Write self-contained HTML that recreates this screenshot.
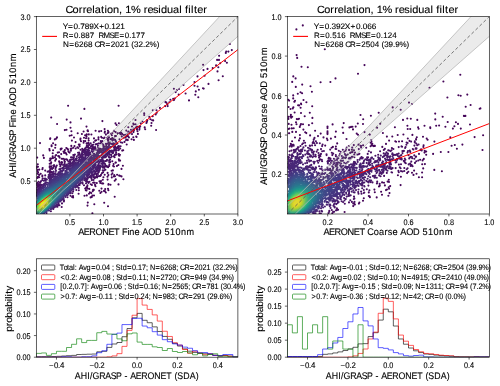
<!DOCTYPE html><html><head><meta charset="utf-8"><style>html,body{margin:0;padding:0;background:#fff;width:500px;height:386px;overflow:hidden}svg{display:block;will-change:transform}text{font-family:"Liberation Sans",sans-serif;fill:#000;stroke:#000;stroke-width:0.12px;text-rendering:geometricPrecision}</style></head><body>
<svg width="500" height="386" viewBox="0 0 500 386"><defs><clipPath id="ctl"><rect x="36.3" y="16.6" width="201.60" height="197.40"/></clipPath><clipPath id="ctr"><rect x="287.3" y="16.6" width="202.00" height="197.40"/></clipPath><clipPath id="cbl"><rect x="36.3" y="258.8" width="201.60" height="98.40"/></clipPath><clipPath id="cbr"><rect x="287.3" y="258.8" width="202.00" height="98.40"/></clipPath></defs>
<g clip-path="url(#ctl)" stroke-linecap="round" stroke-width="2.1" fill="none">
<path stroke="#450559" d="M156.1 130.0h0M118.6 105.7h0M51.2 117.5h0M68.1 105.7h0M84.4 108.9h0M203.1 64.8h0M92.4 213.2h0M108.0 206.2h0M57.1 124.0h0M40.0 143.1h0M66.7 119.6h0M114.7 196.8h0M229.9 44.0h0M104.2 202.7h0M102.4 121.1h0M94.3 204.3h0M81.0 118.6h0M198.3 97.3h0M70.5 122.4h0M173.9 88.7h0M37.2 157.6h0M185.6 93.5h0M217.5 71.4h0M222.8 76.2h0M218.6 80.3h0M189.0 100.4h0M87.5 205.6h0M123.4 179.2h0M194.5 82.0h0M226.9 62.7h0M71.4 131.3h0M118.5 184.4h0M197.6 86.5h0M204.6 75.7h0M194.5 85.7h0M197.5 76.4h0M203.5 70.1h0M86.5 126.6h0M50.3 138.3h0M50.1 138.9h0M144.2 113.4h0M69.7 135.7h0M152.8 110.3h0M231.8 50.1h0M208.5 83.9h0M70.5 127.8h0M219.1 55.8h0M71.6 135.2h0M183.5 85.0h0M207.5 68.9h0M151.2 125.8h0M225.1 61.1h0M122.9 165.8h0M218.3 67.3h0M87.8 202.6h0M144.2 115.0h0M195.8 91.4h0M77.7 133.3h0M64.8 130.1h0M195.3 94.7h0M66.5 129.7h0M212.7 68.1h0M43.9 157.9h0M115.5 123.4h0M43.2 155.4h0M217.1 59.9h0M118.9 123.2h0M203.7 88.6h0M220.2 63.3h0M37.8 164.3h0M74.0 137.5h0M216.1 65.4h0M219.0 59.9h0M198.9 89.7h0M177.0 90.1h0M226.2 51.5h0M179.0 89.0h0M228.4 51.6h0M203.0 88.2h0M121.5 176.4h0M175.7 92.1h0M61.7 207.0h0M135.5 120.0h0M99.1 131.4h0M55.2 147.8h0M178.7 94.5h0M104.6 129.1h0M225.8 52.9h0M71.9 140.6h0M95.6 130.8h0M53.1 150.2h0M121.5 168.9h0M57.0 137.4h0M101.2 131.0h0M54.8 139.4h0M37.0 166.6h0M55.5 144.9h0M105.8 192.5h0M56.3 138.6h0M116.6 125.0h0M36.7 167.6h0M145.2 129.3h0M151.5 123.0h0M108.4 190.3h0M167.7 106.1h0M83.6 131.5h0M165.4 102.1h0M53.1 143.2h0M38.0 166.7h0M51.6 145.4h0M49.7 150.5h0M156.5 110.2h0M133.9 139.9h0M153.2 120.4h0M49.4 149.1h0M51.6 146.2h0M81.9 134.0h0M73.1 197.4h0M87.7 130.2h0M52.7 153.3h0M90.6 197.4h0M159.9 107.9h0M84.5 195.7h0M119.9 175.7h0M173.9 100.1h0M118.4 165.0h0M91.8 196.9h0M136.5 136.9h0M37.5 169.9h0M87.5 130.7h0M174.7 98.5h0M78.6 193.8h0M119.1 175.6h0M152.2 120.2h0M92.4 195.5h0M94.0 195.5h0M88.0 131.2h0M166.4 102.6h0M101.5 188.6h0M156.7 112.7h0M136.2 136.5h0M99.3 190.7h0M155.7 114.5h0M120.1 160.6h0M165.2 106.1h0M116.9 166.0h0M173.2 98.7h0M170.4 99.8h0M144.7 127.4h0M86.8 195.4h0M114.7 180.8h0M100.4 193.0h0M108.0 188.8h0M115.8 179.4h0M37.7 171.6h0M91.4 134.5h0M104.8 191.1h0M133.3 123.6h0M167.4 104.2h0M149.3 116.9h0M37.5 173.7h0M104.9 131.6h0M39.3 169.6h0M137.9 133.9h0M101.6 191.7h0M117.1 174.8h0M108.5 184.1h0M110.5 184.8h0M38.1 172.6h0M169.4 102.3h0M72.1 197.0h0M108.4 184.7h0M104.0 190.9h0M119.0 160.6h0M112.4 173.3h0M103.2 183.5h0M112.9 170.4h0M152.7 116.2h0M91.2 193.1h0M37.4 177.9h0M75.6 142.1h0M73.0 196.1h0M89.0 193.7h0M111.6 174.6h0M115.0 176.2h0M105.2 189.1h0M114.2 175.1h0M118.8 159.3h0M38.0 176.7h0M113.9 130.9h0M131.6 139.2h0M111.6 170.8h0M88.8 134.4h0M128.3 127.3h0M113.9 176.5h0M80.5 138.5h0M111.8 177.4h0M107.6 179.6h0M107.9 130.8h0M133.3 137.2h0M86.7 134.4h0M126.7 144.5h0M60.7 148.9h0M115.6 132.1h0M102.2 183.5h0M150.4 119.3h0M133.6 124.5h0M85.1 135.3h0M102.1 183.4h0M88.5 138.4h0M39.2 174.9h0M61.7 148.5h0M92.7 191.2h0M114.0 166.5h0M89.8 192.3h0M142.5 121.5h0M104.7 132.7h0M42.7 168.0h0M123.2 150.2h0M108.4 175.1h0M93.8 189.9h0M88.7 140.5h0M42.4 169.2h0M107.5 176.7h0M107.6 172.9h0M147.1 120.0h0M135.5 124.3h0M86.5 190.4h0M146.4 123.0h0M61.0 149.3h0M80.4 139.8h0M147.3 120.3h0M93.1 189.7h0M40.7 173.7h0M86.5 136.4h0M85.8 190.3h0M94.0 138.4h0M119.6 155.6h0M147.0 121.8h0M115.9 162.6h0M60.7 149.6h0M39.2 177.3h0M113.2 165.9h0M66.3 148.0h0M84.0 137.7h0M103.4 177.3h0M100.3 183.0h0M108.6 132.0h0M115.5 162.6h0M102.8 179.7h0M85.3 141.1h0M119.9 154.7h0M86.0 138.3h0M112.4 133.0h0M71.3 145.9h0M89.3 188.9h0M95.5 186.3h0M104.7 174.7h0M101.0 181.1h0M122.2 150.6h0M78.3 148.0h0M137.5 131.3h0M117.6 133.2h0M83.6 142.8h0M139.4 129.6h0M108.1 132.7h0M140.8 123.2h0M132.0 126.5h0M99.5 181.2h0M78.8 190.3h0M119.0 155.6h0M79.6 146.2h0M121.1 132.6h0M119.6 133.0h0M95.0 184.9h0M83.7 141.1h0M107.7 133.2h0M85.2 188.5h0M50.2 158.6h0M96.8 183.1h0M113.6 164.1h0M81.0 141.3h0M110.8 133.7h0M77.4 147.3h0M87.4 188.5h0M75.7 148.5h0M98.5 137.4h0M126.3 130.6h0M67.3 148.8h0M52.7 156.4h0M79.7 144.6h0M64.9 150.1h0M78.8 144.6h0M57.7 152.6h0M105.9 134.6h0M127.8 140.1h0M111.9 135.3h0M86.4 187.4h0M49.7 160.5h0M86.6 143.4h0M69.6 152.6h0M139.6 128.0h0M74.5 146.1h0M119.1 154.2h0M51.0 158.7h0M59.0 152.2h0M45.2 170.6h0M49.7 163.8h0M101.2 136.9h0M63.5 151.5h0M50.3 160.2h0M66.6 154.5h0M94.7 182.8h0M87.3 186.7h0M91.9 185.0h0M120.5 134.2h0M68.0 149.4h0M140.2 126.2h0M122.2 133.9h0M73.3 147.8h0M51.0 163.6h0M51.2 162.4h0M70.9 150.7h0M59.6 157.6h0M70.7 148.7h0M71.5 148.6h0M61.7 158.8h0M70.8 150.3h0M118.7 154.0h0M68.7 151.9h0M55.2 160.8h0M52.5 158.1h0M66.0 153.3h0M108.5 136.5h0M63.1 158.7h0M64.1 152.9h0M61.2 154.1h0M64.8 152.4h0M128.9 137.4h0M56.1 159.1h0M55.7 159.4h0M59.2 156.3h0M68.4 151.3h0M56.1 155.1h0M42.4 175.6h0M55.6 155.5h0M49.7 166.4h0M137.0 129.6h0M88.3 142.9h0M53.1 158.0h0M58.2 156.1h0M138.5 126.8h0M109.0 137.6h0M102.0 137.7h0M49.7 166.7h0M136.8 126.6h0M93.6 182.5h0M54.9 157.2h0M132.0 134.1h0M87.4 185.3h0M126.8 139.5h0M90.8 184.3h0M115.0 136.1h0M93.1 182.8h0M137.0 128.9h0M107.3 137.8h0M42.3 176.3h0M115.9 136.1h0M135.9 127.1h0M64.6 159.3h0M104.5 137.5h0M126.0 140.1h0M107.4 138.9h0M98.4 139.4h0M59.1 161.4h0M49.7 167.4h0M133.5 132.1h0M103.8 138.2h0M37.2 183.0h0M51.2 166.3h0M96.1 140.3h0M88.8 143.2h0M100.3 176.0h0M112.3 161.2h0M124.5 141.9h0M36.7 183.7h0M109.2 165.9h0M133.9 128.6h0M66.4 159.3h0M108.1 167.3h0M108.5 139.8h0M95.2 140.7h0M123.8 135.0h0M131.0 129.9h0M73.3 155.0h0M112.3 138.1h0M128.2 131.8h0M84.0 185.3h0M133.9 130.4h0M121.8 136.4h0M128.7 131.6h0M80.5 149.7h0M38.5 181.8h0M110.7 139.1h0M132.4 129.7h0M114.6 157.2h0M64.4 160.7h0M128.3 132.1h0M101.0 174.9h0M70.5 195.8h0M61.5 162.0h0M116.5 154.4h0M53.3 165.7h0M108.0 140.7h0M131.4 130.6h0M59.6 162.8h0M127.8 135.7h0M120.2 148.5h0M127.1 136.2h0M125.4 134.9h0M125.3 137.6h0M109.4 164.3h0M103.1 172.3h0M131.3 131.7h0M62.2 162.2h0M54.2 165.4h0"/>
<path stroke="#470e61" d="M99.3 176.1h0M102.3 141.1h0M111.6 139.3h0M54.0 165.6h0M129.7 133.5h0M105.4 169.7h0M125.9 136.7h0M88.5 183.0h0M107.7 166.6h0M74.4 154.8h0M62.0 203.4h0M113.5 138.8h0M125.8 135.2h0M71.0 157.2h0M129.7 132.4h0M74.9 154.5h0M100.7 141.1h0M127.1 135.3h0M127.5 134.0h0M123.8 137.7h0M101.3 141.5h0M67.3 159.9h0M122.3 142.8h0M101.9 143.2h0M102.4 172.7h0M101.9 173.2h0M47.6 171.8h0M119.0 149.7h0M93.8 142.2h0M82.2 148.9h0M50.3 169.0h0M110.2 162.1h0M101.3 142.2h0M51.4 168.1h0M74.4 155.1h0M115.5 154.4h0M86.9 145.4h0M114.9 155.2h0M50.5 168.9h0M97.1 177.5h0M119.5 139.2h0M103.9 170.6h0M90.7 143.4h0M64.9 161.7h0M54.0 166.4h0M61.7 163.4h0M93.5 180.0h0M63.9 201.4h0M100.7 143.1h0M104.2 170.2h0M118.3 150.2h0M54.5 166.2h0M113.8 139.7h0M106.9 166.7h0M37.7 183.7h0M78.7 187.9h0M109.7 162.3h0M113.8 156.3h0M112.3 140.1h0M120.7 142.2h0M86.0 183.3h0M89.5 181.8h0M103.3 144.5h0M48.5 171.4h0M59.8 164.4h0M76.3 190.0h0M87.5 145.2h0M120.6 146.3h0M115.2 139.9h0M114.8 154.7h0M71.6 157.5h0M98.1 176.2h0M72.0 157.2h0M42.6 178.3h0M56.8 165.6h0M36.9 185.2h0M45.2 175.4h0M59.4 205.3h0M78.0 152.8h0M60.2 164.6h0M50.1 170.1h0M116.1 152.6h0M112.4 140.6h0M98.9 143.5h0M98.4 143.5h0M53.2 167.9h0M105.9 143.7h0M91.8 180.1h0M57.5 206.7h0M109.1 161.9h0M106.5 166.0h0M89.1 144.9h0M61.0 164.8h0M108.8 142.3h0M52.2 168.9h0M115.8 141.0h0M115.7 141.1h0M72.3 193.3h0M96.9 144.0h0M86.7 146.3h0M110.1 159.8h0M118.6 148.4h0M95.2 177.7h0M87.6 181.8h0M94.5 178.2h0M49.8 171.4h0M97.9 145.7h0M95.6 144.4h0M116.0 141.7h0M55.9 167.4h0M117.4 143.5h0M102.7 170.3h0M79.2 152.6h0M118.8 147.4h0M38.1 184.6h0M96.6 176.3h0M106.1 144.2h0M118.3 148.2h0M98.4 147.7h0M95.2 177.3h0M104.3 168.0h0M97.7 147.6h0M94.5 177.7h0M64.6 163.4h0M111.7 156.6h0M93.1 144.8h0M116.3 143.3h0M109.1 160.2h0M40.9 181.2h0M118.8 146.1h0M49.9 171.8h0M107.6 143.6h0M73.9 157.1h0M103.3 145.9h0M116.4 144.0h0M118.4 147.2h0M49.7 172.2h0M88.1 146.2h0M96.7 175.8h0M110.7 157.5h0M104.9 166.7h0M50.9 211.2h0M91.9 145.2h0M40.0 182.5h0M116.2 150.6h0M86.4 147.3h0M109.6 143.2h0M38.8 184.2h0M37.0 187.4h0M70.1 159.9h0M64.0 200.5h0M60.3 166.5h0M40.9 181.6h0M57.0 206.7h0M117.9 146.6h0M85.2 148.3h0M86.9 147.2h0M86.7 181.4h0M110.5 143.4h0M114.1 143.5h0M115.1 144.7h0M42.3 180.1h0M70.7 159.8h0M113.1 143.4h0M73.8 157.7h0M104.7 166.2h0M67.5 197.2h0M37.4 187.0h0M113.6 143.6h0M95.1 147.0h0M86.4 181.4h0M91.5 178.8h0M113.2 143.6h0M63.1 165.0h0M55.5 169.0h0M82.6 183.6h0M96.1 149.2h0M38.9 184.7h0M98.0 174.0h0M68.3 161.5h0M37.7 186.8h0M95.1 148.2h0M38.1 186.1h0M116.9 148.4h0M87.7 147.0h0M82.3 150.8h0M113.9 144.7h0M50.6 172.1h0M105.3 164.9h0M50.2 172.5h0M111.8 144.0h0M83.7 149.8h0M90.8 146.4h0M71.4 159.7h0M106.4 145.3h0M114.7 146.1h0M84.1 149.6h0M92.8 146.8h0M109.4 157.6h0M103.9 166.7h0M112.9 144.8h0M93.9 147.6h0M93.7 177.0h0M115.2 146.6h0M109.2 144.6h0M115.2 150.6h0M91.4 178.4h0M88.1 147.3h0M86.5 180.9h0M95.3 150.0h0M115.8 147.2h0M51.5 171.9h0M92.8 147.4h0M93.4 177.1h0M115.7 149.5h0M106.9 160.8h0M115.3 147.2h0M109.1 157.5h0M36.8 189.2h0M113.0 153.1h0M69.0 161.5h0M85.9 181.1h0M78.2 155.0h0M93.5 148.5h0M113.3 146.5h0M39.4 184.9h0M82.2 151.5h0M104.5 146.6h0M109.0 145.3h0M102.8 167.6h0M111.2 154.9h0M79.5 154.1h0M39.8 184.5h0M51.2 172.4h0M93.4 149.8h0M104.9 163.9h0M112.6 153.1h0M103.4 166.4h0M72.9 159.3h0M64.8 164.7h0M83.7 150.6h0M107.0 159.7h0M113.2 152.3h0M73.1 191.5h0M109.0 157.0h0M100.2 148.9h0M38.6 186.7h0M114.1 147.8h0M76.8 156.6h0M92.4 149.0h0M99.2 149.4h0M49.7 173.9h0M111.2 146.8h0M89.6 148.0h0M82.5 151.7h0M114.7 149.8h0M44.6 178.8h0M96.3 174.3h0M114.8 148.9h0M97.4 150.3h0M40.3 184.2h0M97.5 173.2h0M91.5 148.6h0M84.9 149.9h0M98.8 171.9h0M53.3 209.0h0M106.0 146.6h0M91.7 149.0h0M114.1 150.5h0M105.7 161.1h0M93.1 176.7h0M39.3 186.0h0M58.6 204.7h0M52.1 172.3h0M93.4 176.4h0M114.3 149.5h0M58.4 204.9h0M110.1 147.1h0"/>
<path stroke="#48186a" d="M93.0 151.3h0M108.4 146.7h0M48.7 175.0h0M86.1 149.5h0M93.8 176.0h0M103.5 147.7h0M53.6 171.5h0M85.4 150.0h0M53.4 171.7h0M109.0 147.3h0M88.8 148.8h0M107.2 147.1h0M112.2 152.5h0M45.3 178.6h0M91.6 151.1h0M79.6 185.0h0M107.8 147.5h0M64.7 165.3h0M107.0 147.4h0M113.1 150.7h0M108.7 156.2h0M110.1 154.6h0M87.0 149.6h0M91.3 177.2h0M81.7 153.3h0M82.2 152.9h0M108.7 148.8h0M87.3 179.4h0M98.3 150.5h0M99.5 170.3h0M56.0 170.8h0M99.9 169.8h0M98.9 170.9h0M92.6 152.4h0M102.2 166.4h0M109.9 154.6h0M104.0 162.1h0M112.4 151.2h0M49.7 174.7h0M59.3 169.2h0M102.9 164.8h0M102.1 166.5h0M43.8 180.7h0M70.4 161.9h0M105.7 148.2h0M87.8 150.1h0M37.7 189.3h0M102.0 149.0h0M89.1 150.6h0M107.7 149.6h0M108.1 149.9h0M75.4 158.9h0M111.8 150.5h0M99.5 150.2h0M73.6 160.1h0M83.9 152.1h0M55.9 171.1h0M106.6 149.1h0M80.1 155.3h0M88.3 150.6h0M103.0 163.6h0M81.5 154.1h0M82.4 182.4h0M104.6 148.7h0M103.1 163.0h0M111.2 151.0h0M102.9 163.3h0M106.0 149.6h0M87.8 150.9h0M60.2 169.0h0M110.5 150.8h0M90.0 152.6h0M111.1 151.7h0M108.7 150.8h0M102.8 163.5h0M84.9 151.8h0M90.0 152.7h0M98.0 171.3h0M65.3 165.5h0M40.9 185.3h0M103.8 160.9h0M103.8 149.1h0M66.9 164.5h0M39.1 187.8h0M53.1 172.9h0M107.4 151.2h0M49.4 175.5h0M68.6 163.5h0M97.7 151.3h0M110.6 151.8h0M110.0 151.3h0M93.0 153.2h0M86.8 151.5h0M37.0 190.7h0M105.7 151.1h0M105.2 150.5h0M108.1 151.4h0M82.2 154.1h0M88.2 152.1h0M94.8 174.1h0M66.7 164.7h0M110.2 151.8h0M76.8 158.4h0M50.2 175.0h0M41.1 185.3h0M98.4 170.5h0M108.0 151.7h0M85.2 152.4h0M108.9 154.1h0M106.7 152.0h0M85.8 152.2h0M60.6 169.0h0M89.1 153.4h0M49.9 175.4h0M103.1 161.1h0M84.7 152.8h0M109.2 152.2h0M100.0 168.2h0M102.1 150.0h0M98.6 170.1h0M104.3 151.6h0M49.0 176.2h0M109.2 152.6h0M77.0 186.9h0M78.9 157.3h0M69.8 163.1h0M56.6 205.9h0M103.2 150.3h0M95.7 172.9h0M85.7 152.8h0M100.7 166.6h0M100.0 168.0h0M100.8 150.4h0M89.9 154.0h0M102.4 161.8h0M86.8 153.0h0M93.8 174.5h0M108.3 152.6h0M75.4 159.8h0M90.0 176.9h0M100.9 166.0h0M100.5 150.6h0M51.7 174.3h0M48.3 177.0h0M49.9 175.6h0M103.6 152.3h0M105.4 153.1h0M101.4 163.8h0M79.1 184.8h0M46.0 179.5h0M62.3 168.1h0M105.6 157.2h0M84.7 153.5h0M74.2 160.7h0M51.0 174.9h0M106.2 156.4h0M88.4 177.7h0M39.9 187.3h0M107.1 155.3h0M70.4 193.2h0M92.9 175.0h0M63.2 167.5h0M98.8 151.3h0M79.4 157.2h0M65.2 166.2h0M94.2 174.0h0M42.0 184.7h0M86.8 178.7h0M64.2 166.8h0M45.5 180.2h0M36.9 191.3h0M86.3 179.0h0M88.5 154.2h0M86.2 153.8h0M79.8 157.0h0M91.0 176.1h0M79.8 157.0h0M107.3 153.8h0M83.4 154.7h0M89.8 176.8h0M89.8 154.5h0M86.5 154.1h0M102.3 161.1h0M102.7 152.3h0M84.4 180.2h0M88.1 154.4h0M105.9 153.8h0M106.9 154.2h0M87.7 154.4h0M102.9 160.1h0M90.9 154.6h0M85.1 179.7h0M100.7 151.1h0M79.4 157.6h0M55.2 206.8h0M78.1 185.6h0M66.6 165.5h0M60.4 169.7h0M102.3 153.8h0M102.6 154.4h0M102.1 152.6h0M81.7 156.2h0M101.8 161.3h0M58.6 203.9h0M101.4 151.4h0M40.2 187.3h0M46.6 179.4h0M102.1 154.3h0M94.2 153.7h0M105.4 156.1h0M73.1 161.8h0M99.9 165.6h0M101.5 161.5h0M45.5 180.8h0M38.8 189.1h0M98.5 151.9h0M105.0 155.0h0M80.6 183.1h0M40.8 186.7h0M104.2 155.3h0M99.3 167.1h0M65.5 166.4h0M104.8 155.8h0M97.6 152.4h0M104.1 157.5h0M91.9 175.0h0M81.6 156.7h0M101.2 161.5h0M82.1 156.4h0M91.1 175.5h0M38.5 189.7h0M104.4 156.1h0M97.5 169.9h0M52.9 174.3h0M99.3 166.1h0M85.4 155.4h0M52.6 174.6h0M69.4 164.2h0M103.3 156.0h0M60.3 170.0h0M50.8 175.8h0M98.9 167.3h0M96.2 171.3h0M87.0 155.5h0M55.5 173.0h0M87.6 177.6h0M88.5 155.5h0M74.2 161.6h0M76.4 160.2h0M103.3 156.4h0M101.0 155.5h0M87.4 155.5h0M98.7 152.2h0M102.2 159.4h0M46.9 179.6h0M92.4 174.4h0M92.5 174.3h0M36.8 192.0h0M98.3 168.2h0M100.1 152.2h0M95.9 171.4h0M102.2 156.6h0M96.7 153.1h0M95.4 171.8h0M102.6 158.1h0M54.7 173.6h0M88.3 155.8h0M46.5 213.0h0M100.3 155.7h0M49.8 177.0h0M71.2 163.6h0M97.9 152.8h0M82.5 157.1h0M53.7 174.3h0M101.9 157.6h0M50.7 176.3h0M48.8 178.0h0M85.5 156.3h0M97.6 168.3h0M94.9 171.9h0M98.9 152.8h0M99.3 152.9h0M70.6 192.5h0M63.5 199.2h0M57.2 204.9h0M96.8 169.7h0M73.4 189.7h0M98.0 165.8h0M97.3 168.7h0M101.0 159.9h0M99.5 162.5h0M76.8 160.5h0M100.1 161.4h0M66.2 166.6h0M55.0 206.7h0M53.4 208.0h0M71.8 163.4h0M81.3 158.0h0M79.6 183.7h0M99.8 157.3h0M98.5 164.2h0M99.8 161.7h0M39.7 188.6h0M79.1 159.2h0M98.0 165.2h0M50.5 176.8h0M99.2 156.6h0M98.7 163.4h0M67.5 166.1h0M97.2 167.3h0M99.9 161.2h0M36.9 192.4h0M72.9 163.0h0M54.0 207.4h0M96.8 168.5h0M90.8 155.9h0M60.6 170.5h0M66.8 166.6h0M70.0 164.8h0M79.1 159.5h0M83.6 157.4h0M99.4 161.6h0"/>
<path stroke="#482071" d="M98.2 153.6h0M93.0 155.2h0M49.7 177.8h0M55.6 206.1h0M96.7 166.8h0M50.2 177.4h0M44.1 183.9h0M68.5 165.8h0M94.3 154.8h0M97.0 153.9h0M96.2 168.4h0M50.7 177.1h0M69.3 165.4h0M93.8 155.0h0M98.9 159.2h0M69.5 165.4h0M96.1 167.6h0M45.4 182.6h0M64.0 168.6h0M95.6 169.1h0M98.1 155.2h0M91.5 173.8h0M75.3 187.6h0M82.3 158.3h0M67.3 166.8h0M94.0 171.5h0M98.8 161.1h0M97.8 156.3h0M63.4 169.1h0M85.2 157.5h0M91.4 156.2h0M89.8 156.7h0M95.6 154.7h0M89.0 156.9h0M98.6 160.9h0M90.4 156.5h0M93.6 171.6h0M94.4 170.5h0M49.8 178.1h0M49.4 178.5h0M97.3 158.2h0M97.6 159.2h0M98.2 161.4h0M93.1 172.0h0M97.3 157.3h0M98.1 161.6h0M51.2 177.2h0M53.5 175.5h0M46.0 182.2h0M74.1 163.1h0M52.2 176.4h0M78.0 160.8h0M93.3 171.4h0M58.6 172.3h0M68.0 194.6h0M37.8 191.6h0M96.5 154.9h0M97.6 160.1h0M67.6 195.0h0M70.2 165.5h0M66.5 167.7h0M72.7 164.1h0M80.2 159.8h0M87.0 176.8h0M92.1 172.5h0M95.8 155.2h0M65.8 168.2h0M36.9 193.0h0M65.4 196.9h0M75.9 162.3h0M96.6 159.5h0M88.4 157.5h0M54.3 206.9h0M85.3 178.1h0M69.2 166.4h0M89.3 174.8h0M61.1 171.1h0M94.7 155.7h0M90.4 157.1h0M97.0 162.1h0M88.0 175.9h0M95.1 155.7h0M81.7 159.4h0M96.2 158.7h0M84.0 158.6h0M96.2 156.6h0M43.0 185.9h0M49.7 178.9h0M63.4 169.9h0M95.7 165.0h0M94.6 167.3h0M59.7 172.0h0M96.6 161.7h0M57.2 204.4h0M88.1 175.6h0M56.0 205.4h0M39.6 189.6h0M75.1 163.0h0M96.0 160.0h0M91.8 172.0h0M76.7 185.8h0M71.6 165.2h0M87.9 157.9h0M36.7 193.5h0M94.9 156.0h0M94.5 167.1h0M68.4 194.0h0M68.5 167.2h0M82.6 159.3h0M95.6 164.3h0M95.5 158.8h0M55.8 174.7h0M63.7 170.0h0M95.8 161.1h0M53.5 176.2h0M94.9 165.7h0M72.5 164.8h0M62.9 170.4h0M42.2 186.9h0M87.0 158.3h0M84.3 178.6h0M70.0 166.5h0M79.3 183.2h0M69.2 167.0h0M95.4 160.3h0M40.2 189.1h0M95.1 156.9h0M67.0 195.3h0M61.9 171.1h0M45.1 184.0h0M68.9 167.2h0M69.9 166.6h0M95.2 164.5h0M93.5 168.3h0M94.9 157.3h0M94.6 156.9h0M70.0 192.4h0M84.6 178.3h0M89.0 174.4h0M80.5 160.5h0M94.9 159.9h0M38.4 191.4h0M94.2 166.4h0M69.7 192.6h0M52.2 177.3h0M43.9 185.4h0M85.3 158.9h0M60.1 172.3h0M89.3 158.1h0M95.4 162.6h0M88.7 174.5h0M62.6 170.9h0M95.3 163.4h0M68.9 193.4h0M94.7 159.4h0M63.4 198.5h0M92.9 169.0h0M50.9 209.3h0M74.1 164.1h0M79.4 161.1h0M95.1 163.9h0M93.4 157.2h0M51.6 177.9h0M93.7 167.0h0M94.5 158.5h0M72.2 165.4h0M83.0 159.7h0M94.9 163.9h0M93.9 157.4h0M73.0 189.2h0M80.3 160.7h0M94.4 159.4h0M37.7 192.4h0M95.0 163.0h0M51.3 178.2h0M57.2 174.2h0M61.7 171.6h0M87.8 175.2h0M51.9 208.5h0M94.2 158.8h0M49.8 179.5h0M61.2 200.5h0M58.4 173.5h0M41.1 188.4h0M91.9 157.7h0M70.4 191.8h0M90.8 172.0h0M87.5 158.9h0M67.8 168.5h0M58.6 173.4h0M93.8 166.1h0M94.0 159.7h0M70.6 166.7h0M94.5 163.3h0M46.7 182.7h0M94.2 161.9h0M84.7 159.5h0M85.5 159.3h0M80.2 161.0h0M61.8 199.9h0M60.1 201.5h0M39.4 190.5h0M87.1 175.7h0M87.9 159.0h0M66.7 169.3h0M49.0 210.6h0M93.0 158.1h0M81.8 160.5h0M90.0 172.5h0M72.5 165.6h0M93.5 160.2h0M93.8 162.0h0M83.5 160.0h0M91.8 169.7h0M90.8 171.3h0M82.5 179.7h0M93.8 164.9h0M58.8 173.7h0M65.6 196.2h0M88.0 174.5h0M88.6 173.9h0M86.9 159.5h0M78.8 162.1h0M37.6 193.0h0M92.3 158.8h0M54.3 176.5h0M81.1 161.0h0M90.3 158.9h0M93.2 162.3h0M91.7 158.8h0M90.9 170.6h0M50.1 179.8h0M38.7 191.6h0M86.1 159.8h0M58.5 174.0h0M86.7 175.7h0M75.5 164.0h0M39.3 191.0h0M49.7 180.2h0M92.1 159.3h0M93.2 163.2h0M91.7 159.1h0M73.1 165.5h0M93.1 163.6h0M60.1 173.3h0M62.4 199.1h0M53.9 206.7h0M69.0 168.5h0M47.3 182.7h0M92.4 166.9h0M51.1 179.1h0M90.2 171.3h0M77.9 162.8h0M92.5 162.5h0M43.2 186.9h0"/>
<path stroke="#482878" d="M90.4 170.7h0M91.8 160.3h0M58.7 174.2h0M89.0 172.9h0M92.7 165.2h0M67.6 169.6h0M91.7 168.2h0M68.1 169.3h0M90.1 159.7h0M81.7 161.3h0M92.5 165.6h0M80.5 161.7h0M89.6 159.8h0M88.4 160.0h0M72.0 189.8h0M65.4 171.1h0M90.7 160.0h0M77.0 163.5h0M84.4 160.7h0M39.3 191.3h0M76.2 164.0h0M90.4 160.1h0M60.8 173.4h0M88.2 173.5h0M55.5 176.2h0M92.2 164.4h0M41.1 189.3h0M71.1 190.6h0M91.2 161.4h0M82.4 179.3h0M66.9 194.6h0M89.6 171.5h0M80.3 181.3h0M49.7 180.8h0M74.7 165.0h0M92.0 165.1h0M85.2 160.8h0M82.0 179.7h0M91.9 165.8h0M60.6 173.7h0M90.3 170.1h0M72.3 166.7h0M90.5 161.1h0M91.1 162.4h0M88.5 160.6h0M91.2 162.7h0M85.7 160.9h0M82.9 178.7h0M80.7 180.7h0M91.2 163.7h0M43.2 187.3h0M67.1 194.4h0M72.4 189.1h0M66.2 171.1h0M41.1 189.5h0M90.9 163.2h0M75.2 165.0h0M42.4 188.2h0M45.1 185.5h0M91.3 165.4h0M75.7 185.7h0M62.3 173.3h0M61.5 173.7h0M75.2 186.2h0M90.4 162.8h0M86.6 174.8h0M72.7 188.7h0M38.4 192.8h0M74.0 165.9h0M84.4 161.6h0M81.2 162.3h0M88.4 161.5h0M63.4 197.7h0M67.6 193.7h0M55.9 176.6h0M72.4 167.0h0M69.9 168.8h0M84.6 161.7h0M52.8 207.2h0M40.3 190.7h0M63.0 198.1h0M90.7 165.6h0M41.9 189.0h0M88.6 171.8h0M65.4 172.0h0M89.0 162.1h0M65.8 171.8h0M89.7 163.0h0M36.9 195.0h0M81.2 162.5h0M60.7 174.4h0M59.9 200.9h0M76.9 164.4h0M49.7 181.4h0M84.6 176.7h0M53.9 178.0h0M82.8 162.2h0M61.8 174.0h0M90.3 164.9h0M89.2 170.5h0M89.1 162.7h0M89.8 169.0h0M81.8 179.4h0M84.8 162.0h0M90.4 166.0h0M90.1 167.9h0M58.1 175.7h0M77.7 164.1h0M73.6 187.5h0M82.0 162.5h0M78.6 163.7h0M75.3 165.5h0M71.0 168.4h0M83.2 162.4h0M88.5 162.7h0M57.6 176.0h0M58.8 201.9h0M72.6 167.3h0M88.8 170.7h0M83.0 162.6h0M51.6 180.1h0M61.1 199.6h0M74.1 166.4h0M86.9 162.5h0M75.6 165.5h0M87.6 172.7h0M46.8 184.5h0M89.6 168.6h0M88.5 163.4h0M39.2 192.2h0M37.4 194.5h0M84.0 177.0h0M59.7 175.4h0M81.4 163.0h0M89.1 169.7h0M55.6 177.3h0M87.1 173.2h0M59.4 175.5h0M89.6 167.3h0M89.2 164.9h0M69.6 169.7h0M61.6 174.7h0M85.0 162.7h0M86.5 162.8h0M69.3 191.7h0M89.4 165.9h0M87.4 163.0h0M74.3 186.5h0M80.8 163.4h0M46.2 212.0h0M89.2 168.6h0M49.7 182.0h0M85.7 162.9h0M62.4 174.4h0M72.2 188.7h0M89.2 166.6h0M59.7 175.7h0M70.5 169.3h0M82.3 178.4h0M48.7 183.0h0M50.4 181.5h0M72.2 168.1h0M87.4 172.3h0M86.2 163.3h0M88.5 165.1h0M38.9 192.9h0M73.1 167.5h0M52.3 179.9h0M39.8 191.8h0M76.7 165.3h0M76.8 183.8h0M89.1 167.8h0M54.7 178.3h0M54.3 178.5h0M50.6 181.3h0M87.9 164.3h0M79.3 164.2h0M80.7 179.9h0M64.9 195.8h0M59.5 200.9h0M74.2 166.8h0"/>
<path stroke="#46307e" d="M50.5 181.6h0M68.0 192.8h0M59.7 176.0h0M74.6 166.6h0M82.2 163.6h0M79.6 164.2h0M44.0 187.7h0M53.1 179.6h0M78.0 182.6h0M54.5 205.4h0M79.8 180.7h0M51.4 180.9h0M88.4 166.2h0M88.2 170.0h0M87.7 171.3h0M40.9 190.8h0M88.0 165.5h0M67.1 193.6h0M84.0 176.4h0M62.2 175.0h0M63.8 174.2h0M75.4 185.1h0M53.4 179.4h0M85.8 163.8h0M46.0 212.1h0M61.7 175.4h0M87.2 171.9h0M72.5 188.1h0M64.8 173.6h0M86.5 164.3h0M37.2 195.4h0M66.9 172.3h0M52.3 180.4h0M56.2 177.8h0M50.2 182.1h0M78.5 164.9h0M85.1 164.0h0M70.5 169.7h0M61.3 175.7h0M85.7 174.2h0M37.9 194.4h0M71.7 168.9h0M81.1 164.2h0M58.0 202.2h0M82.3 164.0h0M41.4 190.4h0M69.9 170.2h0M86.7 172.5h0M88.0 169.7h0M69.6 191.0h0M57.8 177.2h0M88.1 167.0h0M88.2 167.8h0M54.1 179.2h0M45.2 186.9h0M80.7 164.4h0M67.1 172.3h0M82.6 164.1h0M75.9 166.3h0M55.0 178.7h0M83.7 164.2h0M63.6 174.6h0M54.4 205.3h0M66.9 172.5h0M38.9 193.3h0M74.1 186.2h0M50.8 208.4h0M76.3 166.1h0M85.1 174.7h0M51.0 181.6h0M87.9 169.2h0M56.9 177.8h0M62.6 175.3h0M59.4 176.8h0M49.7 182.8h0M74.8 167.0h0M81.8 164.4h0M79.7 164.8h0M54.1 205.5h0M87.3 166.4h0M73.3 187.0h0M41.6 190.4h0M60.0 176.7h0M66.1 173.2h0M82.6 177.5h0M77.9 165.6h0M69.8 170.6h0M76.4 183.7h0M75.2 185.0h0M68.7 191.8h0M82.7 164.6h0M87.2 166.7h0M40.6 191.5h0M52.2 207.1h0M73.9 167.8h0M73.3 168.2h0M79.5 165.2h0M53.0 180.4h0M84.2 175.5h0M86.1 165.6h0M80.0 180.1h0M81.9 164.8h0M38.2 194.4h0M83.0 164.9h0M76.8 166.3h0M80.4 165.1h0M56.7 178.3h0M82.3 164.9h0M55.6 178.9h0M85.4 165.5h0M75.6 184.4h0M58.0 201.9h0M81.2 165.1h0M71.3 169.8h0M54.2 179.8h0M56.6 178.6h0M87.2 168.2h0M60.2 199.7h0M53.7 180.1h0M39.1 193.4h0M73.1 187.0h0M68.0 172.3h0M41.8 190.5h0M67.6 172.6h0M82.7 165.2h0M47.9 184.9h0M43.5 188.9h0M51.1 182.2h0M84.9 165.7h0M70.8 170.3h0M58.8 201.1h0M51.5 181.9h0M61.3 176.6h0M37.1 196.1h0M86.9 169.5h0M65.5 174.1h0M85.9 172.5h0M54.7 204.8h0M36.8 196.5h0M86.6 167.7h0M61.8 198.2h0M78.4 166.1h0M76.1 167.0h0M74.5 167.9h0M53.4 180.6h0M86.0 166.9h0M73.2 168.8h0M81.8 177.8h0M60.3 177.3h0M86.3 167.5h0M43.5 189.1h0M51.8 181.8h0M66.7 173.4h0M80.2 179.5h0M81.4 178.3h0M55.9 179.3h0M72.9 169.0h0M61.3 198.5h0M44.2 213.0h0M49.7 183.7h0M86.6 168.7h0M80.6 165.8h0M86.5 170.3h0M49.9 183.5h0M84.7 174.2h0M79.8 165.9h0M58.4 178.3h0M75.5 167.5h0M78.9 180.7h0M75.3 184.4h0M50.2 183.3h0M82.8 165.9h0M70.6 170.8h0M83.6 175.5h0M67.3 192.7h0M86.2 170.9h0M69.3 190.6h0M82.3 177.1h0M76.0 167.4h0M84.4 166.4h0M67.6 173.0h0M68.0 191.9h0M71.5 170.2h0M65.4 174.6h0M79.1 180.4h0M74.3 168.4h0M77.7 166.8h0M51.5 182.4h0M38.0 195.1h0M54.9 180.2h0"/>
<path stroke="#453882" d="M67.2 173.4h0M37.8 195.5h0M76.0 167.6h0M83.3 175.8h0M79.6 166.4h0M53.3 181.2h0M72.1 169.9h0M55.9 203.5h0M58.2 178.8h0M59.5 178.2h0M83.3 166.5h0M52.2 206.7h0M71.0 188.7h0M51.6 207.2h0M82.3 166.4h0M80.7 178.6h0M77.2 182.2h0M78.2 166.9h0M83.0 166.6h0M84.5 167.3h0M67.0 173.7h0M53.2 205.8h0M49.7 184.2h0M85.0 168.0h0M83.3 175.5h0M64.1 195.6h0M84.9 167.9h0M53.0 181.8h0M85.4 171.5h0M70.3 189.3h0M74.9 168.5h0M73.0 169.6h0M77.4 167.4h0M67.5 173.5h0M70.3 171.5h0M53.0 181.9h0M62.0 177.2h0M85.1 172.0h0M58.9 179.0h0M74.3 169.0h0M85.2 168.8h0M57.0 179.9h0M82.3 167.0h0M57.9 179.5h0M52.5 182.4h0M83.0 175.6h0M84.8 172.5h0M71.0 171.2h0M62.8 176.9h0M84.0 167.7h0M62.3 177.2h0M61.0 198.4h0M64.3 175.9h0M78.4 167.4h0M75.4 168.5h0M47.4 210.4h0M64.9 194.7h0M83.5 174.7h0M53.0 182.2h0M41.6 191.5h0M80.8 167.1h0M59.4 178.9h0M53.6 205.4h0M84.9 169.3h0M82.7 167.4h0M67.6 191.9h0M80.3 167.2h0M58.6 179.4h0M56.3 180.5h0M82.8 167.5h0M55.1 181.1h0M63.1 176.9h0M63.1 196.3h0M58.6 200.6h0M49.8 184.6h0M64.2 176.1h0M76.2 182.9h0M57.7 179.9h0M62.1 177.5h0M77.3 168.0h0M60.6 178.4h0M51.5 183.4h0M82.0 167.5h0M78.8 180.2h0M72.2 170.6h0M83.2 175.0h0M58.2 179.7h0M47.1 210.6h0M66.4 174.7h0M72.5 186.7h0M77.9 181.0h0M72.9 170.2h0M39.6 193.7h0M84.1 173.3h0M52.3 183.0h0M84.6 169.6h0M74.4 184.7h0M77.6 168.0h0M73.8 169.7h0M70.3 189.0h0M59.3 179.3h0M53.9 182.0h0M53.2 182.4h0M56.5 180.7h0M82.1 176.3h0M56.8 202.2h0M81.1 177.5h0M51.5 183.6h0M52.0 183.3h0M61.1 178.3h0M81.3 167.8h0M50.8 184.2h0M73.6 185.4h0M50.8 207.6h0M47.6 186.6h0M77.2 168.4h0M82.6 168.2h0M54.9 181.8h0M83.0 174.9h0M80.8 168.0h0M73.4 185.5h0M57.2 201.8h0M64.9 176.1h0M76.8 168.7h0M73.9 170.1h0M56.2 181.3h0M47.6 210.2h0M77.3 181.4h0M67.4 191.8h0M55.6 181.6h0M65.1 176.0h0M64.0 195.1h0M55.5 181.7h0M57.7 180.6h0M84.0 170.3h0M58.3 180.3h0M50.1 185.0h0M83.9 172.1h0M69.5 189.5h0M50.1 208.1h0M82.6 168.8h0"/>
<path stroke="#424086" d="M59.6 179.6h0M80.6 168.4h0M78.8 168.6h0M64.1 176.9h0M72.8 171.0h0M63.3 177.4h0M43.5 213.1h0M80.8 177.4h0M68.0 174.2h0M61.0 178.9h0M81.7 176.1h0M65.7 193.3h0M81.5 176.4h0M73.4 170.7h0M77.2 169.1h0M79.2 168.7h0M81.2 168.8h0M44.9 189.2h0M73.4 185.1h0M42.3 191.4h0M76.2 182.3h0M70.0 173.0h0M72.4 171.4h0M74.1 184.4h0M71.4 172.1h0M80.7 168.9h0M75.7 169.8h0M51.2 184.6h0M50.8 184.9h0M82.0 169.3h0M53.4 205.0h0M73.5 170.8h0M42.5 191.3h0M78.5 179.8h0M81.7 169.2h0M56.6 181.7h0M82.1 175.2h0M61.1 197.7h0M51.7 184.4h0M82.8 174.0h0M82.5 169.8h0M66.2 192.6h0M77.4 180.8h0M80.5 177.5h0M69.9 188.8h0M50.6 185.1h0M55.3 182.4h0M81.1 176.6h0M49.2 186.1h0M64.7 176.9h0M72.9 171.3h0M75.4 182.9h0M44.6 212.2h0M72.0 171.9h0M46.8 187.8h0M74.8 170.4h0M76.2 169.8h0M83.2 171.8h0M71.9 186.6h0M75.2 170.2h0M52.9 183.9h0M72.0 172.0h0M79.3 169.3h0M69.5 189.1h0M76.0 182.2h0M63.0 195.7h0M82.2 174.6h0M80.1 177.6h0M49.5 186.0h0M81.7 169.8h0M40.9 193.0h0M50.2 185.5h0M46.9 210.4h0M82.7 170.6h0M59.7 180.2h0M74.9 170.5h0M66.6 175.8h0M59.5 199.1h0M82.9 171.9h0M54.0 183.4h0M52.1 206.1h0M65.8 176.3h0M81.7 175.3h0M50.8 207.3h0M66.4 176.0h0M43.8 212.7h0M41.2 192.8h0M81.7 170.2h0M82.3 170.8h0M67.2 175.5h0M82.7 172.4h0M68.5 174.6h0M38.0 196.6h0M77.1 170.0h0M76.8 181.2h0M78.5 169.8h0M82.5 171.3h0M45.4 189.2h0M57.5 181.7h0M48.3 209.3h0M80.8 169.9h0M55.7 182.7h0M49.5 186.2h0M78.9 178.9h0M53.2 184.0h0M48.9 208.8h0M82.5 173.1h0M73.3 184.7h0M61.7 179.2h0M52.2 206.0h0M76.2 170.4h0M74.3 183.6h0M79.1 169.9h0M60.2 198.3h0M82.5 172.9h0M82.5 173.1h0M82.1 174.1h0M43.3 190.9h0M52.0 184.8h0M64.5 177.5h0M82.3 171.4h0M80.8 170.1h0M80.2 170.0h0M73.4 171.7h0M59.6 180.6h0M63.1 195.3h0M53.7 204.6h0M72.5 172.3h0M63.8 178.0h0M62.0 196.4h0M81.1 170.5h0M67.4 191.0h0M65.7 192.7h0M50.9 185.5h0M64.8 177.4h0M81.5 170.9h0M71.5 173.0h0M76.2 170.7h0M61.8 196.6h0M74.8 171.2h0M71.7 186.3h0M82.2 172.2h0M81.6 171.0h0M56.2 182.7h0M81.6 174.6h0M75.7 170.9h0M51.8 185.1h0M71.9 172.8h0M68.6 189.6h0M77.8 170.4h0M60.5 180.3h0M43.9 190.6h0M69.6 188.5h0M73.9 171.7h0M45.7 189.1h0M80.2 176.8h0M79.6 177.6h0M65.1 177.4h0"/>
<path stroke="#3f4788" d="M40.5 193.8h0M78.5 170.5h0M52.9 184.6h0M62.4 179.1h0M67.7 190.4h0M76.8 180.7h0M51.0 185.7h0M81.8 173.5h0M44.1 190.5h0M77.4 180.0h0M56.1 202.0h0M67.4 175.9h0M77.3 170.8h0M74.5 171.7h0M81.5 172.0h0M70.4 187.5h0M70.8 187.1h0M80.5 171.1h0M66.6 191.6h0M72.9 184.8h0M81.1 175.0h0M73.4 172.3h0M79.8 177.1h0M79.4 170.8h0M69.9 187.9h0M81.6 172.9h0M54.6 184.0h0M75.0 171.7h0M70.1 187.7h0M60.0 180.9h0M63.3 194.8h0M76.9 171.2h0M76.0 171.4h0M40.0 194.5h0M42.0 213.7h0M59.3 198.8h0M66.5 176.8h0M58.6 181.8h0M80.1 176.4h0M80.0 171.3h0M81.4 173.4h0M67.5 176.2h0M55.2 183.8h0M50.2 186.4h0M74.8 171.9h0M77.7 179.5h0M45.0 211.6h0M64.3 178.3h0M80.9 171.9h0M46.4 188.9h0M42.3 192.2h0M71.8 173.5h0M68.2 189.7h0M76.9 180.3h0M65.9 192.0h0M53.4 204.5h0M66.3 177.0h0M60.7 197.3h0M73.3 184.1h0M71.8 173.6h0M73.6 172.6h0M78.3 171.3h0M73.3 172.7h0M58.1 199.9h0M51.6 185.7h0M63.9 194.1h0M53.8 184.6h0M61.4 180.2h0M79.0 171.3h0M77.2 171.4h0M81.0 174.4h0M80.3 171.8h0M44.7 190.2h0M76.6 171.6h0M80.8 174.8h0M81.0 173.0h0M68.4 189.3h0M69.2 175.2h0M62.1 179.9h0M75.8 181.4h0M68.0 176.1h0M65.4 177.8h0M80.5 175.3h0M54.1 184.6h0M79.5 176.9h0M71.4 186.0h0M68.5 175.8h0M80.2 175.7h0M70.1 174.9h0M60.9 180.7h0M77.8 179.1h0M71.3 174.1h0M68.5 189.1h0M67.2 176.7h0M72.2 185.1h0M76.4 171.9h0M70.9 174.4h0M80.8 173.5h0M64.3 193.5h0M52.0 185.8h0M42.9 191.8h0M57.5 182.9h0M59.1 181.9h0M64.7 178.4h0M55.1 202.7h0M74.4 182.7h0M66.9 177.0h0M50.9 186.4h0M60.2 181.2h0M65.4 192.4h0M79.8 176.2h0M54.7 184.5h0M73.4 173.2h0M75.2 172.4h0M41.5 193.2h0M77.6 171.9h0M76.8 172.1h0M79.7 172.3h0M50.3 186.8h0M40.5 194.3h0M69.6 175.4h0M54.2 203.5h0M79.3 176.8h0M53.2 204.5h0M72.3 184.8h0M78.0 178.6h0M58.4 182.5h0M40.8 194.0h0M80.1 172.9h0M48.5 187.9h0M76.0 172.4h0M62.1 195.7h0M53.0 185.5h0M46.9 188.9h0M72.8 184.2h0M62.0 195.7h0M80.3 173.9h0M55.6 202.1h0M70.3 186.9h0M78.1 178.3h0M77.1 179.5h0M74.9 182.0h0M70.6 174.9h0M70.2 175.2h0M57.2 200.5h0M79.1 172.4h0M80.2 174.6h0M68.6 188.7h0M77.3 172.3h0M59.8 181.8h0M53.1 185.5h0M62.2 180.2h0M70.5 186.6h0M72.4 174.0h0M78.7 177.5h0M62.0 180.5h0M78.4 172.4h0M64.7 178.7h0M75.4 172.8h0M50.0 187.1h0M67.3 190.1h0M78.0 172.4h0M44.1 212.1h0M38.8 196.4h0M38.2 197.3h0M73.6 183.2h0M61.6 180.7h0"/>
<path stroke="#3d4e8a" d="M79.3 172.8h0M68.0 189.3h0M67.7 176.9h0M67.6 177.0h0M69.9 175.6h0M79.5 173.1h0M51.0 186.7h0M54.2 185.1h0M57.5 183.3h0M65.8 178.2h0M76.2 180.3h0M42.9 192.1h0M79.6 175.6h0M47.2 209.7h0M48.0 188.4h0M61.2 181.1h0M54.2 203.4h0M75.5 173.1h0M79.7 174.7h0M76.9 172.8h0M59.0 198.6h0M79.1 176.3h0M59.5 198.0h0M79.7 174.3h0M45.5 190.1h0M61.3 196.2h0M45.0 190.5h0M75.1 181.5h0M58.0 183.2h0M69.1 176.4h0M56.2 184.2h0M79.4 175.2h0M76.6 179.7h0M65.3 178.8h0M79.2 173.6h0M71.0 175.3h0M73.1 183.5h0M56.7 200.7h0M72.4 184.2h0M46.3 189.6h0M41.7 193.4h0M75.7 173.3h0M54.6 185.1h0M40.0 195.2h0M50.7 187.1h0M63.4 180.0h0M71.2 175.3h0M48.1 188.5h0M78.2 177.5h0M68.6 188.3h0M60.4 181.9h0M70.6 186.0h0M74.0 174.0h0M74.2 182.2h0M68.1 177.2h0M61.8 181.1h0M71.6 175.2h0M78.8 176.1h0M60.8 181.7h0M78.9 174.0h0M60.3 182.0h0M77.1 178.9h0M68.8 176.8h0M65.1 179.1h0M55.3 184.9h0M69.4 176.5h0M72.5 174.8h0M78.5 176.6h0M63.7 193.5h0M58.0 199.3h0M64.4 179.6h0M69.4 187.3h0M75.8 173.7h0M76.7 179.3h0M59.9 182.4h0M58.6 183.2h0M43.7 191.8h0M38.7 196.9h0M42.1 213.2h0M43.3 192.1h0M60.8 196.5h0M65.1 191.9h0M51.5 186.9h0M73.8 174.4h0M74.3 181.9h0M66.6 190.3h0M58.4 198.9h0M64.9 179.4h0M78.7 175.3h0M69.8 176.5h0M40.5 194.8h0M45.2 211.1h0M62.9 194.2h0M76.8 173.8h0M42.8 192.6h0M71.1 175.9h0M78.5 175.6h0M75.1 180.8h0M52.9 186.3h0M72.6 175.1h0M40.0 195.4h0M78.2 174.3h0M53.9 185.9h0M76.2 174.0h0M53.9 203.4h0M78.4 176.1h0M56.1 201.2h0M55.9 184.9h0M63.9 180.2h0M42.0 193.3h0M77.4 174.2h0M77.9 174.5h0M66.9 189.8h0M39.8 195.7h0M64.8 179.8h0M78.2 175.1h0M54.0 185.9h0M76.1 179.5h0M70.5 176.5h0M73.4 182.6h0M74.0 174.8h0M65.3 179.5h0M55.5 185.2h0M68.2 188.3h0M56.2 184.8h0M52.8 186.6h0M74.4 174.7h0M51.6 205.6h0M72.0 175.8h0M74.7 174.7h0M78.0 175.8h0M59.6 183.0h0M67.5 189.0h0M65.7 179.4h0M43.5 192.1h0M61.8 181.7h0M56.6 184.7h0M41.5 194.0h0M72.4 183.6h0M76.1 174.5h0M37.6 198.7h0M77.9 175.8h0M57.6 184.2h0"/>
<path stroke="#39558c" d="M76.2 179.2h0M54.6 185.8h0M62.3 181.5h0M60.9 182.3h0M77.7 176.5h0M52.8 204.3h0M59.3 183.3h0M41.4 213.5h0M60.3 196.7h0M63.7 193.0h0M77.5 175.2h0M63.0 193.8h0M77.1 174.9h0M72.4 183.5h0M70.1 186.0h0M67.7 178.5h0M74.7 180.9h0M75.8 179.6h0M76.4 174.8h0M77.2 177.5h0M55.1 185.6h0M76.6 178.4h0M71.0 176.6h0M72.8 175.7h0M70.1 177.1h0M69.8 186.2h0M41.6 194.0h0M53.2 186.6h0M63.3 181.1h0M61.4 195.4h0M40.5 195.1h0M75.3 175.0h0M39.4 196.4h0M75.3 180.1h0M48.8 208.0h0M71.5 176.5h0M76.0 175.0h0M69.3 177.7h0M71.7 176.4h0M74.6 175.3h0M68.9 178.0h0M74.4 175.4h0M41.6 213.4h0M59.0 197.8h0M62.3 194.4h0M77.2 175.9h0M60.2 183.0h0M65.4 191.0h0M75.8 175.2h0M53.6 186.5h0M62.2 181.9h0M55.9 201.0h0M76.8 177.5h0M75.7 179.3h0M76.6 175.5h0M47.1 189.8h0M62.0 182.0h0M71.1 177.0h0M65.6 190.7h0M76.9 177.1h0M60.4 196.3h0M73.6 175.9h0M50.7 206.2h0M59.0 183.8h0M74.2 175.7h0M46.1 210.1h0M62.7 193.8h0M39.0 197.1h0M60.7 182.9h0M58.0 184.4h0M69.8 177.8h0M66.1 190.0h0M73.3 182.0h0M61.4 182.5h0M73.1 176.2h0M75.2 175.7h0M65.4 180.3h0M47.0 190.0h0M41.3 194.5h0M76.2 175.9h0M74.8 175.8h0M40.2 195.7h0M76.5 176.7h0M46.2 190.5h0M42.6 193.2h0M71.9 176.9h0M48.5 189.2h0M64.6 191.7h0M71.5 183.9h0M73.6 181.5h0M56.9 199.8h0M45.6 190.9h0M54.3 186.4h0M49.5 207.2h0M40.9 194.9h0M49.0 188.9h0M41.3 194.5h0M66.8 179.8h0M74.2 176.1h0M76.0 176.3h0M59.0 184.0h0M59.9 183.5h0M48.6 189.2h0M75.0 176.1h0M43.2 192.8h0M69.2 178.5h0M66.6 189.2h0M65.9 180.3h0M67.6 179.4h0M76.1 177.4h0M73.7 176.4h0M68.6 178.9h0M38.5 197.9h0M52.9 187.2h0M73.2 181.8h0M68.0 187.7h0M73.8 181.1h0M49.3 188.9h0M64.7 181.1h0M56.5 185.5h0M41.2 213.4h0M73.7 176.6h0M74.8 179.6h0M48.1 189.5h0M55.6 186.0h0M58.7 184.4h0M56.4 200.2h0M53.4 187.0h0M54.2 186.7h0M75.7 177.7h0M75.6 178.1h0M64.7 191.3h0M69.4 185.9h0M69.8 178.4h0M51.2 205.6h0M65.2 181.0h0M50.8 205.9h0M61.5 194.7h0M63.2 182.1h0M75.3 176.9h0M72.6 182.3h0M75.2 178.7h0M42.2 193.8h0M59.5 196.8h0M68.2 187.2h0M75.0 176.9h0"/>
<path stroke="#365c8d" d="M71.4 183.6h0M44.9 191.6h0M66.4 180.4h0M71.9 177.5h0M68.0 179.5h0M71.4 177.8h0M75.3 177.4h0M72.5 182.3h0M65.9 180.7h0M60.8 195.4h0M74.1 180.3h0M63.7 182.0h0M50.3 188.6h0M57.1 185.4h0M74.7 179.2h0M73.4 177.1h0M39.4 197.0h0M74.3 177.1h0M43.0 212.2h0M60.0 183.9h0M61.9 182.9h0M44.3 211.3h0M75.1 177.8h0M49.0 207.5h0M59.3 197.0h0M57.6 198.7h0M39.8 196.4h0M67.9 179.7h0M58.2 184.9h0M46.9 190.4h0M74.7 177.5h0M52.4 187.7h0M65.5 181.2h0M44.8 211.0h0M70.7 178.4h0M74.6 177.7h0M69.7 178.9h0M72.5 181.9h0M71.5 178.1h0M53.8 187.2h0M67.6 180.1h0M70.1 178.8h0M68.6 186.5h0M69.0 179.4h0M74.0 177.7h0M60.1 184.1h0M74.5 178.3h0M73.8 180.1h0M63.2 192.6h0M62.7 193.1h0M69.8 179.0h0M67.7 187.4h0M62.0 193.9h0M69.6 185.3h0M58.7 184.8h0M72.8 177.9h0M73.9 177.9h0M74.3 178.3h0M48.8 189.5h0M74.1 179.0h0M73.3 177.9h0M41.2 195.1h0M73.7 178.1h0M43.8 211.6h0M42.2 194.1h0M51.1 188.5h0M68.0 186.9h0M65.2 190.2h0M70.5 178.9h0M68.3 186.5h0M71.5 178.5h0M73.2 180.5h0M73.9 178.9h0M62.7 183.0h0M61.6 183.6h0M52.8 187.8h0M52.0 188.2h0M46.8 190.7h0M69.4 179.5h0M59.3 184.8h0M73.8 179.1h0M69.4 185.2h0M42.8 212.2h0M71.5 182.7h0M70.1 179.3h0M64.7 190.7h0M42.8 193.6h0M55.2 186.8h0M71.2 183.0h0M66.0 189.1h0M44.7 192.1h0M72.3 181.6h0M63.2 182.8h0M41.9 194.5h0M66.9 181.0h0M61.3 183.8h0M56.2 186.3h0M42.2 212.6h0M67.4 180.7h0M52.7 203.8h0M73.5 179.0h0M71.5 178.8h0M61.6 194.1h0M62.5 193.1h0M73.0 180.4h0M39.3 197.4h0M71.9 182.0h0M72.9 180.6h0M40.4 196.1h0M73.0 180.3h0M60.2 195.6h0M38.8 198.1h0M43.9 192.8h0M68.0 180.5h0M64.3 191.0h0M58.4 197.5h0M39.9 196.6h0M56.6 186.3h0M46.0 209.9h0M72.8 179.0h0M54.5 201.8h0M63.4 192.0h0M72.2 181.3h0M64.0 191.2h0M58.0 198.0h0M71.4 179.2h0M61.4 184.0h0M55.0 187.1h0M43.3 211.8h0M65.5 182.0h0M53.3 203.1h0M62.4 183.5h0M59.0 185.2h0M71.2 182.6h0M46.3 209.6h0M47.8 190.4h0M68.1 186.3h0M45.3 191.9h0"/>
<path stroke="#33638d" d="M40.9 195.7h0M69.9 184.0h0M59.6 185.0h0M66.5 188.1h0M71.8 181.4h0M66.8 187.7h0M69.1 185.0h0M60.2 184.8h0M72.0 179.9h0M72.0 180.0h0M66.6 181.7h0M69.5 180.3h0M64.2 182.9h0M64.7 190.1h0M64.0 191.0h0M57.5 198.3h0M42.1 194.5h0M70.6 180.0h0M59.2 196.4h0M47.2 190.8h0M55.9 186.9h0M63.3 183.4h0M51.5 188.8h0M70.2 180.2h0M70.7 182.7h0M71.6 180.6h0M71.2 180.3h0M71.3 181.5h0M54.2 187.7h0M64.3 183.0h0M66.3 182.1h0M55.5 187.2h0M64.9 189.7h0M48.8 190.1h0M62.6 192.4h0M63.0 183.7h0M70.8 180.4h0M71.4 180.8h0M58.2 197.4h0M68.4 181.1h0M69.4 180.7h0M70.3 183.0h0M44.1 192.9h0M39.4 197.6h0M67.4 181.7h0M69.5 183.9h0M59.4 185.5h0M57.4 186.4h0M62.4 184.2h0M60.9 184.8h0M70.9 181.3h0M70.4 180.8h0M68.9 181.2h0M65.5 188.8h0M54.5 201.5h0M69.8 183.4h0M70.0 183.1h0M58.2 186.1h0M44.5 192.7h0M42.5 194.3h0M66.2 187.9h0M39.6 197.4h0M70.5 182.1h0M65.1 183.0h0M67.8 181.8h0M69.1 184.2h0M61.0 184.9h0M53.6 188.2h0M68.2 181.7h0M63.8 183.7h0M69.0 181.4h0M65.4 188.7h0M69.4 183.7h0M69.7 181.4h0M66.8 182.3h0M60.1 195.1h0M63.5 191.0h0M52.4 188.7h0M61.9 184.6h0M64.5 183.4h0M38.8 198.6h0M61.0 194.0h0M50.1 206.0h0M67.4 182.2h0M61.2 185.0h0M69.7 181.8h0M69.8 182.3h0M68.9 184.1h0M64.9 189.1h0M68.7 181.9h0M63.1 191.4h0M57.0 186.9h0M60.6 185.4h0M69.4 182.9h0M69.4 182.4h0M67.8 182.3h0M55.8 199.8h0M45.3 192.3h0M61.7 193.0h0M46.6 191.5h0M66.5 187.0h0M53.0 202.9h0M69.2 183.1h0M48.4 190.6h0M67.0 182.6h0M40.7 196.4h0M51.0 205.0h0M62.9 191.5h0M46.5 209.2h0M66.8 182.8h0M56.5 199.0h0M43.4 193.8h0M56.3 187.3h0M68.1 184.8h0M48.8 207.2h0M39.3 198.1h0M68.6 182.5h0"/>
<path stroke="#30698e" d="M51.3 189.4h0M62.2 184.9h0M57.2 187.0h0M58.9 186.2h0M60.3 185.7h0M66.6 186.7h0M63.7 184.2h0M61.1 193.5h0M64.0 184.1h0M67.7 182.7h0M68.0 182.6h0M67.0 186.1h0M68.6 182.7h0M59.8 185.9h0M68.5 183.9h0M60.9 193.7h0M68.6 183.4h0M47.9 208.0h0M66.7 183.1h0M58.3 186.6h0M68.1 184.3h0M63.7 190.3h0M68.3 183.2h0M49.2 190.3h0M50.3 189.9h0M64.8 184.0h0M61.3 193.2h0M44.0 193.4h0M67.5 185.1h0M55.3 187.9h0M66.8 186.1h0M59.3 195.5h0M67.2 183.3h0M61.6 185.4h0M47.0 208.7h0M67.9 184.0h0M41.3 195.8h0M68.0 183.9h0M58.3 196.7h0M62.6 185.0h0M61.2 185.6h0M65.8 183.7h0M55.7 187.8h0M52.1 203.8h0M50.0 205.9h0M59.6 195.1h0M57.2 187.3h0M63.6 184.7h0M67.2 185.1h0M51.3 189.6h0M66.5 183.7h0M62.9 185.0h0M66.2 186.6h0M67.1 183.8h0M40.5 213.2h0M66.3 186.3h0M59.5 195.2h0M54.8 200.8h0M63.2 185.0h0M57.0 198.1h0M66.9 184.0h0M53.6 188.8h0M67.0 184.1h0M58.7 186.8h0M63.7 189.8h0M42.7 194.6h0M59.8 186.4h0M66.0 184.2h0M60.2 194.3h0M64.4 184.7h0M62.6 191.2h0M45.2 210.0h0M66.6 184.3h0M40.3 197.2h0M66.6 185.2h0M64.9 188.0h0M65.0 184.6h0M60.9 186.1h0M54.5 201.0h0M44.6 193.2h0M50.7 205.1h0M62.9 190.7h0M40.5 197.0h0M66.3 185.7h0M62.3 185.6h0M37.9 200.3h0M63.3 190.1h0M64.2 188.8h0M59.6 194.8h0M65.6 184.7h0M48.4 191.0h0M51.2 204.6h0M56.5 187.9h0M56.6 198.5h0M57.5 187.5h0M65.8 186.1h0M66.0 185.3h0M62.1 191.6h0M57.8 187.5h0M42.0 195.5h0M65.8 185.2h0M64.9 187.6h0M42.2 195.3h0M43.4 194.2h0M61.6 192.1h0M57.7 197.0h0M46.1 192.3h0M58.8 195.6h0M55.7 188.3h0M65.2 185.3h0M64.9 185.3h0M64.8 187.5h0M48.1 207.5h0"/>
<path stroke="#2e6f8e" d="M60.5 186.6h0M62.9 185.8h0M62.2 186.0h0M62.1 191.3h0M65.3 186.4h0M50.7 190.2h0M65.0 185.5h0M42.7 211.7h0M65.1 186.7h0M37.5 201.1h0M64.2 188.3h0M46.5 192.1h0M61.4 186.4h0M62.7 190.4h0M61.6 186.4h0M64.4 185.7h0M57.4 187.8h0M38.8 199.2h0M41.4 196.2h0M63.5 186.0h0M54.3 201.0h0M39.8 197.9h0M64.7 186.8h0M64.5 186.1h0M64.6 186.2h0M61.9 191.3h0M41.7 196.0h0M59.5 194.4h0M53.1 189.5h0M60.7 186.9h0M51.7 189.9h0M55.5 188.7h0M44.0 193.9h0M58.9 187.5h0M62.1 190.9h0M47.1 192.0h0M61.5 191.6h0M40.8 196.9h0M64.1 187.1h0M51.4 190.1h0M43.7 211.0h0M60.6 187.1h0M52.6 202.8h0M61.2 187.0h0M41.1 212.7h0M54.7 200.3h0M47.8 191.6h0M61.8 186.9h0M63.6 186.8h0M63.1 189.1h0M56.5 188.4h0M63.7 187.1h0M62.3 186.8h0M61.5 191.5h0M57.3 197.1h0M38.4 200.0h0M46.2 209.0h0M47.1 192.1h0M47.1 208.3h0M63.0 189.0h0M60.0 187.5h0M57.8 188.1h0M62.1 190.4h0M53.7 189.5h0M53.2 189.7h0M59.0 187.8h0M45.6 193.0h0M39.2 213.6h0M51.5 190.2h0M59.3 187.8h0M41.9 212.1h0M43.9 194.1h0M63.2 188.0h0M61.4 187.3h0M62.1 187.2h0M53.2 202.0h0M40.2 213.1h0M62.7 189.1h0M58.6 195.3h0M42.5 195.4h0M52.9 189.8h0M62.9 187.8h0M60.6 187.6h0M48.7 206.8h0M57.4 188.4h0M45.1 193.3h0M61.0 191.8h0M61.9 190.4h0M59.8 187.9h0M43.3 194.7h0M49.9 191.0h0M60.2 192.9h0M62.7 188.0h0M60.4 187.8h0M62.2 187.6h0M55.2 189.2h0M44.5 193.8h0M39.4 213.5h0M49.1 191.3h0M48.9 191.4h0M37.8 201.0h0M60.7 192.2h0M61.6 190.6h0M59.6 193.7h0M62.1 189.5h0M54.5 189.4h0M42.3 195.7h0"/>
<path stroke="#2b758e" d="M55.9 198.6h0M59.0 188.2h0M56.6 188.8h0M61.9 187.9h0M57.3 188.7h0M52.8 190.0h0M48.4 191.6h0M44.9 193.6h0M38.8 213.7h0M50.0 205.4h0M61.1 188.0h0M58.7 194.9h0M54.8 199.9h0M56.3 189.0h0M59.8 193.2h0M61.7 188.2h0M61.4 190.5h0M61.9 188.6h0M53.5 189.9h0M61.4 188.3h0M60.2 188.3h0M61.0 188.3h0M57.1 196.9h0M60.7 191.6h0M50.4 191.0h0M57.5 196.3h0M60.1 192.5h0M52.9 202.2h0M56.2 198.1h0M61.5 189.2h0M54.4 200.3h0M61.2 188.8h0M58.0 188.9h0M38.4 200.3h0M61.2 189.5h0M61.1 190.2h0M46.6 192.7h0M58.6 188.9h0M58.5 188.9h0M60.7 191.1h0M59.9 188.8h0M57.9 195.5h0M51.2 190.8h0M56.0 189.4h0M60.2 188.9h0M59.3 188.9h0M60.8 189.1h0M49.7 191.4h0M60.1 192.0h0M47.9 192.1h0M54.6 189.9h0M57.1 189.4h0M60.6 190.2h0M60.1 189.2h0M55.8 189.6h0M59.6 192.6h0M37.4 201.9h0M59.1 193.5h0M45.7 193.4h0M53.6 190.2h0M42.0 196.3h0M55.2 199.0h0M42.0 196.3h0M58.4 189.3h0M56.9 196.7h0M41.5 196.8h0M44.4 194.3h0M53.2 201.6h0M59.8 192.0h0M49.2 191.7h0M58.8 189.4h0M39.8 213.1h0M40.5 197.9h0M58.0 195.1h0M60.0 191.1h0"/>
<path stroke="#297b8e" d="M38.8 200.0h0M53.2 190.5h0M59.0 193.3h0M60.1 190.5h0M43.1 211.1h0M55.6 198.5h0M40.7 197.7h0M44.0 194.7h0M45.3 193.8h0M56.3 189.8h0M48.4 192.2h0M43.9 210.5h0M58.7 189.9h0M59.6 191.3h0M55.1 190.2h0M59.1 192.7h0M51.9 191.0h0M56.9 196.5h0M57.6 189.9h0M59.2 190.3h0M45.0 209.6h0M50.9 191.3h0M40.6 212.5h0M59.2 192.1h0M38.4 213.6h0M59.4 191.1h0M58.2 194.2h0M41.9 196.6h0M59.1 190.6h0M57.0 196.2h0M53.9 190.6h0M54.3 190.5h0M58.9 190.5h0M50.2 191.6h0M59.0 190.6h0M59.2 191.7h0M57.5 190.1h0M54.6 190.5h0M42.7 195.9h0M45.6 193.8h0M41.1 212.3h0M47.5 192.8h0M55.7 190.3h0M51.2 191.3h0M44.7 194.4h0M39.4 199.5h0M39.8 198.9h0M58.3 190.4h0M58.8 192.3h0M43.4 195.4h0M38.4 200.9h0M58.2 193.7h0M56.4 190.4h0M49.7 191.9h0M58.0 190.5h0M57.8 190.5h0M52.8 191.0h0M57.0 195.8h0M58.6 192.6h0M40.4 198.4h0M57.9 194.1h0M47.9 192.7h0M58.6 191.7h0M41.5 197.2h0"/>
<path stroke="#26828e" d="M42.1 196.6h0M58.1 193.4h0M37.8 213.6h0M56.0 190.7h0M54.2 190.9h0M49.2 192.3h0M43.1 210.9h0M48.6 206.3h0M47.3 207.5h0M57.0 190.9h0M56.7 190.9h0M39.2 200.0h0M57.6 191.3h0M39.0 200.3h0M55.8 190.9h0M51.9 191.5h0M49.8 205.0h0M57.9 191.6h0M57.9 193.3h0M39.8 199.2h0M58.0 192.6h0M55.3 191.0h0M57.7 193.8h0M57.2 194.8h0M40.1 212.6h0M57.0 195.2h0M57.1 191.4h0M38.8 200.6h0M40.8 198.2h0M48.4 192.8h0M44.1 210.1h0M37.4 202.6h0M53.1 191.4h0M52.9 191.5h0M54.5 199.1h0M57.6 193.0h0M55.5 197.6h0M57.1 191.7h0M46.6 208.0h0M56.5 191.5h0M41.8 197.2h0M40.4 212.4h0M54.2 199.5h0M43.8 195.5h0M50.9 192.0h0M55.6 191.4h0M40.4 198.7h0M40.8 212.2h0M38.1 201.7h0M57.3 192.9h0M55.2 191.5h0M48.9 205.8h0M37.8 213.4h0M54.9 191.5h0M48.7 192.8h0M43.4 195.8h0M47.3 193.4h0M54.5 198.8h0M53.1 200.8h0M44.9 194.8h0"/>
<path stroke="#24878e" d="M55.3 197.7h0M56.9 192.5h0M51.8 191.9h0M57.0 194.0h0M56.4 195.6h0M38.6 213.1h0M41.5 197.7h0M50.3 204.2h0M55.8 196.7h0M56.6 194.9h0M38.0 202.0h0M47.7 193.3h0M54.1 191.7h0M56.6 192.5h0M55.0 191.9h0M51.3 192.2h0M55.9 192.1h0M56.5 194.9h0M56.4 192.5h0M53.7 191.8h0M46.9 193.8h0M53.4 191.9h0M52.8 192.0h0M56.6 194.5h0M54.5 191.9h0M48.0 206.5h0M53.5 200.0h0M52.4 192.1h0M54.6 198.4h0M44.2 195.5h0M53.4 200.1h0M54.0 199.2h0M39.1 200.6h0M55.7 196.2h0M52.7 192.2h0M45.3 194.8h0M56.1 195.2h0M43.4 196.2h0M55.0 192.4h0M53.7 192.2h0M44.7 209.3h0M46.8 207.5h0M44.7 195.2h0M44.2 195.6h0M47.8 206.6h0M40.7 198.8h0"/>
<path stroke="#228d8d" d="M46.0 194.5h0M56.0 193.9h0M55.0 197.3h0M43.0 210.6h0M53.0 192.4h0M55.0 192.7h0M55.3 196.7h0M42.2 197.4h0M44.0 209.8h0M55.7 195.5h0M41.4 211.5h0M39.5 212.5h0M54.1 192.6h0M46.1 194.5h0M45.1 195.2h0M55.5 193.5h0M43.9 196.0h0M53.6 192.6h0M41.4 198.2h0M46.0 194.7h0M55.4 196.1h0M40.4 199.3h0M39.3 212.6h0M55.0 193.1h0M42.2 211.0h0M45.9 208.2h0M55.5 193.8h0M54.2 198.5h0M47.6 193.9h0M46.3 194.5h0M47.1 207.2h0M52.3 192.7h0M43.5 210.1h0M37.7 203.0h0M43.9 209.8h0M54.5 193.2h0M53.7 199.1h0M48.5 205.7h0M42.9 197.0h0M37.3 203.8h0M54.7 197.2h0M43.9 196.2h0M54.1 193.2h0M47.5 206.7h0M48.0 206.1h0M48.1 193.9h0"/>
<path stroke="#20938c" d="M55.0 194.0h0M51.4 202.3h0M39.7 212.3h0M55.2 194.9h0M52.8 193.0h0M54.2 198.0h0M46.3 207.8h0M49.8 193.4h0M52.3 201.1h0M55.1 195.6h0M54.0 193.3h0M53.2 199.7h0M45.2 208.7h0M54.4 193.7h0M42.0 197.9h0M54.8 194.2h0M44.3 196.0h0M51.9 193.2h0M47.4 194.3h0M40.0 200.1h0M54.6 196.8h0M52.4 193.2h0M38.6 201.9h0M53.5 193.4h0M50.2 193.4h0M43.4 196.8h0M54.8 194.7h0M42.8 197.3h0M38.6 212.6h0M38.3 202.4h0M47.9 194.2h0M54.0 198.1h0M40.3 199.8h0M52.5 200.5h0M51.3 193.4h0M53.3 199.2h0M48.8 193.9h0M42.3 197.8h0M37.2 212.8h0M49.3 193.8h0M46.6 194.8h0M54.3 194.5h0M41.8 211.0h0M44.9 195.8h0M54.5 196.1h0M40.9 199.2h0M38.5 212.5h0"/>
<path stroke="#1f998a" d="M53.6 198.5h0M45.2 195.7h0M40.6 211.6h0M45.7 195.4h0M52.5 200.4h0M54.1 194.6h0M41.7 198.4h0M51.8 193.6h0M48.6 194.2h0M48.4 194.2h0M54.3 195.3h0M41.3 198.9h0M37.9 203.3h0M43.0 210.1h0M52.7 193.9h0M50.1 203.6h0M53.6 194.4h0M42.4 210.5h0M53.2 194.2h0M50.4 193.9h0M43.2 197.2h0M52.2 193.9h0M54.1 195.9h0M53.6 194.7h0M51.4 193.9h0M43.9 196.7h0M54.1 196.0h0M44.7 196.2h0M54.0 195.4h0M39.0 212.2h0M53.7 197.5h0M49.2 204.5h0M53.3 198.5h0M40.2 211.7h0M52.8 199.5h0M53.3 194.6h0M42.7 197.8h0M52.7 199.6h0M39.4 201.3h0M51.9 194.1h0M50.0 194.2h0"/>
<path stroke="#1fa088" d="M46.4 195.3h0M53.8 196.0h0M38.3 202.9h0M52.5 194.4h0M52.4 200.1h0M50.6 194.2h0M51.4 201.6h0M48.3 205.4h0M44.4 196.6h0M37.1 212.3h0M53.7 196.9h0M41.3 211.0h0M40.2 200.5h0M44.0 209.2h0M49.1 204.4h0M48.5 205.0h0M38.2 203.2h0M49.5 194.5h0M48.4 194.7h0M52.6 194.7h0M53.3 195.4h0M41.2 199.5h0M38.5 202.8h0M49.9 194.5h0M45.2 208.2h0M53.2 197.6h0M53.3 196.4h0M43.8 197.2h0M40.0 200.9h0M46.0 207.4h0M42.4 198.4h0M49.6 203.6h0M53.3 196.8h0M45.5 207.9h0M37.6 212.1h0M41.9 198.8h0M46.8 195.5h0"/>
<path stroke="#21a585" d="M51.1 194.6h0M40.8 200.0h0M38.5 212.0h0M37.5 204.6h0M41.9 210.5h0M44.5 196.8h0M49.1 194.8h0M36.8 206.2h0M40.9 211.1h0M38.2 212.0h0M39.0 202.4h0M42.6 198.4h0M46.0 196.0h0M49.7 203.4h0M45.6 196.2h0M42.6 210.0h0M52.2 195.3h0M39.5 211.7h0M51.3 201.1h0M49.3 203.8h0M40.7 200.3h0M39.9 201.3h0M51.8 200.3h0M46.6 206.8h0M47.3 195.5h0M39.4 201.9h0M50.8 195.0h0M47.5 205.8h0M52.5 195.9h0M50.4 195.0h0M52.7 196.2h0M47.7 195.4h0M43.5 197.8h0M39.7 211.5h0M52.4 198.9h0M37.3 205.4h0M52.1 199.5h0M41.1 200.0h0"/>
<path stroke="#25ab82" d="M47.3 195.6h0M37.5 211.8h0M49.3 195.2h0M44.4 197.1h0M48.5 195.3h0M43.0 209.6h0M37.9 204.3h0M40.2 211.2h0M39.8 211.4h0M50.2 195.2h0M50.0 202.8h0M52.6 197.7h0M48.8 204.3h0M51.4 200.7h0M52.0 195.9h0M52.2 196.2h0M38.3 203.7h0M42.3 210.0h0M45.3 196.7h0M37.3 211.6h0M52.4 196.7h0M50.2 202.4h0M51.6 195.7h0M41.4 210.6h0M37.2 205.9h0M41.9 199.3h0M38.6 211.7h0M39.7 201.8h0M50.6 195.5h0M48.9 195.5h0M51.9 199.3h0M49.7 195.5h0M50.5 201.9h0M38.0 211.6h0M43.5 209.1h0"/>
<path stroke="#2cb17e" d="M52.2 197.4h0M52.1 198.0h0M44.1 208.6h0M42.6 198.8h0M46.2 196.5h0M45.0 207.9h0M47.8 205.2h0M40.8 210.8h0M44.5 208.3h0M52.1 197.6h0M51.7 196.5h0M42.5 199.0h0M42.9 209.5h0M47.7 196.0h0M37.1 206.7h0M52.0 198.3h0M38.9 203.2h0M50.7 195.9h0M43.2 198.5h0M51.1 196.2h0M39.5 202.4h0M51.7 197.0h0M41.7 199.8h0M48.4 196.0h0M49.0 195.9h0M50.2 196.0h0M46.7 196.5h0M51.7 198.8h0M49.8 202.5h0M45.8 207.0h0M41.4 200.2h0"/>
<path stroke="#34b679" d="M51.5 197.2h0M42.2 199.5h0M47.1 196.5h0M37.9 205.4h0M41.6 210.1h0M46.0 196.9h0M48.3 196.2h0M44.3 197.9h0M51.5 197.8h0M48.1 204.5h0M40.4 201.5h0M51.1 200.0h0M49.2 203.2h0M50.7 196.6h0M39.4 202.9h0M47.1 205.7h0M49.6 196.3h0M37.5 206.4h0M37.3 210.7h0M38.0 211.1h0M38.9 203.7h0M51.0 197.0h0M42.3 209.7h0M40.9 200.9h0M47.9 196.4h0M46.4 196.9h0M38.5 204.3h0M46.0 206.7h0M39.8 202.4h0M39.2 203.2h0M45.5 197.3h0M39.0 211.0h0M41.0 210.3h0M38.2 204.9h0M48.4 204.1h0M51.1 199.5h0M50.6 200.7h0"/>
<path stroke="#3fbc73" d="M51.1 199.1h0M51.2 198.7h0M50.9 200.0h0M46.9 196.9h0M43.3 198.9h0M50.5 197.0h0M51.1 198.4h0M41.8 200.2h0M37.4 207.1h0M49.5 202.4h0M45.2 207.3h0M45.9 197.3h0M49.2 196.7h0M47.7 204.8h0M39.9 210.6h0M46.7 205.8h0M50.0 197.0h0M43.5 208.6h0M44.0 198.5h0M42.8 199.4h0M39.8 202.7h0M40.3 202.0h0M37.7 206.7h0M40.1 210.5h0M45.0 197.9h0M49.6 197.0h0M48.6 203.5h0M47.4 197.0h0M46.1 197.4h0M45.4 197.7h0M37.4 209.7h0M37.3 209.1h0M50.2 201.1h0M44.0 198.6h0M38.0 210.5h0M48.1 196.9h0M48.5 203.6h0M50.8 198.7h0M48.7 196.9h0"/>
<path stroke="#4ac16d" d="M44.6 207.7h0M49.3 197.0h0M38.1 210.5h0M50.1 197.5h0M50.7 199.3h0M45.6 206.8h0M49.7 201.7h0M41.4 200.9h0M40.9 201.5h0M37.9 210.3h0M40.2 202.3h0M48.3 203.7h0M49.8 197.4h0M46.7 197.4h0M42.7 209.0h0M38.5 205.3h0M39.1 210.5h0M38.9 210.5h0M40.8 210.0h0M44.9 198.3h0M47.7 197.3h0M47.0 205.2h0M47.3 197.3h0M41.2 201.3h0M39.0 204.4h0M42.7 199.8h0M48.6 197.3h0M50.3 199.4h0"/>
<path stroke="#56c667" d="M50.1 198.2h0M37.8 207.2h0M45.9 197.9h0M43.2 208.5h0M49.3 202.0h0M41.5 209.6h0M40.7 209.9h0M48.1 197.5h0M46.4 197.8h0M43.4 199.4h0M44.2 207.8h0M42.2 209.2h0M40.2 210.1h0M38.4 210.1h0M41.7 200.9h0M46.0 206.1h0M45.0 198.4h0M44.8 207.2h0M39.4 204.0h0M43.0 208.6h0M48.6 197.7h0M50.0 199.0h0M38.9 210.2h0M42.5 200.3h0M43.8 208.0h0M45.7 206.4h0M49.4 201.6h0M47.7 204.2h0M38.5 210.0h0M47.4 197.7h0M37.9 209.1h0M38.5 205.9h0M40.9 201.9h0M39.5 210.1h0M37.9 208.3h0M37.9 208.6h0M39.8 203.4h0M39.9 210.0h0M45.9 198.2h0M49.6 201.0h0M43.5 199.5h0M38.0 207.7h0M40.8 202.2h0"/>
<path stroke="#65cb5e" d="M49.3 198.2h0M39.0 204.9h0M38.4 206.3h0M43.0 200.0h0M48.1 197.9h0M49.6 198.7h0M46.2 198.2h0M44.9 198.7h0M47.6 198.0h0M41.0 209.5h0M38.2 207.2h0M48.3 198.1h0M47.9 198.1h0M47.1 204.6h0M42.2 200.9h0M43.9 199.5h0M39.5 204.3h0M49.6 199.4h0M40.5 202.8h0M46.5 205.3h0M38.9 205.5h0M38.4 206.9h0M49.3 201.2h0M48.5 198.3h0M48.6 202.5h0M41.8 209.1h0M38.9 205.6h0M45.6 198.6h0M49.1 198.8h0M40.5 209.6h0M46.1 205.7h0M45.2 198.8h0"/>
<path stroke="#73d056" d="M38.5 209.2h0M38.9 209.6h0M48.5 202.4h0M43.7 207.8h0M47.0 198.3h0M41.8 201.5h0M49.3 200.1h0M49.1 199.1h0M40.0 203.7h0M44.2 207.4h0M45.1 206.6h0M43.5 200.0h0M44.4 199.4h0M41.1 202.2h0M48.0 203.1h0M49.2 199.8h0M39.4 204.9h0M41.4 201.9h0M46.5 205.0h0M39.2 209.5h0M39.9 209.6h0M38.4 207.9h0M41.2 209.2h0M38.9 209.3h0M48.6 198.8h0M38.5 208.6h0M38.5 208.3h0M49.0 200.8h0M47.6 203.7h0M42.2 201.2h0M42.3 208.6h0M38.6 207.6h0M42.6 208.4h0"/>
<path stroke="#84d44b" d="M48.2 198.9h0M38.9 206.3h0M48.8 201.0h0M40.5 203.4h0M47.1 198.8h0M39.4 205.4h0M47.0 204.2h0M46.5 204.8h0M40.0 204.2h0M39.1 209.1h0M38.8 206.9h0M43.4 200.4h0M38.8 208.6h0M46.6 198.9h0M48.1 202.5h0M39.7 209.2h0M48.5 201.5h0M38.8 208.1h0M47.6 203.2h0M46.3 199.0h0M44.8 206.5h0M45.1 199.5h0M48.5 199.8h0M40.8 209.0h0M41.0 202.9h0M44.3 199.9h0M48.6 200.2h0M48.2 199.5h0M42.9 201.0h0M48.1 202.3h0M47.8 199.3h0M41.9 208.5h0"/>
<path stroke="#93d741" d="M43.9 207.2h0M48.5 200.6h0M43.7 200.4h0M42.7 201.1h0M42.0 201.8h0M43.4 207.5h0M46.8 199.2h0M40.7 203.4h0M40.1 209.0h0M42.2 208.3h0M44.7 199.8h0M39.0 207.5h0M48.5 200.6h0M45.5 199.5h0M43.3 200.8h0M40.4 203.9h0M48.3 201.6h0M40.2 204.4h0M47.3 199.4h0M47.1 203.8h0M39.5 208.7h0M45.6 205.5h0M47.7 199.6h0M39.4 206.0h0M44.9 206.2h0M41.0 203.2h0M41.5 208.5h0M40.4 208.8h0M41.2 202.9h0M39.4 206.3h0M39.3 208.3h0M48.0 200.1h0M45.6 199.7h0M40.0 205.0h0M45.1 199.9h0M47.3 203.2h0M47.9 200.1h0M40.5 208.7h0"/>
<path stroke="#a2da37" d="M47.3 199.7h0M45.6 205.3h0M48.0 201.1h0M39.3 207.7h0M48.0 200.6h0M47.6 202.6h0M46.3 204.5h0M39.9 208.6h0M44.3 206.6h0M39.5 206.6h0M46.9 203.6h0M46.3 199.8h0M43.8 200.8h0M40.9 203.7h0M40.0 205.3h0M41.8 208.2h0M42.5 201.9h0M41.9 202.4h0M44.5 200.4h0M39.5 207.4h0M47.5 202.3h0M46.6 199.9h0M47.3 200.2h0M46.5 204.0h0M42.5 207.7h0M47.7 201.5h0M39.9 208.1h0"/>
<path stroke="#b5de2b" d="M47.2 202.8h0M44.4 200.7h0M43.7 201.1h0M46.2 200.1h0M40.4 204.9h0M45.2 200.4h0M46.8 200.3h0M44.9 200.5h0M40.4 208.2h0M42.0 202.7h0M39.8 207.5h0M43.4 201.4h0M43.0 201.7h0M40.0 206.0h0M45.1 205.5h0M40.0 206.3h0M44.7 200.7h0M39.9 207.2h0M40.6 208.0h0M47.0 200.8h0M39.9 206.9h0M42.4 202.4h0M42.3 207.6h0M41.1 208.0h0M40.4 205.3h0M47.1 202.3h0M43.1 201.8h0M43.1 207.0h0M40.9 204.5h0M46.2 204.0h0M43.5 206.7h0"/>
<path stroke="#c5e021" d="M41.2 204.0h0M46.6 200.8h0M47.0 201.3h0M47.1 201.9h0M44.5 205.8h0M44.1 206.2h0M47.0 201.5h0M45.1 205.3h0M40.4 207.6h0M46.0 200.8h0M46.4 203.5h0M45.2 200.9h0M41.8 203.3h0M41.7 207.6h0M45.6 204.5h0M40.9 204.8h0M45.8 200.9h0M46.5 203.1h0M40.5 205.7h0M43.7 206.4h0M40.3 206.9h0M40.5 207.3h0M41.3 204.1h0M40.9 207.6h0M40.4 206.3h0M45.3 204.8h0M41.3 207.5h0M46.6 202.5h0M43.0 202.3h0M46.6 201.6h0M42.5 207.1h0M43.6 201.9h0M44.4 201.5h0"/>
<path stroke="#d8e219" d="M46.5 202.1h0M43.3 206.6h0M42.5 203.0h0M43.4 202.2h0M46.0 201.4h0M41.7 207.3h0M41.7 204.0h0M45.8 201.3h0M40.9 205.3h0M40.7 206.4h0M40.8 207.1h0M45.0 201.4h0M44.8 201.5h0M46.0 203.3h0M42.2 207.0h0M46.2 201.9h0M41.4 207.2h0M45.6 204.0h0M46.2 202.1h0M43.0 202.7h0M40.9 205.8h0M40.9 206.6h0M44.1 205.6h0M42.5 203.3h0M45.2 201.7h0M44.4 201.9h0M42.6 206.7h0M44.6 205.0h0M46.0 202.7h0M41.4 204.9h0M42.0 206.9h0"/>
<path stroke="#e7e419" d="M45.6 201.9h0M41.3 206.5h0M45.5 203.7h0M44.8 202.0h0M45.8 202.4h0M41.4 205.1h0M41.3 205.7h0M41.9 204.3h0M42.4 203.7h0M45.7 202.8h0M41.4 206.4h0M43.2 206.1h0M41.7 206.6h0M45.5 203.3h0M44.0 202.5h0M43.3 203.0h0M45.3 202.4h0M44.2 202.5h0M45.1 204.0h0M44.2 205.1h0M41.9 204.8h0M44.8 202.5h0M43.6 205.5h0M44.6 204.5h0M43.0 203.5h0"/>
<path stroke="#f6e620" d="M45.1 203.6h0M43.1 203.4h0M42.1 206.1h0M42.0 206.0h0M42.7 206.0h0M45.0 202.9h0M41.9 205.8h0M44.3 202.8h0M43.7 205.4h0M45.0 203.2h0M43.4 205.6h0M42.8 203.8h0M42.4 204.4h0M43.9 203.0h0M42.0 205.4h0M44.7 203.0h0M44.8 203.4h0M44.6 203.9h0M42.3 205.6h0M42.3 204.9h0M43.5 203.5h0M42.5 205.6h0M44.1 204.5h0M42.5 205.2h0M44.0 203.5h0M43.3 203.9h0M44.1 204.2h0M43.7 204.7h0M44.1 203.8h0M42.9 204.4h0M43.8 203.7h0M43.1 204.3h0M43.2 205.0h0M43.0 205.0h0M42.9 204.8h0M43.4 204.6h0M43.6 204.3h0"/>
</g>
<g clip-path="url(#ctl)">
<path d="M36.30 211.37 L63.18 185.05 L278.22 -46.57 L278.22 0.81 L63.18 190.31 L36.30 216.63Z" fill="#808080" fill-opacity="0.16" stroke="#b8b8b8" stroke-width="0.8"/>
<path d="M36.30 214.00L237.90 16.60" stroke="#555" stroke-width="0.8" stroke-dasharray="3.2 2.4"/>
<path d="M36.30 205.38L237.90 49.63" stroke="#ff0000" stroke-width="1.0"/>
</g>
<g clip-path="url(#ctr)" stroke-linecap="round" stroke-width="2.1" fill="none">
<path stroke="#450559" d="M324.8 49.2h0M482.5 150.0h0M460.3 74.7h0M429.5 87.7h0M443.4 81.5h0M364.5 65.1h0M358.0 73.8h0M441.9 171.3h0M447.4 97.5h0M392.7 107.4h0M483.1 135.2h0M302.8 25.4h0M296.4 29.4h0M474.6 137.1h0M307.8 67.3h0M450.3 137.2h0M435.2 113.6h0M470.0 124.5h0M301.5 66.7h0M296.6 55.1h0M335.5 78.4h0M297.2 57.9h0M400.7 109.7h0M378.7 112.8h0M320.6 82.3h0M434.3 169.9h0M467.3 94.6h0M380.2 123.8h0M330.4 82.0h0M412.0 104.0h0M360.5 115.0h0M465.7 106.8h0M409.0 102.6h0M470.6 105.0h0M480.4 108.4h0M479.7 108.7h0M394.9 127.2h0M293.3 76.4h0M442.7 116.8h0M458.4 95.2h0M377.1 127.8h0M462.4 144.6h0M460.7 95.8h0M312.2 106.3h0M292.2 81.9h0M417.3 119.9h0M311.9 91.8h0M440.8 152.0h0M370.9 115.8h0M302.2 84.6h0M295.8 86.9h0M400.6 185.1h0M382.9 133.0h0M295.6 78.4h0M310.5 86.2h0M460.8 128.6h0M448.4 152.0h0M403.0 119.9h0M456.9 148.7h0M465.4 115.9h0M343.7 123.1h0M463.9 115.9h0M434.4 141.6h0M407.3 118.5h0M435.3 119.4h0M422.1 177.3h0M364.5 132.1h0M410.8 118.8h0M451.6 145.8h0M369.8 134.6h0M447.7 122.0h0M454.8 145.0h0M445.4 126.8h0M312.4 117.9h0M358.0 134.8h0M388.4 195.8h0M309.8 112.7h0M356.7 133.6h0M452.9 128.6h0M346.5 139.0h0M418.9 177.2h0M407.4 125.8h0M363.2 119.3h0M439.1 125.5h0M424.5 125.8h0M312.2 123.2h0M433.1 153.9h0M386.9 136.6h0M363.0 124.0h0M455.9 122.3h0M436.2 125.7h0M458.0 123.9h0M418.1 127.3h0M454.4 126.2h0M430.3 128.1h0M430.2 127.3h0M344.6 212.0h0M407.7 129.0h0M418.6 128.8h0M410.2 129.0h0M332.6 124.4h0M342.6 127.5h0M422.1 172.5h0M392.3 136.5h0M343.2 132.9h0M397.7 135.0h0M389.5 193.1h0M315.1 130.8h0M376.7 197.4h0M423.2 168.4h0M288.3 99.8h0M300.5 92.3h0M302.1 93.2h0M403.4 134.5h0M308.9 125.1h0M357.8 123.5h0M306.4 102.2h0M424.9 164.1h0M293.2 95.4h0M353.0 129.4h0M327.5 126.5h0M297.8 93.8h0M413.5 174.9h0M349.4 127.4h0M427.6 139.7h0M327.5 126.8h0M289.1 100.6h0M416.5 173.7h0M355.7 126.6h0M426.7 138.5h0M304.7 116.2h0M351.1 126.9h0M352.5 126.7h0M382.0 194.7h0M288.6 107.0h0M389.1 140.6h0M335.9 131.6h0M301.0 113.0h0M303.5 100.0h0M412.4 134.9h0M335.2 136.9h0M423.0 136.8h0M337.2 143.4h0M306.3 133.1h0M305.2 132.3h0M327.5 128.1h0M293.2 98.4h0M288.4 116.9h0M371.3 140.1h0M303.4 129.6h0M288.4 118.9h0M288.7 123.9h0M422.2 164.3h0M290.5 109.0h0M400.9 176.7h0M300.6 107.8h0M289.0 133.2h0M389.0 188.8h0M289.2 133.3h0M390.2 186.1h0M369.9 197.3h0M412.0 172.7h0M310.1 135.4h0M290.9 114.9h0M295.0 100.8h0M290.5 116.5h0M294.3 101.8h0M387.0 189.5h0M294.7 101.6h0M301.2 104.2h0M395.3 141.3h0M303.0 124.2h0M388.7 187.3h0M386.0 190.1h0M381.1 191.8h0M301.0 103.6h0M294.6 112.5h0M295.0 137.5h0M299.9 135.1h0M291.2 117.8h0M386.0 143.9h0M288.7 128.9h0M292.8 108.4h0M426.2 154.8h0M299.0 118.8h0M369.7 196.6h0M292.2 116.8h0M293.4 107.3h0M396.1 141.7h0M296.0 131.9h0M414.1 170.6h0M298.0 119.3h0M299.1 105.4h0M289.4 128.5h0M416.8 137.2h0M407.8 138.5h0M296.8 119.1h0M371.5 141.7h0M426.2 151.5h0M399.0 141.5h0M330.9 138.6h0M298.1 105.3h0M292.3 131.9h0M353.2 206.1h0M327.5 131.2h0M363.0 200.8h0M301.0 124.1h0M291.5 124.8h0M358.9 203.6h0M389.0 182.0h0M423.8 158.9h0M374.8 192.2h0M300.4 125.2h0M368.8 196.0h0M299.8 126.9h0M422.6 160.4h0M292.1 141.2h0M320.7 133.6h0M402.1 141.2h0M296.0 122.3h0M397.9 175.3h0M407.1 173.1h0M327.5 132.6h0M388.8 179.8h0M370.6 142.7h0M359.4 202.6h0M387.6 181.6h0M291.8 128.4h0M327.5 133.3h0M335.9 146.6h0M374.9 145.9h0M384.9 185.4h0M296.5 124.2h0M327.5 133.7h0M424.7 150.8h0M424.5 152.6h0M372.3 143.7h0M354.9 204.5h0M374.2 145.7h0M327.5 134.1h0M423.6 145.3h0M332.9 146.9h0M293.7 128.3h0M363.8 198.3h0M299.9 138.4h0M382.3 146.9h0M416.0 139.0h0M354.7 204.4h0M373.5 146.1h0M408.3 171.8h0M358.5 144.6h0M327.5 140.1h0M374.4 189.6h0M372.6 145.5h0M423.4 146.9h0M416.1 139.6h0M371.4 145.3h0M384.0 182.8h0M331.6 147.8h0M290.8 143.8h0M332.3 213.2h0M326.9 138.5h0M318.0 136.1h0M353.8 145.1h0M379.0 186.4h0M370.6 146.2h0M363.1 145.2h0M379.8 185.7h0M368.8 192.4h0M348.8 146.0h0M409.5 140.9h0M353.2 203.5h0M353.6 203.3h0M420.1 159.8h0M360.5 145.7h0M325.2 145.6h0M382.1 182.4h0"/>
<path stroke="#470e61" d="M361.2 146.0h0M323.5 137.4h0M406.6 142.5h0M299.0 140.4h0M414.8 141.3h0M314.5 137.9h0M366.2 147.8h0M379.7 183.9h0M334.2 211.8h0M421.7 150.4h0M411.1 141.6h0M398.8 172.3h0M335.6 148.9h0M291.1 144.9h0M338.1 209.8h0M354.5 201.9h0M330.2 149.6h0M421.1 149.3h0M289.7 146.4h0M369.4 190.2h0M336.3 149.0h0M407.6 143.0h0M418.6 144.5h0M368.8 151.3h0M402.5 171.5h0M414.8 142.5h0M328.5 213.1h0M404.3 171.0h0M336.7 210.3h0M418.3 160.5h0M333.1 211.9h0M361.1 147.4h0M303.9 140.8h0M416.3 143.5h0M420.3 150.0h0M412.6 166.3h0M401.0 171.1h0M346.7 147.5h0M322.6 144.6h0M351.9 201.9h0M371.0 152.4h0M313.8 139.3h0M417.2 145.3h0M406.4 144.7h0M398.4 170.9h0M406.7 169.3h0M336.0 210.2h0M419.0 153.9h0M416.3 161.3h0M363.8 193.0h0M322.1 146.1h0M364.3 192.5h0M376.9 183.4h0M415.0 162.9h0M313.7 139.7h0M377.2 183.1h0M292.9 144.8h0M401.5 146.4h0M292.3 145.3h0M407.6 168.2h0M349.0 202.4h0M411.9 165.3h0M402.1 146.7h0M414.4 145.6h0M358.8 149.1h0M398.7 147.1h0M410.7 165.9h0M352.2 147.6h0M384.9 148.8h0M361.5 193.8h0M293.5 144.9h0M319.8 143.2h0M323.9 151.0h0M329.2 211.8h0M416.5 148.4h0M353.8 199.0h0M392.1 172.5h0M411.0 164.9h0M384.6 149.2h0M354.4 198.6h0M404.3 168.0h0M291.8 146.6h0M416.1 156.5h0M416.0 149.0h0M415.7 148.3h0M405.6 147.1h0M415.9 157.0h0M380.1 151.3h0M367.7 153.9h0M366.8 189.2h0M400.6 168.2h0M315.9 141.3h0M331.8 152.7h0M342.8 149.8h0M321.0 149.1h0M338.8 150.8h0M377.2 181.5h0M414.4 158.7h0M383.8 149.9h0M344.8 203.7h0M293.7 145.7h0M391.5 172.3h0M322.2 151.2h0M391.9 148.1h0M405.1 148.0h0M336.9 208.4h0M345.9 149.4h0M410.2 163.6h0M305.1 142.8h0M326.5 154.3h0M350.3 200.2h0M408.7 164.4h0M316.9 143.1h0M414.3 155.4h0M413.4 149.5h0M303.1 143.2h0M359.4 153.8h0M313.3 141.9h0M412.8 149.0h0M411.3 161.6h0M399.8 167.2h0M326.6 155.1h0M358.8 154.2h0M329.3 210.8h0M331.8 210.0h0M412.2 158.2h0M313.3 142.7h0M354.0 150.2h0M314.4 143.2h0M351.9 149.7h0M393.4 149.0h0M333.2 153.6h0M312.7 142.9h0M411.9 157.0h0M358.5 193.7h0M349.0 149.9h0M363.8 190.0h0M320.9 213.5h0M405.8 163.2h0M409.8 150.6h0M321.0 153.9h0M354.0 196.6h0M349.2 150.1h0M409.9 151.0h0M357.2 154.6h0M410.9 156.7h0M302.1 144.3h0M340.6 151.7h0M361.1 191.6h0M410.3 151.9h0M384.1 175.9h0M289.5 151.3h0M345.6 150.7h0M355.0 152.6h0M315.1 145.2h0M408.0 151.0h0M409.9 157.6h0M320.4 154.6h0M409.2 158.4h0M395.7 168.1h0M404.7 162.4h0M317.7 149.8h0M403.9 150.9h0M320.4 156.3h0M401.0 164.2h0M332.3 155.1h0M407.6 152.2h0M402.4 151.1h0M368.4 185.6h0M352.6 152.1h0M407.5 152.6h0M408.5 155.2h0M388.2 150.3h0M318.5 153.0h0M344.1 151.8h0M404.5 161.4h0M354.2 154.5h0M318.8 155.4h0M372.5 182.4h0M391.5 150.3h0M312.1 145.4h0M389.0 150.5h0M351.3 152.3h0M405.4 159.7h0M404.4 160.5h0M321.8 159.7h0M398.9 164.6h0M319.0 157.6h0M403.8 160.9h0M319.6 213.4h0M320.2 159.2h0M350.7 152.6h0M316.6 151.6h0M328.8 157.9h0M291.4 150.6h0M375.4 155.7h0M309.8 145.6h0M378.2 154.7h0M300.5 146.0h0M361.5 157.1h0M350.2 152.9h0M334.7 207.4h0M310.0 145.9h0M404.8 158.6h0M305.6 145.7h0M335.8 155.0h0M358.2 192.1h0M339.9 154.0h0M322.1 161.3h0M328.5 158.8h0M390.6 151.1h0M402.5 153.1h0M319.4 160.6h0M386.8 172.9h0M368.1 157.2h0M319.2 160.5h0M354.4 157.3h0M297.8 147.2h0M367.1 157.4h0M330.0 158.4h0M352.5 156.9h0M343.1 202.1h0M351.8 156.7h0M362.8 157.7h0M315.8 156.6h0M298.6 147.2h0M380.6 176.2h0M315.5 154.7h0M330.5 158.5h0M344.9 154.0h0M386.5 152.3h0M401.6 159.5h0M347.6 154.5h0M313.9 151.5h0M392.6 168.1h0M328.1 160.8h0M317.3 160.9h0M370.5 182.1h0M335.9 156.3h0M327.5 161.5h0M293.7 150.0h0M360.3 158.2h0M398.7 153.6h0M391.4 169.0h0M339.2 155.5h0M383.7 153.4h0"/>
<path stroke="#48186a" d="M372.1 157.6h0M376.8 177.8h0M401.4 155.1h0M401.6 158.7h0M312.0 149.8h0M330.6 208.0h0M330.3 159.7h0M371.3 157.9h0M308.0 147.7h0M361.8 158.4h0M364.5 186.5h0M401.0 155.2h0M312.1 150.2h0M362.2 188.2h0M345.5 155.0h0M350.8 158.0h0M327.9 161.9h0M322.1 211.4h0M314.1 156.2h0M334.4 206.5h0M349.9 157.8h0M346.1 155.3h0M309.6 148.5h0M303.4 147.4h0M362.2 158.5h0M310.7 149.3h0M329.6 160.9h0M313.3 152.9h0M318.2 162.8h0M350.3 158.4h0M344.5 200.5h0M400.9 157.8h0M295.0 149.7h0M313.4 154.4h0M397.1 154.1h0M289.4 154.9h0M400.2 159.1h0M311.3 150.4h0M297.7 148.6h0M341.8 156.0h0M296.6 149.0h0M348.8 158.4h0M371.2 180.6h0M392.4 153.3h0M327.9 163.4h0M337.4 157.3h0M367.3 158.8h0M387.5 153.2h0M333.9 158.8h0M312.1 152.4h0M397.2 154.7h0M312.5 157.3h0M399.4 156.4h0M346.0 157.4h0M380.8 155.6h0M364.2 186.0h0M368.6 182.4h0M385.3 153.9h0M314.8 161.7h0M288.2 157.0h0M399.3 157.6h0M331.9 160.7h0M345.8 199.0h0M379.2 175.6h0M294.2 150.9h0M343.6 157.3h0M345.4 158.1h0M395.8 154.9h0M388.0 153.6h0M295.6 150.1h0M375.1 177.6h0M397.9 156.0h0M343.4 157.6h0M365.4 159.3h0M387.5 170.7h0M338.3 158.2h0M390.2 168.6h0M378.2 157.3h0M311.4 156.0h0M396.4 162.0h0M392.2 154.3h0M308.7 150.5h0M359.6 159.7h0M354.6 192.4h0M313.4 161.7h0M331.1 162.5h0M370.5 159.4h0M385.6 154.4h0M379.1 175.3h0M321.7 166.7h0M350.7 195.2h0M373.5 159.0h0M374.4 177.6h0M336.8 159.1h0M393.3 154.7h0M342.2 158.3h0M374.5 177.5h0M397.9 158.8h0M394.1 154.9h0M331.0 162.9h0M387.9 154.1h0M395.7 162.5h0M381.6 173.9h0M369.1 159.7h0M334.9 160.4h0M369.1 181.1h0M357.5 160.0h0M349.6 195.8h0M329.8 164.5h0M397.0 159.9h0M310.6 155.4h0M369.8 180.4h0M366.8 159.9h0M321.5 210.9h0M311.1 160.7h0M358.5 189.5h0M302.4 149.4h0M337.0 159.9h0M385.4 155.0h0M333.4 161.8h0M319.1 166.3h0M333.4 205.7h0M310.1 156.8h0M341.6 201.3h0M390.8 167.4h0M378.7 157.8h0M396.7 159.0h0M295.8 151.0h0M383.2 172.6h0M310.3 160.8h0M309.8 156.3h0M307.3 151.3h0M367.7 181.7h0M343.0 160.8h0M301.0 149.9h0M348.6 196.0h0M289.0 157.3h0M314.1 163.5h0M336.4 204.1h0M340.7 160.6h0M341.7 160.7h0M309.2 154.0h0M304.9 150.5h0M384.3 155.9h0M293.7 152.6h0M298.8 150.3h0M364.1 160.5h0M294.6 152.1h0M295.2 151.8h0M307.6 152.3h0M308.6 153.8h0M368.6 160.7h0M395.2 160.3h0M348.3 161.7h0M392.5 156.4h0M386.7 155.7h0M327.3 167.5h0M292.2 154.2h0M374.9 175.9h0M383.2 156.8h0M353.5 192.2h0M375.3 175.6h0M308.6 159.6h0M334.6 163.3h0M381.0 173.2h0M387.7 155.9h0M382.8 157.1h0M309.3 161.4h0M333.4 164.2h0M390.2 156.2h0M308.1 154.2h0M336.5 162.7h0M370.7 161.1h0M338.0 162.4h0M337.7 203.0h0M388.6 168.2h0M380.0 158.4h0M288.6 158.4h0M387.3 156.2h0M291.4 155.2h0M390.0 166.9h0M374.1 175.7h0M300.3 151.0h0M393.3 158.2h0M307.1 153.4h0M362.2 185.6h0M378.5 159.4h0M321.7 169.0h0M354.0 161.7h0M379.5 159.0h0M366.9 181.2h0M347.3 162.5h0M339.3 162.8h0M356.0 190.1h0M379.6 173.3h0M381.9 172.3h0M302.0 151.3h0M299.3 151.3h0M307.7 157.4h0M388.6 156.8h0M372.8 176.1h0M344.2 162.8h0M386.1 169.8h0M320.1 168.8h0M346.7 196.6h0M389.6 166.7h0M301.2 151.4h0M389.8 157.3h0M375.2 161.0h0M338.7 202.0h0M337.1 163.9h0M386.2 169.5h0M363.8 161.8h0M392.8 159.6h0M370.4 162.0h0M329.7 206.1h0M327.4 168.8h0M392.7 160.1h0M382.9 171.3h0M383.8 170.8h0M332.3 166.4h0M391.0 164.5h0M377.1 160.7h0M288.5 159.4h0M387.2 157.5h0M370.2 177.3h0M341.2 163.5h0M357.7 161.9h0M315.5 213.4h0M324.5 169.8h0M306.9 160.7h0M325.8 169.7h0M319.3 211.3h0M344.1 198.1h0M380.2 159.9h0M335.9 165.1h0M391.2 159.4h0M337.5 164.6h0M333.9 204.2h0M346.0 163.5h0M355.2 162.3h0M366.2 180.7h0M380.4 172.0h0M334.6 203.7h0M385.0 158.6h0M369.0 162.9h0M364.3 182.5h0M316.1 167.6h0M379.7 160.5h0M335.5 165.6h0M330.4 205.4h0M376.5 173.1h0M315.7 167.3h0M354.3 162.6h0M305.3 154.6h0M367.6 178.8h0M366.7 162.9h0M374.2 162.5h0M389.5 159.2h0M390.6 163.4h0M390.1 164.4h0M348.3 194.7h0M375.9 162.1h0M361.3 185.1h0M362.4 184.1h0M338.0 201.8h0M297.4 153.0h0M389.6 164.6h0M311.3 164.9h0M363.7 163.0h0M390.4 161.7h0M390.1 160.8h0M315.9 168.0h0M335.7 166.1h0M322.5 170.7h0M307.1 162.9h0M389.7 163.9h0M387.1 159.6h0M292.7 155.8h0M361.6 184.6h0M336.4 166.0h0M291.9 156.6h0M330.1 168.9h0M300.7 153.2h0M329.3 169.3h0M388.3 160.1h0M362.7 163.3h0M377.2 172.0h0M384.8 168.8h0M372.1 163.8h0M386.2 167.7h0M385.6 160.1h0M369.1 164.0h0M340.2 165.2h0M387.0 166.8h0M378.3 162.3h0M387.7 166.0h0M355.1 163.2h0M354.2 163.3h0M328.0 170.1h0M363.2 182.7h0M389.1 163.0h0M333.5 167.6h0M291.7 157.1h0M349.0 193.7h0M368.4 164.2h0M353.4 163.4h0"/>
<path stroke="#482071" d="M382.6 169.7h0M368.5 176.3h0M382.7 161.2h0M351.7 191.6h0M368.4 176.3h0M381.7 169.9h0M360.5 163.6h0M379.2 170.7h0M386.5 166.7h0M300.2 153.9h0M370.2 164.6h0M383.1 169.2h0M297.4 154.1h0M289.0 160.5h0M293.2 156.2h0M302.8 155.0h0M329.7 169.9h0M315.6 168.8h0M353.4 190.2h0M383.2 161.8h0M370.1 165.0h0M340.9 199.3h0M303.4 156.1h0M333.0 168.3h0M383.6 168.4h0M386.3 162.1h0M299.2 154.2h0M375.6 171.0h0M310.1 165.5h0M369.8 165.3h0M289.5 160.2h0M360.9 184.1h0M379.1 169.9h0M360.8 164.3h0M349.1 193.0h0M351.0 164.3h0M377.2 170.2h0M330.1 204.6h0M305.2 163.2h0M288.5 161.9h0M382.0 162.9h0M384.5 167.1h0M313.1 167.5h0M362.1 182.7h0M356.6 164.0h0M385.8 163.2h0M369.6 173.9h0M378.5 164.3h0M291.3 158.4h0M358.6 186.0h0M372.3 165.8h0M376.3 165.2h0M297.7 154.8h0M378.6 164.5h0M383.1 167.8h0M329.3 204.8h0M343.3 165.8h0M364.2 179.6h0M337.6 201.0h0M290.7 159.2h0M384.5 163.7h0M314.3 213.3h0M382.4 163.7h0M291.8 158.2h0M382.9 163.7h0M384.7 165.6h0M376.1 169.3h0M384.9 165.0h0M378.0 165.4h0M349.3 165.0h0M371.5 171.8h0M314.2 168.7h0M384.1 164.1h0M367.4 166.1h0M376.0 166.4h0M378.0 165.7h0M312.1 167.3h0M373.4 166.7h0M383.1 166.7h0M378.4 165.8h0M384.0 165.2h0M380.7 164.8h0M337.4 167.4h0M377.8 166.2h0M302.2 156.8h0M340.7 166.6h0M377.0 168.1h0M341.9 166.3h0M374.6 168.9h0M383.2 165.5h0M363.3 165.8h0M379.0 166.6h0M381.8 166.5h0M365.0 166.2h0M374.0 168.1h0M381.0 166.9h0M289.7 160.9h0M302.0 156.7h0M367.0 166.5h0M359.6 165.1h0M360.1 165.2h0M380.8 166.1h0M360.6 165.4h0M288.2 163.5h0M358.4 185.6h0M315.3 169.8h0M352.1 164.9h0M371.6 170.5h0M371.7 167.7h0M366.4 166.7h0M365.1 177.3h0M352.6 164.9h0M372.1 168.5h0M353.6 164.9h0M313.5 213.6h0M369.0 172.9h0M362.3 180.9h0M340.2 198.9h0M354.6 165.0h0M352.2 165.1h0M371.0 168.3h0M360.0 183.7h0M361.5 166.1h0M301.8 157.6h0M302.0 158.2h0M297.3 156.0h0M354.6 188.2h0M335.0 201.8h0M360.5 166.0h0M297.6 156.0h0M289.8 161.4h0M369.8 171.1h0M363.8 166.9h0M324.9 206.5h0M363.0 166.8h0M331.0 170.7h0M345.7 166.3h0M322.2 173.0h0M332.3 170.1h0M369.9 169.5h0M364.3 177.3h0M312.2 168.3h0M290.8 160.4h0M314.6 170.1h0M323.1 207.5h0M325.3 173.0h0M369.4 169.9h0M308.8 166.5h0M355.6 187.2h0M369.0 169.4h0M300.0 157.0h0M368.1 172.2h0M348.9 192.0h0M332.8 170.0h0M295.3 157.1h0M353.2 165.6h0M368.2 169.0h0M366.4 174.2h0M290.6 160.9h0M336.9 168.5h0M296.6 156.9h0M349.1 191.7h0M288.4 164.7h0M368.2 171.2h0M368.3 170.5h0M361.7 167.4h0M340.4 198.2h0M310.2 167.5h0M290.3 161.6h0M367.7 171.5h0M362.8 178.2h0M359.5 166.9h0M307.2 166.2h0M299.5 157.5h0M346.5 166.7h0M308.6 166.8h0M344.9 167.0h0M356.7 185.7h0M312.6 169.2h0M318.3 172.7h0M336.4 200.5h0M321.2 173.5h0M322.5 173.7h0M301.7 162.2h0M348.7 166.5h0M360.3 167.5h0M346.2 193.7h0M311.9 168.8h0M303.0 164.4h0M366.8 170.3h0M362.7 177.8h0M344.3 195.0h0M288.5 165.5h0M365.8 173.4h0M366.5 170.6h0M324.2 173.9h0M316.3 172.0h0M288.1 167.4h0M336.6 200.2h0M291.4 160.8h0M341.9 167.8h0M327.1 204.7h0M288.3 166.9h0M354.1 187.5h0M360.8 180.1h0M299.2 158.3h0M291.6 160.8h0M288.6 166.0h0M335.8 200.5h0M319.4 173.5h0M306.4 166.5h0M354.9 186.7h0M300.5 160.5h0M300.0 159.6h0M298.0 158.1h0M358.8 182.6h0M331.6 171.4h0M362.4 169.1h0M301.0 162.3h0M360.9 179.4h0M340.9 197.3h0M318.2 173.2h0M351.3 166.9h0M365.3 171.2h0M291.5 161.2h0M289.2 165.0h0M359.6 181.1h0M364.5 173.4h0M308.2 167.4h0M354.3 167.2h0M355.4 186.0h0M317.0 211.0h0M296.2 158.5h0M347.6 167.4h0M321.0 208.2h0M332.7 201.8h0M289.0 165.7h0M326.7 204.6h0M341.5 196.6h0M295.5 158.7h0M321.9 174.4h0M363.4 175.0h0M364.2 173.6h0M364.5 172.1h0M356.8 167.9h0M306.0 166.7h0M300.7 163.1h0M298.4 159.1h0M357.3 183.8h0M355.6 167.8h0M351.9 188.5h0M345.9 167.8h0M299.2 160.0h0M344.1 194.5h0M351.6 167.4h0M334.0 201.0h0M296.3 159.0h0M349.2 167.6h0M337.6 169.5h0M288.7 168.4h0M361.6 176.6h0M358.9 181.0h0M290.4 163.6h0M361.9 170.4h0M289.1 166.9h0M353.7 167.8h0M359.7 169.5h0M299.4 161.0h0M350.8 189.1h0M334.8 200.5h0M346.1 192.6h0M362.5 174.8h0M353.0 167.8h0M357.2 183.2h0M361.9 175.7h0M292.6 161.1h0M335.2 200.2h0M354.9 185.6h0M352.6 167.9h0M330.6 172.5h0M349.0 190.3h0M352.4 168.0h0M336.4 170.1h0M298.4 160.3h0M341.4 196.2h0M362.6 172.2h0M343.4 168.6h0M362.6 173.0h0M349.7 168.1h0M362.3 172.6h0M347.2 168.3h0M289.7 166.1h0"/>
<path stroke="#482878" d="M314.2 172.1h0M299.5 163.1h0M288.3 171.8h0M353.2 168.5h0M360.2 177.1h0M338.4 198.1h0M315.7 211.4h0M342.5 195.1h0M298.0 160.8h0M361.2 175.0h0M289.2 169.3h0M289.4 168.1h0M347.7 190.8h0M359.5 177.8h0M356.6 182.8h0M360.2 171.3h0M361.2 172.3h0M337.3 198.6h0M357.2 181.8h0M359.8 177.1h0M295.0 160.5h0M361.3 173.9h0M291.3 163.6h0M340.2 169.5h0M298.7 162.6h0M319.8 174.9h0M346.9 168.7h0M360.8 172.2h0M354.0 185.5h0M292.5 162.3h0M290.4 165.7h0M317.2 174.0h0M289.8 167.5h0M359.9 171.7h0M330.0 173.3h0M354.2 169.3h0M340.0 169.7h0M294.3 161.2h0M343.2 194.2h0M352.8 186.5h0M333.6 200.4h0M355.6 183.5h0M341.7 169.4h0M349.1 189.4h0M296.9 161.3h0M337.6 170.3h0M291.2 164.5h0M307.3 168.3h0M306.3 167.9h0M359.9 175.6h0M355.8 182.9h0M356.4 170.4h0M359.9 175.1h0M290.2 167.2h0M327.2 174.7h0M313.5 172.3h0M343.0 194.2h0M297.5 162.2h0M352.8 186.0h0M355.3 183.2h0M330.4 173.4h0M350.3 169.3h0M340.0 169.9h0M358.4 171.9h0M305.6 167.9h0M295.2 161.8h0M292.8 163.1h0M291.3 165.1h0M328.4 202.6h0M288.9 171.9h0M357.7 178.3h0M340.1 196.2h0M352.6 169.9h0M359.3 173.9h0M354.4 184.0h0M332.3 200.7h0M310.3 170.3h0M290.1 169.2h0M354.0 184.3h0M290.8 167.0h0M319.1 175.3h0M350.4 187.7h0M293.7 163.0h0M298.0 164.6h0M354.6 170.9h0M355.6 181.5h0M355.1 182.3h0M318.8 175.3h0M358.5 173.8h0M316.1 210.8h0M343.1 169.9h0M341.8 170.0h0M356.1 180.5h0M292.5 164.3h0M291.1 167.0h0M342.6 193.9h0M296.2 163.2h0M334.8 171.8h0M353.0 184.8h0M295.2 163.1h0M357.8 173.7h0M343.9 170.0h0M357.3 173.2h0M290.1 170.3h0M321.6 206.7h0M341.9 170.3h0M293.3 164.2h0M332.0 173.1h0M291.1 168.1h0M356.9 177.2h0M350.1 170.5h0M349.0 170.4h0M292.9 164.9h0M357.3 174.6h0M333.9 199.4h0M352.6 184.8h0M291.9 166.6h0M309.3 170.3h0M289.1 172.6h0M294.9 163.9h0M293.5 164.6h0M307.6 169.4h0M350.3 170.7h0M292.4 166.1h0M292.8 165.7h0M293.2 165.2h0M328.0 202.2h0M356.5 174.4h0M296.7 165.3h0M306.2 168.9h0M355.0 172.8h0M327.8 202.3h0M309.0 170.3h0M312.6 212.6h0M354.8 173.1h0M332.3 173.3h0M353.0 183.1h0M300.7 167.5h0M353.2 172.3h0M296.8 166.1h0M293.1 166.4h0M337.8 196.7h0M344.2 191.8h0M355.5 174.4h0M294.0 165.9h0M295.2 165.7h0M349.2 171.4h0M353.1 182.3h0M354.8 173.6h0M313.8 211.9h0M289.8 172.2h0M354.1 179.8h0M352.5 172.4h0M318.7 208.5h0M303.9 168.5h0M307.4 169.8h0M317.4 175.7h0M343.6 192.0h0M301.7 168.0h0M350.7 172.0h0M296.1 166.4h0M354.5 178.1h0M354.7 177.2h0M347.8 171.4h0M337.1 196.9h0M293.2 167.3h0M320.8 176.9h0M293.0 167.6h0M322.1 205.8h0M354.7 176.6h0M338.4 171.6h0M329.9 200.8h0M299.0 167.5h0M294.2 166.9h0M323.3 177.1h0M353.9 178.4h0M347.2 188.6h0M297.9 167.3h0M295.3 166.8h0M354.2 174.9h0M316.8 209.7h0M291.3 170.5h0M313.2 212.0h0M339.8 194.7h0M350.8 184.2h0M331.4 174.3h0M353.6 175.0h0M350.5 184.6h0M326.4 176.5h0M332.3 173.9h0M292.7 168.9h0M352.5 173.9h0M352.4 180.7h0M353.6 176.8h0M348.5 172.4h0M291.0 171.3h0M297.7 167.7h0M350.4 173.0h0M326.6 202.3h0M352.3 174.1h0M335.9 172.6h0M293.0 169.0h0M294.5 168.0h0M351.7 174.0h0M353.0 175.7h0M328.0 176.0h0M333.1 198.7h0M348.9 186.0h0M333.5 173.6h0M350.9 173.7h0M352.4 178.5h0M344.9 189.9h0M344.2 172.0h0M342.0 192.5h0M322.8 204.9h0M352.6 175.8h0M293.5 168.9h0M348.2 186.5h0M294.2 168.5h0M330.3 200.0h0M349.9 173.5h0M352.5 176.4h0M351.1 174.3h0M342.2 172.0h0M329.0 175.7h0M352.3 176.0h0M326.9 201.9h0M352.4 177.1h0M336.4 196.6h0M347.1 187.4h0M330.5 199.8h0M289.5 173.8h0M351.5 174.9h0M350.5 182.3h0M350.8 181.5h0M293.7 169.1h0M345.3 189.2h0M312.7 174.3h0M343.4 172.3h0M346.8 173.1h0M315.9 210.0h0M310.4 172.9h0M346.6 187.5h0"/>
<path stroke="#46307e" d="M288.8 175.1h0M303.0 169.3h0M325.1 177.6h0M313.1 174.7h0M351.2 176.4h0M342.3 172.4h0M348.1 185.5h0M304.6 169.8h0M351.0 178.5h0M330.1 199.7h0M341.9 172.4h0M312.3 174.3h0M350.3 175.2h0M349.3 174.6h0M349.6 182.1h0M316.4 176.5h0M337.0 195.7h0M310.6 173.2h0M348.4 184.4h0M311.1 173.6h0M350.0 180.3h0M348.8 174.6h0M350.6 177.4h0M339.4 193.7h0M329.2 200.0h0M343.2 172.8h0M349.0 182.7h0M346.6 186.7h0M297.6 168.9h0M349.3 181.4h0M344.9 173.3h0M347.9 174.5h0M348.2 174.6h0M341.1 192.2h0M347.3 185.6h0M292.8 170.8h0M340.8 192.4h0M308.7 172.1h0M344.7 188.6h0M349.9 177.3h0M343.3 190.0h0M349.3 176.0h0M347.9 184.0h0M293.5 170.4h0M348.4 175.2h0M331.1 198.7h0M339.3 193.4h0M294.1 170.1h0M309.6 173.0h0M347.7 183.8h0M298.8 169.2h0M349.3 177.8h0M336.3 173.6h0M331.6 198.3h0M345.0 187.7h0M295.4 169.7h0M341.6 191.1h0M338.3 194.0h0M335.9 173.8h0M348.5 180.6h0M291.4 172.6h0M345.0 187.4h0M341.6 173.4h0M347.1 184.0h0M328.8 176.7h0M335.4 195.9h0M331.4 175.5h0M347.5 182.6h0M340.3 173.4h0M319.1 178.2h0M337.8 194.1h0M288.7 176.0h0M346.3 175.2h0M338.8 193.3h0M318.3 207.7h0M323.4 178.7h0M330.1 198.9h0M347.7 181.4h0M331.9 197.8h0M329.4 199.2h0M342.6 189.5h0M337.1 194.5h0M345.7 185.5h0M331.4 198.0h0M319.2 206.9h0M347.4 176.8h0M343.8 174.4h0M334.3 196.2h0M316.1 177.3h0M291.0 173.5h0M299.6 169.8h0M322.3 204.1h0M346.4 182.9h0M333.6 175.0h0M341.2 190.5h0M334.8 195.7h0M346.4 182.5h0M340.7 174.0h0M337.0 174.1h0M344.9 185.6h0M344.0 186.9h0M316.6 177.7h0M328.8 199.2h0M295.2 170.6h0M346.8 180.3h0M295.7 170.5h0M327.5 177.9h0M346.2 176.9h0M330.2 198.2h0M311.5 175.2h0M344.2 186.2h0M341.9 189.2h0M333.5 196.1h0M340.8 190.3h0M338.7 174.2h0M346.2 180.2h0M337.2 174.4h0M335.0 195.1h0M345.7 181.7h0M289.8 175.4h0M333.3 175.5h0M342.7 187.7h0M322.8 179.5h0M328.4 177.7h0M291.8 173.3h0M345.8 178.7h0M337.0 193.3h0M344.1 185.0h0M341.2 174.8h0M344.0 185.1h0M340.7 189.9h0M345.1 177.2h0M345.2 182.1h0M344.5 176.6h0M296.7 170.6h0M300.4 170.4h0M324.5 201.8h0M340.4 174.8h0M336.7 174.8h0M298.7 170.4h0M336.4 174.9h0M343.6 185.3h0M341.1 189.0h0M312.4 176.3h0M311.1 175.6h0M336.1 193.6h0M331.2 176.7h0M300.4 170.6h0M335.5 194.0h0M294.1 171.9h0M342.9 176.1h0M344.6 178.0h0M313.4 176.9h0M344.7 181.1h0M295.0 171.5h0M344.0 177.2h0M301.7 170.9h0M335.0 194.3h0M338.0 175.0h0M303.0 171.2h0M336.8 175.1h0M336.5 193.0h0M291.2 174.3h0M328.2 198.6h0M332.5 195.8h0M319.0 179.5h0M320.1 179.9h0M314.5 177.6h0M328.0 178.4h0M324.8 201.2h0M337.2 192.2h0M321.6 180.1h0M343.4 177.3h0M299.2 170.8h0M342.4 185.6h0M328.6 198.2h0M325.0 200.9h0M333.9 194.6h0M321.4 204.0h0M334.3 175.9h0M332.0 176.7h0M335.0 175.7h0M330.5 196.8h0M343.0 183.6h0M327.7 198.7h0M343.8 179.7h0M303.1 171.5h0M342.3 176.8h0M289.8 176.1h0M343.6 180.6h0"/>
<path stroke="#453882" d="M294.3 172.3h0M332.8 195.1h0M334.0 194.2h0M290.5 175.4h0M343.4 178.6h0M330.9 196.3h0M292.8 173.3h0M334.7 176.0h0M333.1 176.5h0M314.2 210.1h0M339.3 175.8h0M343.2 181.2h0M317.3 207.6h0M331.6 195.8h0M342.3 183.8h0M340.3 187.4h0M343.0 180.1h0M336.9 191.3h0M340.0 187.6h0M337.9 175.8h0M339.3 176.1h0M328.2 197.9h0M339.1 188.9h0M326.0 199.6h0M342.8 180.4h0M307.3 173.9h0M329.4 197.0h0M339.9 187.3h0M311.6 211.6h0M332.1 177.3h0M316.3 179.2h0M291.6 174.7h0M339.9 176.7h0M293.3 173.3h0M341.7 182.8h0M342.1 179.4h0M326.0 199.4h0M331.3 195.2h0M339.0 187.9h0M288.3 178.8h0M320.4 204.5h0M341.2 177.9h0M295.1 172.4h0M336.4 190.9h0M339.1 176.7h0M291.2 175.2h0M337.5 189.6h0M319.0 180.5h0M330.0 178.4h0M338.5 188.1h0M329.8 178.6h0M337.7 189.1h0M341.5 181.5h0M308.4 213.3h0M318.6 206.0h0M334.5 192.3h0M341.2 178.9h0M311.1 176.9h0M331.9 177.7h0M341.4 180.2h0M292.9 173.9h0M313.0 178.0h0M288.6 178.7h0M301.1 171.9h0M326.5 198.5h0M337.1 189.3h0M341.1 181.7h0M341.2 180.9h0M333.2 193.1h0M338.5 187.2h0M332.8 177.6h0M340.8 182.5h0M316.8 179.9h0M299.0 171.9h0M339.7 184.8h0M337.4 188.5h0M308.8 213.0h0M338.7 186.2h0M292.2 174.7h0M333.6 192.4h0M309.7 176.3h0M311.7 177.6h0M328.6 179.6h0M307.3 174.7h0M338.0 187.2h0M335.5 177.2h0M310.7 177.1h0M339.5 184.2h0M335.8 189.9h0M303.9 172.9h0M340.2 182.1h0M339.9 178.9h0M337.3 187.9h0M336.5 189.0h0M317.4 206.9h0M326.0 180.8h0M334.4 191.3h0M292.7 174.5h0M330.6 194.6h0M291.7 175.3h0M314.8 179.3h0M310.3 212.1h0M318.3 206.0h0M337.6 177.6h0M295.7 172.8h0M340.0 179.5h0M330.7 194.4h0M339.8 179.3h0M333.4 177.9h0M339.1 178.6h0M296.8 172.5h0M340.0 180.4h0M335.5 177.6h0M339.5 182.7h0M334.3 190.9h0M333.4 178.1h0M322.1 202.1h0M339.6 180.8h0M300.4 172.4h0M339.3 182.3h0M328.0 180.3h0M320.7 181.9h0M338.2 184.9h0M322.2 201.9h0M318.8 181.4h0M336.1 177.9h0M323.8 181.9h0M337.0 186.6h0M331.7 192.9h0M327.0 180.9h0M339.0 182.6h0M335.5 188.6h0M332.8 191.7h0M334.9 189.4h0M320.0 181.9h0M330.2 194.2h0M330.2 179.5h0M337.7 185.1h0M331.2 193.2h0M329.3 194.9h0M338.9 180.7h0M333.7 178.4h0M338.6 179.7h0M314.6 179.7h0M333.9 190.1h0M292.4 175.2h0M334.3 189.6h0M317.8 181.3h0M314.5 208.9h0M325.6 198.2h0M329.9 179.9h0M335.4 187.7h0M337.7 179.5h0M336.8 178.9h0M302.5 173.2h0M333.0 178.9h0M333.4 178.8h0M334.8 178.6h0M335.7 187.0h0M333.6 178.8h0M299.9 172.8h0M331.6 192.0h0M338.0 181.0h0M320.7 182.4h0M331.3 179.6h0M288.5 180.1h0M288.8 179.6h0M337.6 180.6h0M335.1 187.2h0M336.5 184.9h0"/>
<path stroke="#424086" d="M337.3 183.3h0M288.2 180.8h0M314.8 180.2h0M337.0 180.1h0M301.6 173.2h0M333.6 179.3h0M319.3 182.3h0M325.1 198.1h0M311.6 178.6h0M308.6 176.9h0M335.2 179.3h0M336.3 179.8h0M304.6 174.4h0M332.5 189.9h0M290.1 178.1h0M296.0 173.6h0M336.5 183.7h0M323.5 182.8h0M336.9 182.1h0M291.2 176.9h0M329.9 180.7h0M331.9 190.5h0M328.7 181.2h0M293.4 175.0h0M326.7 182.1h0M328.5 181.4h0M332.3 189.9h0M330.6 180.5h0M301.2 173.3h0M336.7 181.9h0M329.0 193.7h0M331.8 180.2h0M336.2 183.2h0M329.5 193.0h0M335.9 180.5h0M333.8 187.3h0M324.0 183.0h0M336.1 180.9h0M336.3 181.4h0M329.6 181.1h0M315.0 180.6h0M332.3 189.2h0M335.9 183.0h0M329.5 192.7h0M295.9 173.9h0M330.4 191.6h0M335.6 183.5h0M335.4 183.7h0M331.5 180.7h0M296.5 173.8h0M328.1 194.1h0M334.5 185.2h0M334.1 185.8h0M329.5 181.5h0M306.7 176.2h0M331.0 181.0h0M319.2 204.0h0M328.4 193.7h0M301.7 173.7h0M329.4 192.3h0M288.3 181.3h0M326.8 195.5h0M321.6 183.4h0M333.9 180.7h0M297.2 173.7h0M303.9 174.6h0M334.0 180.8h0M334.5 184.6h0M288.2 181.7h0M315.9 181.4h0M335.0 183.1h0M330.2 181.5h0M302.1 174.0h0M330.4 181.5h0M331.6 188.7h0M289.3 179.7h0M320.8 202.1h0M331.2 181.4h0M311.3 210.8h0M310.5 178.8h0M333.9 184.8h0M321.4 183.6h0M330.1 190.7h0M315.5 181.4h0M334.2 184.1h0M328.3 182.4h0M330.5 190.1h0M326.3 183.1h0M328.9 182.3h0M332.1 187.3h0M334.0 183.6h0M331.4 181.6h0M329.7 191.0h0M314.1 180.7h0M322.2 200.4h0M296.7 174.1h0M329.5 182.3h0M306.9 176.7h0M329.8 190.6h0M314.7 181.1h0M330.3 189.7h0M328.9 192.0h0M324.1 198.2h0M330.4 182.1h0M331.0 182.0h0M319.6 183.4h0M330.8 182.2h0M328.1 183.0h0M330.7 188.5h0M313.0 209.4h0M332.5 185.2h0M331.3 182.3h0M332.6 184.9h0M328.6 191.9h0M331.0 187.4h0M303.4 174.9h0M308.4 177.9h0M313.7 180.8h0M307.6 177.4h0M330.0 182.9h0M330.7 182.8h0M331.8 183.0h0M330.5 182.9h0M295.9 174.6h0M314.4 181.2h0M326.7 194.5h0M331.7 183.2h0M315.3 181.7h0M329.6 183.2h0M324.5 184.2h0M294.9 175.1h0M332.0 184.4h0M328.5 183.5h0M329.2 190.3h0M320.0 183.8h0M331.5 183.6h0M331.6 184.0h0M331.6 184.8h0M317.2 182.8h0M331.5 184.4h0M310.9 179.5h0M328.8 190.8h0M331.0 183.7h0M303.7 175.2h0M330.8 186.2h0M328.8 183.7h0M299.1 174.2h0M329.5 189.0h0M330.6 184.1h0M330.1 183.9h0M329.2 184.0h0M313.0 209.2h0M320.6 184.2h0M328.7 190.3h0M300.5 174.3h0M322.6 199.4h0M291.1 178.2h0M329.6 184.4h0M292.7 176.7h0M328.7 189.9h0M294.3 175.6h0M329.8 187.0h0M329.7 187.3h0M329.4 188.1h0M315.3 207.3h0M325.2 195.9h0M318.8 183.8h0M329.1 184.9h0M326.4 194.1h0M329.5 185.6h0M329.1 185.4h0M329.0 188.0h0M312.0 180.3h0M323.2 184.9h0M298.6 174.5h0M328.8 186.2h0M327.8 185.3h0M290.6 179.1h0M306.0 177.0h0M328.4 189.2h0M322.9 198.6h0M299.9 174.5h0M288.3 182.8h0M300.8 174.7h0M327.8 190.3h0M310.4 179.7h0M327.9 185.9h0M321.5 200.2h0M292.7 177.0h0M315.1 182.2h0M328.1 188.9h0"/>
<path stroke="#3f4788" d="M309.2 211.7h0M328.1 186.7h0M317.4 183.4h0M327.3 191.4h0M327.8 189.0h0M325.9 194.0h0M322.7 185.3h0M312.3 180.8h0M324.7 185.6h0M316.8 205.5h0M301.0 175.0h0M309.3 179.3h0M327.4 187.3h0M327.2 186.8h0M308.2 212.2h0M308.7 211.9h0M321.1 185.1h0M303.7 176.0h0M319.9 184.7h0M289.3 181.3h0M303.2 175.8h0M297.7 175.0h0M316.2 206.0h0M312.6 181.1h0M326.8 190.9h0M288.5 183.0h0M311.5 210.0h0M301.1 175.1h0M319.0 202.9h0M302.7 175.7h0M311.3 180.5h0M326.5 187.1h0M294.1 176.4h0M305.6 177.3h0M316.0 206.1h0M325.0 194.7h0M324.8 195.0h0M322.4 185.8h0M301.6 175.4h0M326.0 192.3h0M292.5 177.8h0M326.3 190.9h0M319.4 185.0h0M309.9 211.0h0M300.7 175.3h0M295.4 175.9h0M324.8 186.9h0M313.8 182.1h0M326.2 189.2h0M309.8 211.0h0M324.0 186.7h0M292.1 178.2h0M313.2 181.8h0M317.2 184.1h0M320.8 200.3h0M319.8 201.7h0M325.8 191.9h0M312.7 208.9h0M320.5 185.6h0M321.4 199.5h0M312.2 181.4h0M325.3 188.0h0M324.6 187.4h0M291.5 179.0h0M310.3 210.6h0M289.9 181.0h0M313.3 182.1h0M307.8 179.2h0M288.4 184.0h0M313.7 207.9h0M314.7 207.0h0M321.1 186.0h0M323.6 196.2h0M296.5 175.8h0M302.3 176.1h0M295.8 176.0h0M300.3 175.6h0M294.3 176.8h0M291.1 179.6h0M318.0 203.4h0M316.1 184.0h0M312.1 181.7h0M297.0 176.0h0M322.3 197.6h0M324.8 192.2h0M322.8 187.4h0M303.7 177.1h0M324.9 190.8h0M304.8 177.8h0M321.0 186.5h0M324.6 192.6h0M320.1 186.2h0M323.0 187.8h0M296.6 176.2h0M323.9 194.6h0M321.3 186.8h0M307.9 179.8h0M290.4 181.0h0M291.8 179.3h0M306.7 212.6h0M324.3 192.7h0M308.2 211.7h0M311.8 181.9h0M293.2 178.1h0M303.0 177.2h0M321.6 187.4h0M324.0 190.0h0M294.4 177.4h0M296.1 176.6h0M322.2 187.8h0M300.2 176.3h0M321.4 187.3h0M292.5 178.9h0"/>
<path stroke="#3d4e8a" d="M297.7 176.3h0M317.3 185.3h0M290.1 181.8h0M306.1 212.8h0M321.9 187.9h0M315.6 205.6h0M293.7 178.1h0M291.3 180.3h0M297.6 176.5h0M323.4 193.8h0M294.1 177.9h0M321.5 197.8h0M323.1 189.8h0M305.7 179.2h0M291.5 180.3h0M313.6 207.4h0M303.9 178.2h0M305.3 213.1h0M323.4 192.1h0M309.3 210.7h0M323.0 194.2h0M294.9 177.7h0M320.3 199.4h0M322.3 189.2h0M300.8 177.0h0M321.4 197.6h0M323.1 193.3h0M323.2 191.7h0M310.1 181.7h0M292.4 179.6h0M302.7 177.7h0M299.5 176.9h0M322.3 195.6h0M291.3 181.0h0M320.7 198.5h0M305.4 179.4h0M292.7 179.5h0M318.7 201.3h0M321.5 196.8h0M293.3 179.1h0M297.2 177.2h0M299.4 177.1h0M290.0 183.1h0M318.3 201.8h0M304.2 213.5h0M295.8 177.7h0M298.6 177.2h0M294.4 178.4h0M317.5 202.7h0M322.3 194.6h0M291.0 181.8h0M311.0 209.3h0M291.8 180.7h0M316.8 203.5h0M301.8 177.9h0M292.7 179.8h0M288.6 186.1h0M302.1 178.0h0M320.7 188.8h0M294.0 178.9h0M318.9 187.6h0M294.1 178.9h0M316.8 186.4h0M315.7 185.7h0M321.9 191.4h0M316.0 185.9h0M317.3 186.8h0M311.9 183.4h0M317.0 203.0h0M293.5 179.5h0M293.2 179.8h0M289.1 185.8h0M307.7 211.4h0M299.1 177.8h0M320.8 189.9h0M313.4 184.5h0M319.0 188.2h0M307.3 181.3h0"/>
<path stroke="#39558c" d="M321.5 195.0h0M316.3 186.4h0M311.3 183.3h0M292.7 180.5h0M292.3 181.0h0M303.7 179.4h0M321.6 194.2h0M315.4 204.7h0M291.1 182.5h0M301.6 178.5h0M305.8 180.7h0M297.7 178.1h0M321.1 195.5h0M321.2 191.3h0M321.4 192.2h0M308.6 210.6h0M313.9 185.1h0M321.4 193.7h0M299.1 178.1h0M320.3 197.3h0M319.9 189.7h0M317.6 201.7h0M319.2 189.1h0M294.1 179.8h0M314.8 186.0h0M301.2 178.8h0M321.0 194.8h0M321.1 194.3h0M289.8 185.3h0M320.0 190.3h0M320.8 191.8h0M305.5 212.4h0M290.0 185.0h0M306.2 212.0h0M320.5 191.3h0M313.2 185.0h0M301.4 179.0h0M316.3 187.2h0M316.9 187.6h0M291.6 182.6h0M320.7 195.4h0M295.2 179.4h0M310.1 183.3h0M316.2 203.1h0M302.2 179.5h0M320.7 194.8h0M301.8 179.4h0M288.9 187.2h0M319.2 189.7h0M306.2 181.5h0M313.3 206.5h0M320.3 191.5h0M315.1 204.4h0M313.5 206.2h0M293.2 181.0h0M290.0 185.3h0M292.0 182.3h0M318.4 199.9h0M320.3 196.0h0M318.8 189.6h0M294.3 180.2h0M319.5 190.5h0M298.1 178.8h0M291.0 183.9h0M309.1 183.0h0M291.2 183.5h0M319.2 190.2h0M298.8 178.9h0M315.6 187.1h0M316.3 187.6h0M296.4 179.3h0M320.4 195.1h0M310.8 184.0h0M305.7 181.5h0M308.0 182.6h0M312.2 184.9h0M319.1 198.3h0M307.6 182.5h0M310.7 184.1h0M307.2 182.4h0M317.1 188.5h0M305.9 211.9h0M300.6 179.5h0M314.9 204.3h0M292.9 181.8h0M297.1 179.4h0M300.0 179.4h0M317.3 188.8h0M309.0 209.9h0M300.0 179.4h0M301.4 179.9h0M290.9 184.5h0M302.4 180.3h0M310.4 208.8h0"/>
<path stroke="#365c8d" d="M318.2 189.7h0M304.6 181.4h0M310.5 184.1h0M308.8 183.3h0M298.7 179.4h0M294.9 180.4h0M312.1 207.2h0M318.6 190.3h0M297.8 179.5h0M291.8 183.3h0M302.9 213.5h0M305.5 212.1h0M292.1 182.9h0M293.9 181.2h0M316.4 202.2h0M311.0 208.2h0M319.7 192.6h0M319.8 195.0h0M300.1 179.7h0M319.8 194.9h0M296.9 179.8h0M301.3 180.1h0M319.2 197.2h0M292.2 183.0h0M312.9 185.9h0M289.9 186.6h0M301.9 180.4h0M315.5 203.3h0M290.9 184.9h0M293.4 181.9h0M296.1 180.2h0M319.4 192.4h0M316.8 188.9h0M313.2 205.9h0M318.8 191.3h0M291.8 183.7h0M314.9 187.5h0M317.9 190.2h0M293.8 181.7h0M297.9 179.9h0M317.7 190.0h0M307.1 183.0h0M294.4 181.2h0M319.0 197.0h0M318.2 198.7h0M308.4 210.0h0M289.6 187.4h0M295.4 180.8h0M317.1 200.5h0M300.7 180.4h0M319.2 195.9h0M318.4 198.1h0M318.1 191.0h0M290.4 186.3h0M291.3 184.9h0M311.7 185.5h0M319.1 196.0h0M297.0 180.4h0M315.3 203.1h0M314.4 187.5h0M318.4 198.0h0M291.7 184.5h0M309.7 184.5h0M303.2 181.6h0M295.8 180.9h0M317.4 199.8h0M295.1 181.3h0M297.7 180.5h0M306.4 183.1h0M298.7 180.5h0M316.9 190.0h0M292.3 183.9h0M293.0 183.2h0M302.1 181.3h0M290.7 186.2h0M308.6 184.2h0M314.3 204.1h0M293.3 183.0h0M318.6 196.4h0M295.5 181.4h0M301.8 181.4h0M305.6 182.9h0M306.1 211.3h0M300.8 181.1h0M297.5 180.8h0M307.8 183.9h0M308.4 184.2h0M292.3 184.2h0M318.4 196.5h0M312.4 186.6h0"/>
<path stroke="#33638d" d="M317.1 190.8h0M315.6 189.2h0M304.8 212.0h0M316.3 201.0h0M314.9 188.6h0M317.3 191.1h0M317.2 199.4h0M318.4 195.7h0M289.9 187.9h0M293.0 183.7h0M299.8 181.2h0M317.4 199.0h0M318.3 193.5h0M317.7 191.9h0M296.0 181.6h0M290.4 187.1h0M316.6 190.4h0M307.8 210.1h0M296.6 181.4h0M313.0 187.3h0M310.6 207.8h0M310.3 208.1h0M290.7 186.8h0M298.2 181.3h0M291.2 186.2h0M296.1 181.8h0M316.5 200.3h0M318.2 195.3h0M303.7 212.5h0M318.1 194.2h0M315.0 202.6h0M297.2 181.6h0M307.8 184.4h0M292.4 184.8h0M295.4 182.3h0M315.2 189.5h0M303.6 182.7h0M300.4 181.7h0M313.6 188.1h0M304.1 183.0h0M293.4 183.9h0M308.2 184.8h0M317.5 192.9h0M302.1 213.2h0M301.8 182.3h0M317.8 196.5h0M296.3 182.2h0M306.2 184.0h0M292.9 184.6h0M293.4 184.0h0M311.3 186.6h0M290.5 187.7h0M313.7 204.1h0M317.1 192.3h0M310.8 186.3h0M317.4 197.7h0M312.1 205.9h0M293.8 183.8h0M315.7 190.5h0M315.1 189.9h0M295.8 182.6h0M295.3 182.8h0M310.2 186.1h0M315.3 201.6h0M305.4 183.8h0M296.8 182.3h0M316.2 191.2h0M295.0 183.1h0M304.6 211.8h0M312.3 187.6h0M299.8 182.2h0M303.0 212.6h0M317.6 195.2h0M317.4 193.8h0M317.2 193.5h0M289.9 188.9h0M306.9 184.5h0M302.7 183.0h0M312.4 205.3h0M308.8 185.5h0M313.0 204.6h0M312.6 205.1h0M291.4 186.9h0M304.7 183.8h0M310.7 186.7h0"/>
<path stroke="#30698e" d="M307.9 185.2h0M298.3 182.4h0M301.8 182.9h0M317.3 195.3h0M290.9 187.7h0M314.0 189.3h0M302.9 212.6h0M315.6 191.1h0M317.0 197.3h0M307.5 185.0h0M317.1 196.5h0M292.1 186.4h0M313.4 203.9h0M301.3 183.0h0M316.0 191.9h0M295.8 183.2h0M293.9 184.6h0M314.1 202.8h0M297.1 182.9h0M308.9 185.9h0M315.7 200.1h0M312.8 204.6h0M293.2 185.3h0M298.9 182.8h0M316.6 197.8h0M300.5 183.0h0M303.4 183.8h0M304.2 211.8h0M302.4 183.5h0M306.4 184.9h0M298.1 182.9h0M295.3 183.8h0M303.5 183.9h0M293.0 185.7h0M313.3 189.2h0M304.8 184.4h0M294.9 184.2h0M289.8 189.8h0M316.7 196.9h0M314.2 190.2h0M289.5 190.2h0M316.1 198.7h0M314.7 201.7h0M310.5 187.2h0M316.6 197.1h0M316.0 192.7h0M296.5 183.5h0M291.7 187.3h0M297.0 183.3h0M300.2 183.3h0M309.6 186.7h0M289.4 190.5h0M302.0 183.7h0M314.5 190.7h0M298.0 183.2h0M312.3 204.8h0M308.1 185.9h0M310.2 187.1h0M290.2 189.4h0M297.4 183.4h0M314.9 201.1h0M308.6 208.6h0M298.9 183.3h0M314.0 202.5h0M292.3 186.9h0M290.7 188.9h0M288.9 191.4h0M295.6 184.2h0M299.5 183.4h0M302.7 184.0h0M296.4 183.9h0M289.4 190.7h0M301.3 183.7h0M305.8 210.6h0M292.2 187.1h0M315.7 199.1h0M309.5 207.7h0M302.1 212.7h0M311.1 206.0h0M301.8 212.8h0M300.7 213.3h0M311.1 206.0h0M295.3 184.5h0"/>
<path stroke="#2e6f8e" d="M316.1 197.4h0M307.5 209.2h0M315.8 198.2h0M313.1 189.9h0M295.0 184.9h0M293.1 186.4h0M315.6 198.8h0M310.9 188.1h0M299.5 183.9h0M305.4 210.7h0M298.5 183.9h0M311.9 189.0h0M315.3 199.4h0M298.0 184.0h0M315.9 197.3h0M292.9 186.8h0M298.0 184.0h0M296.8 184.3h0M303.9 211.6h0M314.1 191.3h0M297.4 184.2h0M291.1 188.8h0M307.3 186.2h0M314.1 201.5h0M303.2 184.7h0M299.0 184.1h0M298.9 184.1h0M314.5 200.8h0M295.2 185.1h0M306.6 209.7h0M303.0 212.0h0M298.0 184.2h0M291.5 188.5h0M315.8 195.9h0M313.9 201.8h0M304.5 185.2h0M291.8 188.2h0M295.9 184.8h0M292.2 187.7h0M290.9 189.2h0M311.8 204.8h0M305.8 185.7h0M295.0 185.3h0M295.6 185.1h0M315.3 198.4h0M304.2 185.2h0M299.5 184.3h0M315.6 196.3h0M294.3 186.0h0M315.4 194.5h0M292.8 187.3h0M315.5 194.9h0M314.3 192.2h0M294.7 185.7h0M311.1 188.8h0M309.9 206.7h0M315.1 198.9h0M309.3 187.6h0M315.4 195.0h0M309.1 187.5h0M303.4 185.1h0M290.4 190.2h0M297.8 184.6h0M305.7 210.2h0M307.8 186.9h0M295.0 185.7h0M298.5 184.6h0M311.2 205.2h0M307.6 208.8h0M297.2 184.8h0M312.0 189.9h0M306.8 186.5h0M312.5 190.5h0M307.4 186.8h0M290.8 189.9h0M293.3 187.1h0M314.4 200.1h0M294.7 186.1h0M291.0 189.6h0M315.3 196.6h0M301.4 212.6h0M302.6 185.2h0M306.8 209.3h0M311.0 189.2h0M291.2 189.4h0"/>
<path stroke="#2b758e" d="M314.6 193.6h0M307.7 187.0h0M305.3 186.0h0M310.8 189.1h0M302.1 185.2h0M306.6 186.6h0M289.6 191.6h0M304.2 211.0h0M292.5 188.1h0M310.8 205.4h0M298.3 185.0h0M314.6 199.1h0M298.3 185.0h0M292.9 187.9h0M312.7 191.3h0M289.9 191.3h0M290.3 190.9h0M311.1 205.0h0M295.8 185.9h0M290.8 190.3h0M314.5 198.8h0M300.7 212.8h0M299.6 185.2h0M300.3 185.2h0M292.4 188.6h0M292.5 188.5h0M314.7 195.5h0M305.9 186.6h0M311.0 189.8h0M291.7 189.4h0M311.6 204.1h0M294.4 186.9h0M298.8 185.4h0M303.1 211.5h0M299.8 213.1h0M296.4 185.9h0M314.6 196.6h0M306.0 186.9h0M296.7 185.9h0M310.2 189.4h0M304.7 186.4h0M290.1 191.5h0M295.9 186.3h0M304.4 186.3h0M293.0 188.3h0M297.3 185.8h0M310.3 189.5h0M293.9 187.6h0M306.7 187.3h0M292.6 188.8h0M300.0 185.6h0M303.5 211.2h0M314.0 194.4h0M311.2 190.4h0M296.2 186.3h0M314.4 196.3h0M299.8 185.6h0M308.5 188.4h0M313.9 199.5h0M301.6 185.8h0M312.7 192.3h0M313.3 200.7h0M313.4 193.2h0M314.1 195.1h0M314.2 198.1h0"/>
<path stroke="#297b8e" d="M294.9 187.1h0M314.2 198.0h0M310.7 204.8h0M295.9 186.6h0M304.3 186.6h0M310.5 205.1h0M306.2 187.3h0M309.7 189.4h0M301.4 186.0h0M299.4 185.9h0M288.8 193.7h0M312.8 192.8h0M289.5 192.7h0M305.1 187.0h0M294.1 187.9h0M310.7 190.4h0M296.2 186.6h0M297.4 186.3h0M308.7 206.9h0M311.3 203.8h0M291.4 190.4h0M313.3 200.1h0M312.5 192.5h0M289.4 192.9h0M313.3 194.0h0M292.5 189.3h0M309.6 205.9h0M302.3 211.6h0M311.0 204.1h0M298.5 213.3h0M294.2 188.0h0M305.2 209.8h0M313.1 193.8h0M292.4 189.6h0M313.8 196.7h0M299.1 213.1h0M293.3 188.8h0M288.4 194.6h0M299.9 186.3h0M290.9 191.2h0M311.2 191.3h0M299.2 186.3h0M306.0 209.1h0M305.2 187.4h0M312.1 202.1h0M300.2 186.4h0M308.1 207.3h0M313.6 197.6h0M304.6 210.1h0M303.6 210.7h0M293.6 188.7h0M300.2 212.5h0M296.7 187.0h0M312.8 193.9h0M295.0 187.8h0M297.7 186.7h0M292.7 189.6h0M312.5 193.4h0M288.6 194.5h0M313.5 197.4h0M299.8 212.7h0M297.4 186.8h0M312.5 201.0h0M303.6 187.1h0M309.8 205.3h0M309.3 189.9h0M312.3 193.2h0M305.5 187.8h0"/>
<path stroke="#26828e" d="M306.3 208.7h0M307.6 207.6h0M300.5 186.7h0M310.1 190.7h0M308.3 189.3h0M306.7 188.4h0M290.1 192.5h0M313.0 199.3h0M313.2 198.8h0M303.2 187.1h0M311.0 191.7h0M302.3 186.9h0M304.5 187.5h0M302.5 187.0h0M313.3 197.2h0M312.6 200.4h0M291.8 190.7h0M290.4 192.2h0M289.1 193.9h0M307.8 207.3h0M310.8 203.7h0M313.1 195.7h0M292.1 190.4h0M302.8 211.0h0M297.5 213.5h0M298.9 186.9h0M294.1 188.8h0M291.3 191.3h0M295.5 187.9h0M298.2 213.2h0M313.0 197.5h0M313.0 196.6h0M297.3 213.4h0M311.1 202.9h0M312.8 195.7h0M312.1 193.9h0M311.3 192.7h0M306.7 208.1h0M295.2 188.3h0M312.9 196.6h0M295.6 188.2h0M307.5 189.4h0M301.7 187.3h0M312.8 198.6h0M293.6 189.4h0M300.6 212.0h0M299.6 212.5h0M298.7 187.3h0M298.0 187.5h0M298.8 212.8h0M288.4 195.7h0M312.7 196.4h0M312.7 197.1h0M307.2 189.4h0M305.3 188.4h0M312.0 200.6h0M292.7 190.4h0M304.2 188.1h0M293.4 189.8h0"/>
<path stroke="#24878e" d="M311.6 201.4h0M288.8 195.1h0M299.6 187.4h0M312.1 194.9h0M297.0 187.9h0M312.5 198.6h0M312.5 198.1h0M307.2 207.4h0M294.8 189.0h0M303.5 188.0h0M311.6 194.0h0M296.6 213.5h0M312.1 195.0h0M293.3 190.0h0M303.0 210.6h0M307.0 189.5h0M309.5 191.4h0M289.4 194.4h0M312.0 200.0h0M310.9 193.1h0M303.9 188.2h0M312.2 199.1h0M303.4 210.2h0M292.1 191.2h0M308.6 190.7h0M306.9 207.5h0M301.6 187.8h0M309.9 204.1h0M292.0 191.4h0M297.9 187.9h0M312.1 195.8h0M289.6 194.2h0M295.1 189.0h0M297.4 188.0h0M305.3 188.8h0M309.2 191.3h0M301.0 211.6h0M307.5 190.0h0M307.2 189.8h0M310.2 192.5h0M311.1 193.8h0M312.2 198.5h0M307.7 190.2h0M290.6 193.0h0M298.3 188.0h0M312.1 196.5h0M302.1 188.0h0M303.4 188.3h0M294.1 189.8h0M295.0 189.2h0M306.5 207.7h0M310.1 192.5h0M308.3 190.8h0M291.6 192.0h0M294.8 189.3h0M304.6 209.3h0M305.7 208.4h0M305.3 189.1h0M296.0 213.5h0M299.3 188.0h0M311.9 196.5h0M309.9 203.6h0M310.9 193.9h0M308.8 191.4h0M311.6 195.6h0M299.9 188.1h0M311.9 197.9h0M311.8 198.9h0M306.8 190.0h0M296.3 188.8h0M303.8 209.7h0M311.9 197.0h0M311.9 198.1h0M292.9 191.0h0M290.5 193.5h0M295.6 213.5h0M299.5 188.1h0"/>
<path stroke="#228d8d" d="M288.9 213.6h0M296.6 188.7h0M309.3 192.1h0M289.4 194.9h0M309.7 192.6h0M302.9 188.5h0M311.0 194.6h0M291.5 192.4h0M311.6 196.3h0M293.9 190.3h0M293.4 190.7h0M308.1 191.1h0M306.1 189.8h0M294.9 189.7h0M304.0 189.0h0M305.9 189.8h0M302.3 188.5h0M301.6 188.4h0M289.1 213.5h0M292.4 191.6h0M304.1 189.0h0M310.2 202.6h0M297.7 212.8h0M307.1 206.8h0M307.7 191.0h0M294.8 213.6h0M299.2 212.1h0M303.4 209.9h0M292.8 191.3h0M307.7 191.0h0M308.4 191.6h0M311.1 195.5h0M288.5 196.7h0M297.2 212.9h0M308.6 191.9h0M308.8 204.6h0M297.6 188.8h0M309.6 193.0h0M290.4 194.1h0M307.1 190.8h0M311.2 199.7h0M307.7 206.0h0M297.3 188.9h0M289.6 213.5h0M296.1 213.2h0M304.8 189.6h0M301.7 188.7h0M311.0 200.2h0M310.9 195.5h0M299.7 211.8h0M295.1 189.9h0M291.4 192.9h0M311.0 196.2h0M296.5 189.4h0M309.7 202.9h0M304.7 208.7h0M306.2 190.4h0M308.2 205.2h0M300.0 188.8h0M299.2 188.8h0M310.2 194.4h0M292.3 192.2h0M295.0 190.2h0"/>
<path stroke="#20938c" d="M298.3 189.0h0M297.2 189.2h0M301.7 210.7h0M299.0 188.9h0M294.4 190.6h0M310.8 196.0h0M293.8 191.0h0M311.0 198.1h0M311.0 197.3h0M309.0 193.0h0M296.2 189.7h0M307.2 191.3h0M310.0 202.0h0M293.5 191.4h0M309.7 194.0h0M301.8 189.1h0M309.7 194.1h0M300.1 189.0h0M291.3 193.4h0M300.8 211.1h0M310.1 194.9h0M307.2 206.1h0M290.2 194.7h0M291.0 213.5h0M304.3 189.9h0M296.9 189.6h0M300.9 211.0h0M290.8 213.5h0M310.8 197.6h0M306.4 206.9h0M291.0 193.9h0M291.3 213.5h0M309.4 193.9h0M292.6 213.5h0M305.1 190.3h0M310.0 195.0h0M291.9 213.5h0M308.9 193.3h0M306.8 191.4h0M303.3 209.5h0M298.6 189.3h0M289.5 195.9h0M298.2 212.2h0M303.8 189.9h0M310.5 199.8h0M305.5 207.6h0M294.9 213.2h0M301.9 210.3h0M293.5 191.6h0M293.6 191.6h0M301.3 189.4h0M304.1 208.7h0M289.0 196.8h0M290.0 195.4h0M302.1 189.5h0M308.8 193.5h0M302.6 189.7h0M306.5 191.4h0M310.5 198.7h0M301.9 189.5h0M295.4 190.6h0M292.7 192.5h0M305.3 190.8h0M289.4 196.3h0M307.1 205.8h0M292.4 192.8h0"/>
<path stroke="#1f998a" d="M299.5 211.5h0M289.6 213.0h0M310.1 200.5h0M310.1 196.2h0M309.1 194.2h0M299.6 189.5h0M310.4 198.5h0M309.0 203.1h0M309.5 202.1h0M301.1 189.6h0M304.5 190.5h0M291.7 213.3h0M308.4 204.0h0M309.4 202.3h0M290.3 213.2h0M304.1 190.3h0M289.3 196.6h0M299.7 189.6h0M306.8 192.0h0M307.4 192.4h0M310.2 199.3h0M309.5 201.8h0M296.4 212.6h0M294.0 213.1h0M309.8 195.8h0M296.1 190.5h0M293.6 213.2h0M293.3 213.2h0M309.8 200.9h0M305.0 207.7h0M304.9 190.9h0M297.6 190.1h0M289.1 197.1h0M292.2 193.2h0M294.8 191.2h0M306.3 206.4h0M292.9 213.2h0M298.9 189.9h0M295.4 212.8h0M297.7 212.1h0M309.9 199.9h0M289.1 212.6h0M307.5 204.9h0M305.7 191.5h0M304.0 190.6h0M296.9 190.4h0M305.6 207.1h0M309.8 200.1h0M301.6 190.0h0M295.7 212.7h0M300.5 189.9h0M310.0 198.3h0M304.2 208.3h0M305.8 206.8h0M304.7 191.1h0M305.4 207.1h0M293.0 192.8h0M298.8 211.5h0M306.7 192.4h0M291.1 194.7h0M308.6 203.0h0M299.3 190.1h0M309.1 201.9h0M302.4 190.3h0M291.4 213.0h0M308.1 203.8h0M306.7 205.7h0M308.8 202.5h0"/>
<path stroke="#1fa088" d="M306.0 192.0h0M295.1 191.4h0M292.1 213.0h0M296.7 190.7h0M300.1 190.1h0M288.5 212.0h0M302.7 190.5h0M289.9 196.4h0M293.6 192.5h0M306.0 192.1h0M296.5 190.8h0M309.3 196.4h0M309.1 196.0h0M309.1 201.5h0M302.6 190.6h0M290.9 195.1h0M297.6 190.6h0M294.8 212.7h0M308.4 194.6h0M309.3 196.7h0M305.2 191.7h0M290.2 212.7h0M303.3 208.7h0M307.5 204.4h0M302.4 209.4h0M307.0 193.1h0M309.5 198.8h0M303.3 190.9h0M303.8 208.3h0M304.5 191.4h0M306.5 192.7h0M307.8 194.0h0M306.5 192.8h0M292.8 193.3h0M294.2 212.7h0M299.2 211.1h0M297.2 190.8h0M289.0 198.0h0M308.6 195.5h0M290.4 195.9h0M291.7 194.4h0M290.6 212.7h0M295.0 191.8h0M292.2 212.8h0M308.4 202.6h0M292.4 193.8h0M308.5 195.3h0M307.9 203.5h0M309.1 200.6h0M309.2 200.3h0M306.7 205.3h0M301.1 210.1h0M308.9 201.4h0M309.3 198.0h0M304.6 191.7h0M295.3 191.7h0M295.9 191.4h0M306.7 193.2h0M298.2 190.8h0M305.1 206.9h0"/>
<path stroke="#21a585" d="M301.6 190.8h0M302.8 191.1h0M294.4 192.4h0M309.1 198.6h0M303.2 191.3h0M294.6 192.3h0M303.6 191.4h0M307.8 203.4h0M299.4 190.8h0M291.1 195.5h0M291.7 212.6h0M299.8 190.8h0M309.0 199.2h0M300.7 210.1h0M305.0 192.3h0M289.9 212.2h0M308.9 200.0h0M292.1 194.4h0M305.6 192.7h0M308.5 201.6h0M308.9 198.0h0M289.5 212.0h0M290.0 197.0h0M306.1 193.1h0M290.1 196.9h0M293.3 193.4h0M296.0 212.1h0M292.6 194.0h0M308.8 200.0h0M304.0 191.9h0M293.7 212.5h0M290.0 212.2h0M297.6 191.2h0M293.1 193.6h0M293.3 212.5h0M299.7 210.6h0M298.9 211.0h0M293.9 193.0h0M293.5 193.3h0M307.3 194.5h0M291.3 212.5h0M297.5 191.3h0M290.5 196.5h0M304.5 192.2h0M301.7 209.4h0M306.7 193.9h0M307.6 195.1h0M307.0 204.2h0M292.7 212.5h0M308.8 199.1h0M295.8 192.0h0M302.4 191.4h0M307.1 204.0h0M287.9 201.1h0M293.0 212.5h0M301.1 209.7h0M303.2 191.7h0M301.9 191.4h0M291.9 195.0h0M308.0 202.0h0M291.0 196.0h0M298.6 211.0h0M289.4 198.3h0M304.1 192.2h0M298.1 191.4h0M307.8 202.6h0M304.6 206.9h0M304.4 207.2h0M296.9 211.6h0M296.3 191.9h0"/>
<path stroke="#25ab82" d="M306.4 193.9h0M307.7 195.8h0M306.7 194.3h0M296.7 191.8h0M295.1 212.1h0M297.1 211.5h0M289.1 198.9h0M295.7 192.2h0M289.2 211.5h0M288.9 199.3h0M295.4 192.4h0M308.2 201.0h0M303.3 208.0h0M289.4 211.6h0M299.3 210.6h0M305.1 206.3h0M291.3 195.8h0M300.7 191.4h0M308.4 199.1h0M292.3 194.8h0M301.5 191.6h0M289.9 197.7h0M295.6 211.9h0M308.3 198.1h0M302.6 208.5h0M294.2 212.2h0M300.5 191.5h0M295.0 212.1h0M307.2 203.3h0M306.1 205.0h0M308.3 198.8h0M297.4 191.8h0M302.8 192.0h0M290.9 196.4h0M289.5 211.5h0M308.1 200.6h0M308.2 200.1h0M294.7 193.0h0M300.0 210.1h0M305.7 205.4h0M289.6 198.4h0M307.6 202.2h0M307.5 196.1h0M290.4 197.2h0M299.6 191.6h0M293.7 212.1h0M291.9 195.4h0M290.1 211.7h0M294.2 193.4h0M296.2 211.6h0M301.5 191.8h0M306.9 195.3h0M307.3 196.0h0M296.1 192.4h0M290.8 196.7h0M299.2 210.4h0M306.8 203.7h0M291.4 196.1h0M298.1 191.8h0M307.6 196.7h0M306.0 204.8h0M293.2 194.3h0M293.9 193.7h0M303.1 192.4h0M291.7 212.0h0M297.9 192.0h0M301.0 209.4h0M293.4 212.1h0M307.1 202.8h0M307.7 197.5h0M302.1 208.6h0"/>
<path stroke="#2cb17e" d="M295.4 193.0h0M290.6 197.3h0M299.1 191.9h0M300.0 209.9h0M304.7 193.5h0M303.8 207.2h0M292.4 212.0h0M292.9 194.8h0M292.1 212.0h0M304.8 193.6h0M291.9 195.7h0M307.7 198.0h0M298.1 210.8h0M294.6 211.8h0M304.3 193.3h0M302.5 192.5h0M292.5 195.2h0M301.3 192.2h0M307.3 196.9h0M289.0 200.2h0M294.8 193.4h0M301.6 192.3h0M303.9 206.9h0M307.6 200.4h0M306.2 204.0h0M307.6 198.0h0M306.5 195.6h0M307.0 202.4h0M288.9 210.5h0M305.7 194.6h0M302.9 207.8h0M291.1 196.8h0M289.3 199.7h0M307.6 200.0h0M304.3 193.6h0M295.1 193.4h0M304.6 206.1h0M300.2 192.2h0M304.1 206.5h0M306.5 203.4h0M303.9 193.4h0M292.8 211.8h0M293.1 194.9h0M290.4 197.9h0M305.1 205.4h0M292.7 195.3h0M306.1 203.9h0M306.1 195.3h0M297.0 211.0h0M295.1 211.5h0M294.1 211.7h0M292.5 195.5h0M304.6 194.0h0M290.4 211.3h0M296.1 211.3h0M300.9 192.5h0M291.5 211.6h0M306.1 195.5h0M306.6 196.4h0M289.3 210.6h0M307.1 197.6h0M306.8 196.8h0"/>
<path stroke="#34b679" d="M299.0 192.4h0M293.4 211.7h0M302.6 193.0h0M300.5 209.3h0M288.8 201.2h0M288.4 209.4h0M291.6 211.6h0M291.8 196.5h0M306.6 202.5h0M289.8 199.2h0M301.8 208.4h0M301.5 208.6h0M305.9 195.6h0M306.9 197.3h0M295.4 193.6h0M306.0 203.7h0M302.1 192.9h0M300.7 192.6h0M295.8 211.2h0M301.5 208.5h0M289.0 201.0h0M297.0 193.0h0M306.5 202.6h0M301.8 192.9h0M289.6 199.8h0M292.4 195.9h0M303.3 193.6h0M296.7 211.0h0M305.6 204.2h0M293.8 211.5h0M304.5 205.7h0M307.1 199.2h0M297.9 192.8h0M301.4 192.9h0M307.0 198.6h0M293.3 195.2h0M303.2 207.0h0M290.9 197.8h0M299.6 209.6h0M305.4 204.4h0M294.4 194.4h0M297.5 210.6h0M292.2 196.3h0M300.4 192.8h0M289.5 200.2h0M291.1 197.6h0M296.0 193.6h0M291.6 197.0h0M297.5 193.1h0M290.8 211.1h0M290.3 198.9h0M306.4 196.9h0M296.5 193.4h0M298.7 192.9h0M291.2 197.5h0M298.7 210.0h0M298.5 192.9h0M293.7 195.0h0M299.3 209.7h0M306.6 197.6h0M288.8 201.8h0M306.5 201.8h0M306.6 201.4h0M302.5 193.5h0M299.3 192.9h0M306.4 197.2h0M306.8 198.8h0M288.6 209.0h0M300.8 208.7h0M301.6 193.2h0M292.3 211.4h0M301.0 193.1h0M291.2 211.1h0M299.8 193.0h0M295.0 194.2h0M305.8 196.2h0"/>
<path stroke="#3fbc73" d="M290.5 210.8h0M304.5 194.9h0M294.9 211.2h0M304.0 205.9h0M296.7 193.5h0M303.9 194.4h0M292.1 196.7h0M305.0 195.4h0M289.5 200.6h0M306.5 198.2h0M305.9 203.1h0M293.8 211.3h0M297.2 210.5h0M289.6 200.4h0M306.6 200.8h0M300.2 209.1h0M288.4 203.6h0M305.3 195.8h0M295.1 211.1h0M288.2 206.4h0M294.6 194.6h0M298.7 193.2h0M295.3 194.2h0M296.9 193.6h0M298.2 210.0h0M295.9 210.9h0M294.4 194.8h0M289.4 201.0h0M306.5 200.3h0M304.1 194.9h0M303.5 194.5h0M300.3 208.9h0M304.5 195.3h0M299.2 193.3h0M306.2 198.0h0M302.3 193.9h0M290.9 198.5h0M288.5 207.9h0M305.9 202.5h0M300.1 193.3h0M305.3 203.7h0M288.8 208.7h0M291.9 197.2h0M297.9 193.5h0M306.2 198.2h0M304.8 204.5h0M306.4 199.6h0M291.8 211.0h0M289.5 209.7h0M300.9 208.4h0M293.9 195.3h0M303.5 206.2h0M295.2 194.5h0M294.1 195.2h0M302.6 207.1h0M293.3 211.1h0M298.0 193.5h0M304.4 205.1h0M290.4 199.3h0M290.7 210.6h0M299.6 193.4h0M289.5 209.7h0M292.7 211.1h0M304.6 195.6h0M303.6 194.7h0M290.3 210.3h0M305.5 196.9h0M294.1 211.0h0M304.1 195.2h0M302.3 194.1h0M305.4 196.8h0M297.6 210.1h0"/>
<path stroke="#4ac16d" d="M292.8 196.4h0M305.1 196.4h0M302.2 207.3h0M289.8 200.7h0M306.1 201.2h0M302.6 206.9h0M303.8 205.7h0M290.9 198.7h0M293.7 195.7h0M295.6 194.5h0M299.4 193.6h0M301.7 194.0h0M306.0 198.6h0M289.2 209.0h0M288.5 206.9h0M293.4 211.0h0M306.0 200.9h0M302.5 194.4h0M288.8 203.6h0M306.0 198.9h0M288.8 208.1h0M306.0 199.1h0M298.1 193.8h0M291.3 210.6h0M288.6 204.5h0M298.6 209.5h0M298.1 209.8h0M301.1 194.0h0M297.5 210.0h0M297.5 194.0h0M293.3 196.3h0M300.4 193.9h0M292.6 210.8h0M306.0 199.9h0M289.2 208.7h0M288.9 203.4h0M305.6 197.9h0M289.7 201.3h0M292.0 210.7h0M290.8 199.3h0M303.1 195.0h0M291.2 198.7h0M305.8 199.1h0M305.2 203.1h0M304.3 204.6h0M304.7 196.5h0M295.2 210.6h0M296.3 194.5h0M294.7 195.3h0M304.9 203.5h0M290.4 199.9h0M305.6 201.6h0M303.1 206.1h0M292.3 210.7h0M291.4 198.5h0M289.3 202.5h0M298.6 194.0h0M304.6 204.1h0M290.9 210.2h0M295.8 194.8h0M304.2 196.0h0M292.7 196.9h0M302.9 194.9h0M301.3 194.2h0M304.1 196.0h0M289.9 209.4h0M289.3 202.7h0M294.4 195.6h0M302.1 194.6h0M288.7 205.6h0M299.4 194.0h0M305.3 197.8h0M300.5 208.2h0M288.9 204.4h0M305.1 197.5h0M303.2 205.8h0M305.6 201.4h0M305.4 201.9h0M301.7 207.3h0M304.6 196.8h0"/>
<path stroke="#56c667" d="M297.7 194.2h0M291.2 199.0h0M296.7 210.1h0M291.9 198.1h0M289.0 207.2h0M305.4 198.7h0M295.0 210.5h0M301.3 207.5h0M292.5 197.5h0M305.3 198.2h0M300.7 194.4h0M290.9 199.5h0M303.4 195.7h0M294.4 210.6h0M298.6 209.2h0M297.4 194.4h0M290.5 200.3h0M289.8 201.7h0M304.9 197.6h0M305.1 202.3h0M289.6 208.5h0M290.4 209.5h0M302.6 206.2h0M295.4 195.3h0M302.0 194.9h0M293.7 210.5h0M290.4 200.7h0M298.7 194.4h0M302.7 195.4h0M290.2 209.2h0M295.6 210.3h0M304.5 203.5h0M297.7 209.6h0M303.7 196.2h0M297.4 194.6h0M301.4 194.8h0M299.6 208.6h0M296.1 210.1h0M305.3 200.9h0M289.2 204.4h0M289.4 203.3h0M290.7 209.6h0M291.4 210.0h0M289.3 207.6h0M296.7 194.9h0M293.9 196.4h0M296.5 194.9h0M293.3 197.0h0M290.6 200.4h0M305.3 200.0h0M296.0 195.2h0M295.1 210.3h0M304.0 204.2h0M300.6 194.7h0M305.2 200.4h0M305.2 201.0h0M294.1 196.3h0M292.4 198.0h0M297.8 194.7h0M289.2 206.9h0M304.7 202.7h0M294.8 195.9h0M289.3 207.0h0M292.9 197.4h0M299.4 194.6h0M296.9 209.7h0M295.3 195.6h0M291.6 199.0h0M304.3 203.6h0M289.4 203.9h0M299.4 208.6h0M305.0 201.6h0"/>
<path stroke="#65cb5e" d="M303.9 196.8h0M297.3 209.6h0M292.8 210.3h0M291.8 210.0h0M292.4 198.1h0M292.4 210.2h0M295.9 195.4h0M304.1 197.2h0M289.9 202.5h0M302.7 205.7h0M303.1 205.2h0M290.2 201.5h0M298.1 194.8h0M301.2 207.1h0M303.6 204.5h0M305.0 200.4h0M304.9 200.7h0M303.8 204.1h0M304.2 203.3h0M303.2 196.4h0M297.2 195.1h0M304.6 198.5h0M300.7 207.5h0M290.5 201.3h0M291.3 209.6h0M289.7 207.7h0M289.4 205.9h0M298.9 208.6h0M289.9 202.8h0M290.4 208.9h0M304.2 197.7h0M304.4 198.2h0M301.5 195.4h0M299.6 208.2h0M292.3 210.0h0M289.5 204.5h0M303.8 197.3h0M302.2 206.0h0M299.8 195.0h0M289.4 205.4h0M300.1 207.9h0M290.7 209.0h0M294.7 196.4h0M303.8 203.9h0M296.0 209.8h0M294.7 210.0h0M291.7 199.4h0M301.6 195.6h0M300.9 195.3h0M299.1 208.4h0M293.5 197.4h0M295.9 195.8h0M290.7 201.0h0M302.8 196.4h0M294.9 210.0h0M302.1 195.9h0M289.9 203.3h0M293.9 210.0h0M298.8 195.1h0M303.7 197.5h0M304.3 198.8h0M300.2 195.3h0M291.5 199.9h0"/>
<path stroke="#73d056" d="M300.7 207.2h0M291.0 209.0h0M289.9 203.7h0M304.3 199.2h0M290.1 207.9h0M295.6 209.7h0M304.2 202.3h0M297.8 195.3h0M291.9 209.5h0M301.2 195.7h0M295.4 196.2h0M301.3 206.7h0M297.8 208.9h0M291.3 200.3h0M302.2 196.3h0M297.1 209.2h0M302.6 196.6h0M289.8 204.2h0M290.8 201.3h0M303.1 204.5h0M298.2 195.4h0M289.8 206.3h0M293.3 209.8h0M289.9 207.0h0M302.7 205.0h0M290.0 207.1h0M290.8 208.6h0M294.5 197.0h0M304.0 198.8h0M301.8 196.3h0M302.2 205.6h0M290.5 208.1h0M302.8 197.0h0M303.2 204.1h0M290.4 202.4h0M301.7 206.1h0M300.2 195.7h0M304.1 201.8h0M296.3 196.0h0M295.2 209.6h0M296.5 195.9h0M296.5 209.3h0M304.2 200.4h0M302.1 196.6h0M303.7 203.1h0M298.3 208.5h0M300.6 195.9h0M299.6 207.7h0M304.1 201.5h0M290.0 206.8h0M289.9 205.2h0M289.9 205.7h0M292.9 198.5h0M301.2 196.2h0M298.9 208.1h0M290.4 202.8h0M298.0 195.7h0M304.0 200.5h0M294.0 209.6h0M299.9 195.8h0M292.5 209.4h0M295.0 196.8h0M291.9 199.9h0M294.9 197.0h0M293.8 197.8h0"/>
<path stroke="#84d44b" d="M294.5 209.5h0M303.4 203.1h0M290.8 208.1h0M298.9 195.8h0M290.1 205.8h0M302.8 197.6h0M293.4 198.2h0M300.1 207.2h0M294.4 197.4h0M290.4 203.1h0M291.4 208.7h0M292.0 209.1h0M291.4 200.9h0M291.0 201.7h0M292.4 209.2h0M290.3 207.0h0M302.1 205.3h0M297.7 196.0h0M303.9 200.7h0M303.0 198.0h0M291.1 201.5h0M301.5 196.7h0M290.6 207.4h0M291.3 208.4h0M300.3 196.2h0M292.9 199.0h0M293.2 209.3h0M300.8 196.4h0M303.1 198.5h0M303.5 199.4h0M292.1 200.0h0M303.0 203.5h0M295.9 209.1h0M303.5 202.0h0M291.9 200.4h0M298.0 196.1h0M303.6 200.4h0M290.9 207.7h0M293.2 198.8h0M293.7 209.3h0M303.6 201.4h0M298.0 196.2h0M303.5 201.7h0M292.0 208.8h0M295.6 197.0h0M303.2 199.0h0M300.5 206.6h0M290.9 202.5h0M295.0 197.4h0M290.5 204.3h0M296.8 208.7h0M297.0 196.5h0M292.7 199.5h0M290.5 204.1h0M290.4 204.8h0M290.5 206.2h0M297.3 208.5h0M299.8 207.0h0M290.5 205.1h0M300.6 196.7h0M292.1 208.6h0M302.2 197.8h0M302.2 204.5h0"/>
<path stroke="#93d741" d="M302.6 198.3h0M300.1 206.8h0M303.1 199.2h0M291.9 200.8h0M299.6 196.5h0M290.8 203.3h0M295.4 197.3h0M301.7 197.5h0M295.2 209.0h0M303.0 202.7h0M294.0 198.3h0M302.9 199.2h0M300.2 196.8h0M302.5 203.7h0M301.6 205.1h0M294.0 198.5h0M291.4 201.9h0M296.5 196.9h0M292.5 200.1h0M298.6 207.7h0M303.1 200.1h0M294.9 197.8h0M299.8 196.7h0M303.0 199.8h0M301.3 197.4h0M290.8 204.0h0M296.5 197.0h0M301.5 197.5h0M294.5 198.1h0M298.3 207.8h0M291.4 207.7h0M299.3 207.1h0M293.0 208.7h0M291.0 206.7h0M292.9 199.7h0M303.0 201.4h0M297.5 196.8h0M302.1 204.1h0M297.7 208.0h0M293.4 199.2h0M298.6 196.8h0M291.9 208.0h0M291.3 202.7h0M295.7 197.5h0M291.9 201.4h0M297.8 196.9h0M290.9 206.1h0M301.2 205.2h0M292.9 208.5h0M298.2 196.9h0M300.2 197.1h0M290.9 205.8h0M291.5 207.4h0M302.9 200.8h0M301.5 198.0h0M295.0 208.7h0M291.5 202.5h0M302.1 203.7h0M290.9 205.4h0M296.1 197.5h0M292.7 200.3h0M302.2 198.9h0"/>
<path stroke="#a2da37" d="M291.9 201.6h0M291.0 204.7h0M299.0 207.1h0M297.5 207.9h0M301.7 198.3h0M295.6 208.5h0M302.6 200.1h0M292.4 200.8h0M295.4 197.9h0M297.3 197.2h0M302.5 199.8h0M302.6 202.1h0M301.4 204.8h0M301.7 204.3h0M299.7 206.5h0M296.8 197.3h0M300.7 205.5h0M301.9 198.8h0M291.4 203.2h0M294.5 208.6h0M293.6 199.4h0M292.5 208.1h0M292.0 207.7h0M295.9 208.4h0M302.5 202.4h0M293.9 208.5h0M296.1 208.3h0M298.4 197.1h0M302.5 202.0h0M299.3 206.7h0M291.5 206.8h0M293.1 200.1h0M302.2 203.0h0M300.6 197.8h0M302.5 200.7h0M296.5 208.1h0M292.8 200.6h0M291.4 203.6h0M302.0 199.3h0M291.2 205.0h0M297.9 197.3h0M299.4 197.4h0M300.8 205.2h0M295.8 198.0h0M292.9 208.1h0M291.4 206.1h0M293.5 199.8h0M294.4 199.0h0M293.4 208.2h0M301.0 198.3h0M291.9 207.1h0M291.9 202.3h0M292.4 207.6h0M299.9 197.7h0M296.0 198.0h0M302.1 202.7h0M293.8 208.3h0M301.4 198.8h0M294.9 208.3h0M298.6 197.5h0M292.5 201.4h0M299.5 206.3h0M291.4 204.8h0M300.2 198.0h0M293.7 199.8h0M291.4 205.5h0M291.9 206.9h0M291.5 204.2h0M302.1 200.5h0M301.6 199.2h0M291.6 206.2h0M297.2 207.6h0M295.5 198.4h0"/>
<path stroke="#b5de2b" d="M291.9 202.9h0M296.0 198.2h0M294.2 208.2h0M298.1 207.2h0M296.9 197.9h0M301.6 203.5h0M302.0 201.3h0M302.0 201.7h0M296.8 207.7h0M292.3 207.1h0M301.7 203.1h0M298.4 206.8h0M299.1 197.9h0M293.1 200.9h0M292.5 201.7h0M301.1 204.1h0M300.1 205.5h0M295.1 208.0h0M300.7 198.7h0M297.6 197.9h0M301.7 200.0h0M300.1 198.3h0M299.9 205.6h0M293.1 207.6h0M294.4 199.4h0M296.3 207.8h0M300.3 205.2h0M292.0 203.3h0M292.2 202.7h0M298.4 197.9h0M293.9 200.0h0M298.7 198.0h0M297.8 207.1h0M300.7 204.5h0M291.8 204.5h0M291.9 203.9h0M292.1 206.3h0M292.4 206.9h0M296.7 198.3h0M292.6 207.1h0M297.1 198.2h0M301.7 201.5h0M292.9 201.5h0M301.2 203.6h0M300.5 204.6h0M299.2 206.0h0M294.3 199.7h0M296.4 198.4h0M301.3 199.8h0M299.8 198.4h0M292.0 205.9h0M292.5 202.3h0M301.6 202.2h0M295.5 198.9h0M301.2 203.3h0M300.4 198.9h0M291.9 204.9h0M300.0 205.2h0M298.5 206.5h0M301.6 201.0h0M291.9 205.0h0M301.6 201.8h0M295.7 198.9h0M294.8 199.5h0M301.3 200.3h0"/>
<path stroke="#c5e021" d="M297.2 207.1h0M293.2 201.3h0M293.9 207.5h0M300.8 203.9h0M295.9 207.5h0M292.1 204.3h0M294.1 207.5h0M295.2 207.6h0M292.7 206.7h0M298.1 198.4h0M299.7 198.8h0M298.7 198.5h0M293.1 207.0h0M294.7 207.5h0M292.2 205.3h0M296.1 198.9h0M292.8 202.3h0M295.9 199.0h0M301.3 201.3h0M300.0 204.8h0M298.6 206.2h0M301.1 200.6h0M301.2 202.4h0M293.3 201.6h0M300.6 199.7h0M292.4 205.6h0M293.7 201.0h0M294.1 207.3h0M294.7 200.0h0M292.5 203.4h0M292.3 204.6h0M293.7 207.1h0M299.2 198.9h0M296.7 207.0h0M300.7 200.1h0M294.3 200.4h0M297.0 198.8h0M298.0 198.7h0M292.5 203.9h0M301.0 201.7h0M299.9 199.4h0M299.0 205.6h0M298.6 198.8h0M296.4 207.1h0M293.4 206.8h0M297.0 198.9h0M300.7 202.9h0M300.1 204.2h0M297.5 206.6h0M300.3 199.9h0M299.8 204.6h0M292.8 206.0h0M294.9 207.2h0M293.0 202.6h0M297.7 198.9h0M300.6 203.0h0M300.8 201.1h0M295.0 200.0h0M296.5 199.2h0M292.7 205.5h0M298.2 206.0h0"/>
<path stroke="#d8e219" d="M295.4 199.8h0M300.7 202.3h0M300.2 203.9h0M295.5 207.1h0M293.1 202.6h0M299.0 199.3h0M293.1 206.1h0M297.9 206.1h0M300.7 201.6h0M300.5 200.9h0M295.3 207.0h0M300.4 203.2h0M299.1 205.2h0M293.1 205.9h0M293.0 203.1h0M292.8 204.1h0M297.1 206.5h0M298.6 205.6h0M300.1 200.3h0M296.5 199.4h0M293.9 201.4h0M293.9 206.6h0M292.9 203.6h0M292.9 205.2h0M299.5 199.8h0M300.5 202.3h0M298.4 199.4h0M294.2 206.7h0M296.8 206.5h0M299.2 204.8h0M293.0 205.0h0M293.5 202.4h0M297.2 199.5h0M295.9 199.9h0M295.0 206.7h0M295.4 200.3h0M294.3 201.3h0M299.6 200.2h0M297.7 199.5h0M293.7 202.3h0M297.3 206.1h0M296.4 206.5h0M296.1 199.9h0M294.6 206.6h0M300.0 201.0h0M298.5 205.3h0M300.2 202.6h0M299.6 204.1h0M300.0 201.1h0M295.5 206.6h0M298.2 205.5h0M294.9 200.9h0M293.9 206.2h0M293.2 204.5h0M293.2 204.4h0M293.4 203.4h0M293.3 205.1h0M298.9 200.0h0M300.1 201.8h0M299.5 204.0h0M298.0 205.5h0M296.6 206.2h0M300.0 202.4h0M297.6 205.7h0M293.4 203.7h0M296.6 200.0h0M299.1 200.3h0M294.3 201.7h0"/>
<path stroke="#e7e419" d="M298.7 200.1h0M295.7 200.5h0M298.2 200.0h0M297.3 199.9h0M296.2 206.3h0M299.7 203.0h0M299.5 203.6h0M294.9 201.2h0M299.6 201.0h0M297.9 200.0h0M295.3 200.9h0M294.4 206.0h0M299.5 203.4h0M295.3 206.2h0M294.0 205.6h0M299.5 201.3h0M299.6 201.6h0M295.6 206.2h0M295.9 200.6h0M294.7 206.1h0M294.0 202.7h0M299.2 200.9h0M297.2 205.7h0M298.6 204.5h0M296.3 200.5h0M293.8 205.0h0M293.8 203.3h0M298.2 200.3h0M294.3 202.3h0M294.6 201.9h0M293.8 204.8h0M297.3 200.3h0M294.4 205.7h0M296.2 200.6h0M299.3 201.3h0M298.0 200.4h0M298.2 204.8h0M293.9 203.9h0M299.3 201.7h0M295.6 205.9h0M298.8 200.9h0M294.8 205.7h0M296.9 205.6h0M299.1 203.3h0M299.0 203.5h0M295.0 201.7h0M294.0 204.5h0M294.4 205.3h0M298.6 204.1h0M295.5 205.8h0M299.1 202.9h0M298.1 200.7h0M295.8 201.1h0M294.1 204.4h0M297.6 205.0h0M299.1 202.1h0M295.5 201.5h0M294.2 204.6h0M296.0 205.7h0M297.3 205.1h0M294.2 203.5h0M297.7 204.8h0M294.8 202.3h0M297.3 200.8h0M294.5 202.9h0M296.7 201.0h0"/>
<path stroke="#f6e620" d="M298.5 201.4h0M297.7 200.9h0M298.2 204.2h0M294.8 205.1h0M296.4 201.2h0M294.4 203.9h0M298.7 202.0h0M298.5 203.4h0M296.9 205.1h0M294.7 204.9h0M298.3 201.4h0M298.7 202.3h0M296.2 205.3h0M295.4 205.2h0M294.8 203.0h0M295.8 201.8h0M298.5 202.9h0M298.2 203.7h0M298.0 201.7h0M297.2 204.6h0M295.6 205.0h0M297.6 201.5h0M298.3 203.1h0M296.9 201.5h0M297.4 201.5h0M295.5 202.3h0M295.5 204.8h0M297.9 201.8h0M296.7 201.7h0M295.8 202.2h0M295.0 203.5h0M295.0 204.1h0M296.8 204.6h0M296.3 201.9h0M295.5 202.6h0M298.0 202.3h0M295.2 204.3h0M295.1 203.8h0M297.1 201.8h0M295.5 202.7h0M297.9 202.4h0M296.1 204.6h0M295.2 203.5h0M295.8 204.5h0M297.7 203.5h0M297.3 204.0h0M297.3 202.0h0M296.5 204.4h0M296.2 202.3h0M297.6 203.2h0M297.2 203.8h0M296.7 202.2h0M295.8 204.2h0M297.5 202.8h0M296.3 204.1h0M295.7 203.5h0M295.9 203.6h0M296.8 203.7h0M297.2 203.0h0M296.8 202.7h0M296.3 202.8h0M297.1 203.1h0M296.2 203.7h0M296.8 203.2h0M296.4 203.4h0"/>
</g>
<g clip-path="url(#ctr)">
<path d="M287.30 206.10 L368.10 127.14 L529.70 -46.57 L529.70 0.81 L368.10 142.94 L287.30 221.90Z" fill="#808080" fill-opacity="0.16" stroke="#b8b8b8" stroke-width="0.8"/>
<path d="M287.30 214.00L489.30 16.60" stroke="#555" stroke-width="0.8" stroke-dasharray="3.2 2.4"/>
<path d="M287.30 200.97L489.30 123.59" stroke="#ff0000" stroke-width="1.0"/>
</g>
<path clip-path="url(#cbl)" d="M36.30 357.20V356.69H41.34V356.65H46.38V356.63H51.42V356.49H56.46V356.31H61.50V356.00H66.54V355.70H71.58V355.39H76.62V354.50H81.66V354.36H86.70V354.20H91.74V354.02H96.78V351.81H101.82V351.31H106.86V347.41H111.90V343.99H116.94V342.50H121.98V336.73H127.02V328.52H132.06V317.80H137.10V313.38H142.14V320.31H147.18V322.72H152.22V326.89H157.26V331.47H162.30V336.43H167.34V339.30H172.38V343.31H177.42V346.06H182.46V348.91H187.50V351.18H192.54V352.43H197.58V353.16H202.62V353.76H207.66V354.10H212.70V355.26H217.74V355.86H222.78V355.43H227.82V356.11H232.86V356.90H237.90V357.20" fill="none" stroke="#000000" stroke-opacity="0.7" stroke-width="0.9" stroke-linejoin="miter"/>
<path clip-path="url(#cbl)" d="M36.30 357.20V357.20H41.34V357.20H46.38V357.20H51.42V357.20H56.46V357.20H61.50V357.20H66.54V357.20H71.58V357.20H76.62V357.20H81.66V357.20H86.70V357.20H91.74V357.20H96.78V357.20H101.82V357.20H106.86V356.85H111.90V355.90H116.94V353.65H121.98V346.39H127.02V330.38H132.06V315.24H137.10V298.59H142.14V305.08H147.18V309.41H152.22V314.90H157.26V321.08H162.30V331.25H167.34V336.48H172.38V342.80H177.42V345.09H182.46V349.50H187.50V353.31H192.54V351.19H197.58V353.09H202.62V354.78H207.66V353.78H212.70V355.38H217.74V355.90H222.78V355.60H227.82V356.21H232.86V356.90H237.90V357.20" fill="none" stroke="#ff0000" stroke-opacity="0.7" stroke-width="0.9" stroke-linejoin="miter"/>
<path clip-path="url(#cbl)" d="M36.30 357.20V357.20H41.34V357.20H46.38V357.20H51.42V357.20H56.46V357.20H61.50V356.77H66.54V356.77H71.58V357.20H76.62V357.20H81.66V356.77H86.70V356.77H91.74V355.90H96.78V352.70H101.82V350.80H106.86V344.31H111.90V334.28H116.94V333.11H121.98V324.59H127.02V324.59H132.06V318.40H137.10V318.27H142.14V326.06H147.18V327.79H152.22V331.68H157.26V335.10H162.30V339.68H167.34V341.72H172.38V343.88H177.42V345.09H182.46V347.12H187.50V348.25H192.54V350.71H197.58V352.83H202.62V352.53H207.66V353.78H212.70V355.38H217.74V355.60H222.78V354.52H227.82V354.52H232.86V356.90H237.90V357.20" fill="none" stroke="#0000ff" stroke-opacity="0.7" stroke-width="0.9" stroke-linejoin="miter"/>
<path clip-path="url(#cbl)" d="M36.30 357.20V353.39H41.34V352.96H46.38V355.38H51.42V353.70H56.46V351.32H61.50V351.32H66.54V347.51H71.58V344.31H76.62V338.82H81.66V342.58H86.70V340.42H91.74V340.42H96.78V332.72H101.82V331.38H106.86V334.02H111.90V334.28H116.94V338.90H121.98V340.76H127.02V333.84H132.06V332.98H137.10V342.10H142.14V344.40H147.18V344.40H152.22V346.82H157.26V347.51H162.30V350.50H167.34V348.51H172.38V351.49H177.42V352.49H182.46V351.49H187.50V352.87H192.54V354.78H197.58V353.31H202.62V355.90H207.66V354.52H212.70V353.78H217.74V356.21H222.78V356.21H227.82V356.90H232.86V356.90H237.90V357.20" fill="none" stroke="#008000" stroke-opacity="0.7" stroke-width="0.9" stroke-linejoin="miter"/>
<path clip-path="url(#cbr)" d="M287.30 357.20V356.68H292.35V356.71H297.40V356.65H302.45V356.76H307.50V356.71H312.55V356.68H317.60V356.51H322.65V354.34H327.70V353.88H332.75V352.94H337.80V351.88H342.85V350.53H347.90V348.94H352.95V347.29H358.00V343.87H363.05V343.65H368.10V336.57H373.15V332.69H378.20V320.09H383.25V309.18H388.30V311.82H393.35V326.04H398.40V338.98H403.45V344.21H408.50V348.03H413.55V350.80H418.60V352.55H423.65V354.04H428.70V354.38H433.75V355.11H438.80V355.55H443.85V355.85H448.90V356.16H453.95V356.74H459.00V356.90H464.05V356.90H469.10V356.96H474.15V356.76H479.20V356.92H484.25V356.89H489.30V357.20" fill="none" stroke="#000000" stroke-opacity="0.7" stroke-width="0.9" stroke-linejoin="miter"/>
<path clip-path="url(#cbr)" d="M287.30 357.20V357.20H292.35V357.20H297.40V357.20H302.45V357.20H307.50V357.20H312.55V357.20H317.60V357.20H322.65V357.20H327.70V357.20H332.75V357.20H337.80V357.20H342.85V357.20H347.90V356.86H352.95V355.84H358.00V353.45H363.05V349.03H368.10V338.98H373.15V332.11H378.20V313.28H383.25V298.30H388.30V301.36H393.35V318.90H398.40V335.07H403.45V341.20H408.50V345.39H413.55V349.51H418.60V351.75H423.65V353.45H428.70V353.80H433.75V354.48H438.80V355.16H443.85V355.50H448.90V355.84H453.95V356.69H459.00V356.86H464.05V356.86H469.10V356.93H474.15V356.69H479.20V356.93H484.25V356.86H489.30V357.20" fill="none" stroke="#ff0000" stroke-opacity="0.7" stroke-width="0.9" stroke-linejoin="miter"/>
<path clip-path="url(#cbr)" d="M287.30 357.20V356.52H292.35V356.52H297.40V356.52H302.45V356.52H307.50V356.52H312.55V356.52H317.60V354.65H322.65V349.03H327.70V347.67H332.75V343.00H337.80V337.45H342.85V328.50H347.90V321.79H352.95V313.96H358.00V307.49H363.05V320.90H368.10V325.88H373.15V338.98H378.20V347.67H383.25V348.35H388.30V349.91H393.35V352.60H398.40V353.90H403.45V355.70H408.50V356.18H413.55V355.50H418.60V355.16H423.65V356.86H428.70V356.86H433.75V357.20H438.80V357.20H443.85V357.20H448.90V357.20H453.95V357.20H459.00V357.20H464.05V357.20H469.10V357.20H474.15V356.86H479.20V356.86H484.25V356.86H489.30V357.20" fill="none" stroke="#0000ff" stroke-opacity="0.7" stroke-width="0.9" stroke-linejoin="miter"/>
<path clip-path="url(#cbr)" d="M287.30 357.20V324.77H292.35V332.88H297.40V316.67H302.45V349.09H307.50V332.88H312.55V324.77H317.60V332.88H322.65V316.67H327.70V349.09H332.75V340.99H337.80V340.99H342.85V349.09H347.90V349.09H352.95V357.20H358.00V324.77H363.05V357.20H368.10V357.20H373.15V357.20H378.20V357.20H383.25V357.20H388.30V357.20H393.35V357.20H398.40V357.20H403.45V357.20H408.50V357.20H413.55V357.20H418.60V357.20H423.65V357.20H428.70V357.20H433.75V357.20H438.80V357.20H443.85V357.20H448.90V357.20H453.95V357.20H459.00V357.20H464.05V357.20H469.10V357.20H474.15V357.20H479.20V357.20H484.25V357.20H489.30V357.20" fill="none" stroke="#008000" stroke-opacity="0.7" stroke-width="0.9" stroke-linejoin="miter"/>
<rect x="36.3" y="16.6" width="201.60" height="197.40" fill="none" stroke="#000" stroke-width="0.62"/>
<rect x="287.3" y="16.6" width="202.00" height="197.40" fill="none" stroke="#000" stroke-width="0.62"/>
<rect x="36.3" y="258.8" width="201.60" height="98.40" fill="none" stroke="#000" stroke-width="0.62"/>
<rect x="287.3" y="258.8" width="202.00" height="98.40" fill="none" stroke="#000" stroke-width="0.62"/>
<path d="M33.90 181.10H36.30" stroke="#000" stroke-width="0.62"/>
<text transform="translate(20.52 184.05) scale(0.8913 1)" x="-0.00 4.57 6.85" y="0" font-size="8.21" xml:space="preserve">0.5</text>
<path d="M33.90 148.20H36.30" stroke="#000" stroke-width="0.62"/>
<text transform="translate(20.52 151.15) scale(0.8913 1)" x="-0.00 4.57 6.85" y="0" font-size="8.21" xml:space="preserve">1.0</text>
<path d="M33.90 115.30H36.30" stroke="#000" stroke-width="0.62"/>
<text transform="translate(20.52 118.25) scale(0.8913 1)" x="-0.00 4.57 6.85" y="0" font-size="8.21" xml:space="preserve">1.5</text>
<path d="M33.90 82.40H36.30" stroke="#000" stroke-width="0.62"/>
<text transform="translate(20.52 85.35) scale(0.8913 1)" x="-0.00 4.57 6.85" y="0" font-size="8.21" xml:space="preserve">2.0</text>
<path d="M33.90 49.50H36.30" stroke="#000" stroke-width="0.62"/>
<text transform="translate(20.52 52.45) scale(0.8913 1)" x="-0.00 4.57 6.85" y="0" font-size="8.21" xml:space="preserve">2.5</text>
<path d="M33.90 16.60H36.30" stroke="#000" stroke-width="0.62"/>
<text transform="translate(20.52 19.55) scale(0.8913 1)" x="-0.00 4.57 6.85" y="0" font-size="8.21" xml:space="preserve">3.0</text>
<path d="M69.90 214.00V216.40" stroke="#000" stroke-width="0.62"/>
<text transform="translate(64.81 224.50) scale(0.8913 1)" x="-0.00 4.57 6.85" y="0" font-size="8.21" xml:space="preserve">0.5</text>
<path d="M103.50 214.00V216.40" stroke="#000" stroke-width="0.62"/>
<text transform="translate(98.41 224.50) scale(0.8913 1)" x="-0.00 4.57 6.85" y="0" font-size="8.21" xml:space="preserve">1.0</text>
<path d="M137.10 214.00V216.40" stroke="#000" stroke-width="0.62"/>
<text transform="translate(132.01 224.50) scale(0.8913 1)" x="-0.00 4.57 6.85" y="0" font-size="8.21" xml:space="preserve">1.5</text>
<path d="M170.70 214.00V216.40" stroke="#000" stroke-width="0.62"/>
<text transform="translate(165.61 224.50) scale(0.8913 1)" x="-0.00 4.57 6.85" y="0" font-size="8.21" xml:space="preserve">2.0</text>
<path d="M204.30 214.00V216.40" stroke="#000" stroke-width="0.62"/>
<text transform="translate(199.21 224.50) scale(0.8913 1)" x="-0.00 4.57 6.85" y="0" font-size="8.21" xml:space="preserve">2.5</text>
<path d="M237.90 214.00V216.40" stroke="#000" stroke-width="0.62"/>
<text transform="translate(232.81 224.50) scale(0.8913 1)" x="-0.00 4.57 6.85" y="0" font-size="8.21" xml:space="preserve">3.0</text>
<path d="M284.90 174.52H287.30" stroke="#000" stroke-width="0.62"/>
<text transform="translate(271.52 177.47) scale(0.8913 1)" x="-0.00 4.57 6.85" y="0" font-size="8.21" xml:space="preserve">0.2</text>
<path d="M284.90 135.04H287.30" stroke="#000" stroke-width="0.62"/>
<text transform="translate(271.52 137.99) scale(0.8913 1)" x="-0.00 4.57 6.85" y="0" font-size="8.21" xml:space="preserve">0.4</text>
<path d="M284.90 95.56H287.30" stroke="#000" stroke-width="0.62"/>
<text transform="translate(271.52 98.51) scale(0.8913 1)" x="-0.00 4.57 6.85" y="0" font-size="8.21" xml:space="preserve">0.6</text>
<path d="M284.90 56.08H287.30" stroke="#000" stroke-width="0.62"/>
<text transform="translate(271.52 59.03) scale(0.8913 1)" x="-0.00 4.57 6.85" y="0" font-size="8.21" xml:space="preserve">0.8</text>
<path d="M284.90 16.60H287.30" stroke="#000" stroke-width="0.62"/>
<text transform="translate(271.52 19.55) scale(0.8913 1)" x="-0.00 4.57 6.85" y="0" font-size="8.21" xml:space="preserve">1.0</text>
<path d="M327.70 214.00V216.40" stroke="#000" stroke-width="0.62"/>
<text transform="translate(322.61 224.50) scale(0.8913 1)" x="-0.00 4.57 6.85" y="0" font-size="8.21" xml:space="preserve">0.2</text>
<path d="M368.10 214.00V216.40" stroke="#000" stroke-width="0.62"/>
<text transform="translate(363.01 224.50) scale(0.8913 1)" x="-0.00 4.57 6.85" y="0" font-size="8.21" xml:space="preserve">0.4</text>
<path d="M408.50 214.00V216.40" stroke="#000" stroke-width="0.62"/>
<text transform="translate(403.41 224.50) scale(0.8913 1)" x="-0.00 4.57 6.85" y="0" font-size="8.21" xml:space="preserve">0.6</text>
<path d="M448.90 214.00V216.40" stroke="#000" stroke-width="0.62"/>
<text transform="translate(443.81 224.50) scale(0.8913 1)" x="-0.00 4.57 6.85" y="0" font-size="8.21" xml:space="preserve">0.8</text>
<path d="M489.30 214.00V216.40" stroke="#000" stroke-width="0.62"/>
<text transform="translate(484.21 224.50) scale(0.8913 1)" x="-0.00 4.57 6.85" y="0" font-size="8.21" xml:space="preserve">1.0</text>
<path d="M33.90 357.20H36.30" stroke="#000" stroke-width="0.62"/>
<text transform="translate(16.45 360.15) scale(0.8913 1)" x="-0.00 4.57 6.85 11.42" y="0" font-size="8.21" xml:space="preserve">0.00</text>
<path d="M33.90 335.57H36.30" stroke="#000" stroke-width="0.62"/>
<text transform="translate(16.45 338.52) scale(0.8913 1)" x="-0.00 4.57 6.85 11.42" y="0" font-size="8.21" xml:space="preserve">0.05</text>
<path d="M33.90 313.95H36.30" stroke="#000" stroke-width="0.62"/>
<text transform="translate(16.45 316.90) scale(0.8913 1)" x="-0.00 4.57 6.85 11.42" y="0" font-size="8.21" xml:space="preserve">0.10</text>
<path d="M33.90 292.32H36.30" stroke="#000" stroke-width="0.62"/>
<text transform="translate(16.45 295.27) scale(0.8913 1)" x="-0.00 4.57 6.85 11.42" y="0" font-size="8.21" xml:space="preserve">0.15</text>
<path d="M33.90 270.69H36.30" stroke="#000" stroke-width="0.62"/>
<text transform="translate(16.45 273.64) scale(0.8913 1)" x="-0.00 4.57 6.85 11.42" y="0" font-size="8.21" xml:space="preserve">0.20</text>
<path d="M56.46 357.20V359.60" stroke="#000" stroke-width="0.62"/>
<text transform="translate(48.69 367.70) scale(0.9583 1)" x="0.40 5.44 9.77 11.81" y="0" font-size="8.21" xml:space="preserve">−0.4</text>
<path d="M96.78 357.20V359.60" stroke="#000" stroke-width="0.62"/>
<text transform="translate(89.01 367.70) scale(0.9583 1)" x="0.40 5.44 9.77 11.81" y="0" font-size="8.21" xml:space="preserve">−0.2</text>
<path d="M137.10 357.20V359.60" stroke="#000" stroke-width="0.62"/>
<text transform="translate(132.01 367.70) scale(0.8913 1)" x="-0.00 4.57 6.85" y="0" font-size="8.21" xml:space="preserve">0.0</text>
<path d="M177.42 357.20V359.60" stroke="#000" stroke-width="0.62"/>
<text transform="translate(172.33 367.70) scale(0.8913 1)" x="-0.00 4.57 6.85" y="0" font-size="8.21" xml:space="preserve">0.2</text>
<path d="M217.74 357.20V359.60" stroke="#000" stroke-width="0.62"/>
<text transform="translate(212.65 367.70) scale(0.8913 1)" x="-0.00 4.57 6.85" y="0" font-size="8.21" xml:space="preserve">0.4</text>
<path d="M284.90 357.20H287.30" stroke="#000" stroke-width="0.62"/>
<text transform="translate(267.45 360.15) scale(0.8913 1)" x="-0.00 4.57 6.85 11.42" y="0" font-size="8.21" xml:space="preserve">0.00</text>
<path d="M284.90 340.18H287.30" stroke="#000" stroke-width="0.62"/>
<text transform="translate(267.45 343.13) scale(0.8913 1)" x="-0.00 4.57 6.85 11.42" y="0" font-size="8.21" xml:space="preserve">0.05</text>
<path d="M284.90 323.15H287.30" stroke="#000" stroke-width="0.62"/>
<text transform="translate(267.45 326.10) scale(0.8913 1)" x="-0.00 4.57 6.85 11.42" y="0" font-size="8.21" xml:space="preserve">0.10</text>
<path d="M284.90 306.13H287.30" stroke="#000" stroke-width="0.62"/>
<text transform="translate(267.45 309.08) scale(0.8913 1)" x="-0.00 4.57 6.85 11.42" y="0" font-size="8.21" xml:space="preserve">0.15</text>
<path d="M284.90 289.10H287.30" stroke="#000" stroke-width="0.62"/>
<text transform="translate(267.45 292.05) scale(0.8913 1)" x="-0.00 4.57 6.85 11.42" y="0" font-size="8.21" xml:space="preserve">0.20</text>
<path d="M284.90 272.08H287.30" stroke="#000" stroke-width="0.62"/>
<text transform="translate(267.45 275.03) scale(0.8913 1)" x="-0.00 4.57 6.85 11.42" y="0" font-size="8.21" xml:space="preserve">0.25</text>
<path d="M307.50 357.20V359.60" stroke="#000" stroke-width="0.62"/>
<text transform="translate(299.73 367.70) scale(0.9583 1)" x="0.40 5.44 9.77 11.81" y="0" font-size="8.21" xml:space="preserve">−0.4</text>
<path d="M347.90 357.20V359.60" stroke="#000" stroke-width="0.62"/>
<text transform="translate(340.13 367.70) scale(0.9583 1)" x="0.40 5.44 9.77 11.81" y="0" font-size="8.21" xml:space="preserve">−0.2</text>
<path d="M388.30 357.20V359.60" stroke="#000" stroke-width="0.62"/>
<text transform="translate(383.21 367.70) scale(0.8913 1)" x="-0.00 4.57 6.85" y="0" font-size="8.21" xml:space="preserve">0.0</text>
<path d="M428.70 357.20V359.60" stroke="#000" stroke-width="0.62"/>
<text transform="translate(423.61 367.70) scale(0.8913 1)" x="-0.00 4.57 6.85" y="0" font-size="8.21" xml:space="preserve">0.2</text>
<path d="M469.10 357.20V359.60" stroke="#000" stroke-width="0.62"/>
<text transform="translate(464.01 367.70) scale(0.8913 1)" x="-0.00 4.57 6.85" y="0" font-size="8.21" xml:space="preserve">0.4</text>
<text transform="translate(66.00 12.60) scale(1.0586 1)" x="-0.57 6.25 12.06 15.80 19.15 24.75 27.06 33.08 36.41 38.73 44.39 50.17 53.06 55.95 61.44 70.38 73.41 76.92 82.18 87.26 89.67 95.44 101.11 106.90 109.32 112.37 115.52 118.05 120.81 123.94 129.77" y="0" font-size="10.39" xml:space="preserve">Correlation, 1% residual filter</text>
<text transform="translate(317.60 12.60) scale(1.0556 1)" x="-0.57 6.25 12.06 15.80 19.15 24.75 27.06 33.08 36.41 38.73 44.39 50.17 53.06 55.95 61.44 70.38 73.41 76.92 82.18 87.26 89.67 95.44 101.11 106.90 109.32 112.37 115.52 118.05 120.81 123.94 129.77" y="0" font-size="10.39" xml:space="preserve">Correlation, 1% residual filter</text>
<path d="M42.20 36.4H57.00" stroke="#ff0000" stroke-width="1.1"/>
<text transform="translate(63.20 28.80) scale(1.0389 1)" x="-0.54 4.73 9.86 14.21 16.36 20.70 25.04 29.10 34.62 39.75 44.11 46.26 50.59 54.93" y="0" font-size="7.90" xml:space="preserve">Y=0.789X+0.121</text>
<text transform="translate(63.20 38.10) scale(1.0018 1)" x="-0.40 5.56 10.88 15.35 17.62 22.12 26.61 31.08 33.33 35.15 40.22 46.16 50.64 56.16 61.48 65.95 68.22 72.71 77.21" y="0" font-size="7.90" xml:space="preserve">R=0.887  RMSE=0.177</text>
<text transform="translate(63.20 47.40) scale(1.0288 1)" x="-0.26 5.78 10.99 15.40 19.81 24.21 28.62 30.38 35.21 41.06 46.28 50.68 55.09 59.50 63.90 66.13 68.81 73.21 77.62 79.82 84.00 90.84" y="0" font-size="7.90" xml:space="preserve">N=6268 CR=2021 (32.2%)</text>
<path d="M293.20 36.4H308.00" stroke="#ff0000" stroke-width="1.1"/>
<text transform="translate(314.40 28.80) scale(1.0440 1)" x="-0.54 4.73 9.86 14.21 16.36 20.70 25.04 29.10 34.62 39.75 44.11 46.26 50.59 54.93" y="0" font-size="7.90" xml:space="preserve">Y=0.392X+0.066</text>
<text transform="translate(314.40 38.10) scale(1.0079 1)" x="-0.40 5.56 10.88 15.35 17.62 22.12 26.61 31.08 33.33 35.15 40.22 46.16 50.64 56.16 61.48 65.95 68.22 72.71 77.21" y="0" font-size="7.90" xml:space="preserve">R=0.516  RMSE=0.124</text>
<text transform="translate(314.40 47.40) scale(1.0138 1)" x="-0.26 5.78 10.99 15.40 19.81 24.21 28.62 30.38 35.21 41.06 46.28 50.68 55.09 59.50 63.90 66.13 68.81 73.21 77.62 79.82 84.00 90.84" y="0" font-size="7.90" xml:space="preserve">N=6268 CR=2504 (39.9%)</text>
<text transform="translate(78.30 235.40) scale(0.9498 1)" x="-0.10 5.86 11.61 18.06 25.28 31.80 37.70 43.50 45.95 51.68 53.55 59.21 64.77 67.45 73.58 80.75 87.81 90.79 96.56 102.33 108.08 114.04" y="0" font-size="9.59" xml:space="preserve">AERONET Fine AOD 510nm</text>
<text transform="translate(323.50 235.40) scale(0.9598 1)" x="-0.12 5.81 11.52 17.93 25.11 31.59 37.46 43.24 45.69 52.38 57.90 63.58 66.98 71.83 77.37 80.01 86.11 93.23 100.26 103.23 108.96 114.69 120.41 126.33" y="0" font-size="9.59" xml:space="preserve">AERONET Coarse AOD 510nm</text>
<text transform="translate(15.60 177.70) rotate(-90) scale(0.9710 1)" x="-0.10 6.15 13.03 15.90 18.55 25.48 32.00 37.62 43.23 49.28 51.73 57.47 59.34 65.01 70.57 73.25 79.40 86.57 93.63 96.63 102.40 108.17 113.93 119.90" y="0" font-size="9.59" xml:space="preserve">AHI/GRASP Fine AOD 510nm</text>
<text transform="translate(266.80 184.90) rotate(-90) scale(0.9802 1)" x="-0.11 6.10 12.95 15.80 18.42 25.32 31.80 37.38 42.97 48.99 51.44 58.14 63.67 69.36 72.76 77.62 83.16 85.81 91.92 99.05 106.09 109.06 114.80 120.54 126.27 132.19" y="0" font-size="9.59" xml:space="preserve">AHI/GRASP Coarse AOD 510nm</text>
<text transform="translate(74.80 378.90) scale(0.9182 1)" x="0.01 6.50 13.54 16.51 19.34 26.51 33.25 39.07 44.88 51.07 54.00 57.45 60.29 66.47 72.44 79.13 86.61 93.36 99.47 105.43 108.49 111.70 118.03 125.13 131.61" y="0" font-size="9.59" xml:space="preserve">AHI/GRASP - AERONET (SDA)</text>
<text transform="translate(325.80 378.90) scale(0.9182 1)" x="0.01 6.50 13.54 16.51 19.34 26.51 33.25 39.07 44.88 51.07 54.00 57.45 60.29 66.47 72.44 79.13 86.61 93.36 99.47 105.43 108.49 111.70 118.03 125.13 131.61" y="0" font-size="9.59" xml:space="preserve">AHI/GRASP - AERONET (SDA)</text>
<text transform="translate(11.90 331.70) rotate(-90) scale(1.0544 1)" x="-0.07 5.29 8.41 13.34 18.45 23.56 28.90 31.18 33.46 35.94 38.90" y="0" font-size="9.59" xml:space="preserve">probability</text>
<text transform="translate(262.90 331.70) rotate(-90) scale(1.0544 1)" x="-0.07 5.29 8.41 13.34 18.45 23.56 28.90 31.18 33.46 35.94 38.90" y="0" font-size="9.59" xml:space="preserve">probability</text>
<rect x="41.50" y="265.00" width="13.3" height="5" rx="0.8" fill="none" stroke="#000000" stroke-opacity="0.7" stroke-width="0.9"/>
<text transform="translate(60.00 269.70) scale(0.9164 1)" x="-0.30 4.14 7.53 9.89 14.29 16.19 18.45 20.36 25.43 29.03 34.00 39.20 43.60 45.78 50.17 54.57 56.83 59.09 60.83 65.92 68.36 73.33 78.52 82.92 85.11 89.50 93.96 96.22 98.13 104.15 109.35 113.74 118.13 122.52 126.99 129.24 130.98 135.79 141.63 146.82 151.21 155.60 160.00 164.39 166.62 169.27 173.66 178.06 180.24 184.39 191.23" y="0" font-size="7.95" xml:space="preserve">Total: Avg=0.04 ; Std=0.17; N=6268; CR=2021 (32.2%)</text>
<rect x="41.50" y="274.70" width="13.3" height="5" rx="0.8" fill="none" stroke="#ff0000" stroke-opacity="0.7" stroke-width="0.9"/>
<text transform="translate(60.00 279.50) scale(0.9262 1)" x="0.53 5.67 10.02 12.17 16.59 18.82 20.69 25.70 29.26 34.16 39.30 43.66 45.80 50.14 54.49 56.72 58.96 60.65 65.70 68.09 73.00 78.13 82.49 84.64 88.97 93.39 95.63 97.49 103.44 108.58 112.91 117.25 121.58 126.01 128.24 129.93 134.68 140.45 145.59 149.92 154.26 158.62 160.81 163.42 167.75 172.11 174.26 178.34 185.12" y="0" font-size="7.95" xml:space="preserve">&lt;0.2: Avg=0.08 ; Std=0.11; N=2720; CR=949 (34.9%)</text>
<rect x="41.50" y="284.40" width="13.3" height="5" rx="0.8" fill="none" stroke="#0000ff" stroke-opacity="0.7" stroke-width="0.9"/>
<text transform="translate(60.00 289.30) scale(0.9211 1)" x="0.23 2.64 7.01 9.18 13.55 15.71 20.08 22.24 26.87 29.36 31.60 33.48 38.52 42.09 47.02 52.18 56.56 58.72 63.08 67.45 69.69 71.93 73.65 78.71 81.12 86.06 91.22 95.59 97.75 102.11 106.55 108.79 110.67 116.65 121.81 126.17 130.53 134.89 139.33 141.57 143.28 148.05 153.85 159.01 163.37 167.72 172.10 174.30 176.93 181.29 185.66 187.82 191.93 198.73" y="0" font-size="7.95" xml:space="preserve">[0.2,0.7]: Avg=0.06 ; Std=0.16; N=2565; CR=781 (30.4%)</text>
<rect x="41.50" y="294.10" width="13.3" height="5" rx="0.8" fill="none" stroke="#008000" stroke-opacity="0.7" stroke-width="0.9"/>
<text transform="translate(60.00 299.10) scale(0.9253 1)" x="0.54 5.67 10.03 12.18 16.60 18.83 20.70 25.72 29.28 34.19 39.27 41.78 46.14 48.29 52.63 56.98 59.22 61.45 63.15 68.20 70.59 75.50 80.64 85.00 87.14 91.48 95.91 98.14 100.01 105.96 111.10 115.44 119.78 124.20 126.43 128.13 132.88 138.65 143.79 148.13 152.47 156.83 159.02 161.63 165.97 170.33 172.48 176.56 183.34" y="0" font-size="7.95" xml:space="preserve">&gt;0.7: Avg=-0.11 ; Std=0.24; N=983; CR=291 (29.6%)</text>
<rect x="292.50" y="265.00" width="13.3" height="5" rx="0.8" fill="none" stroke="#000000" stroke-opacity="0.7" stroke-width="0.9"/>
<text transform="translate(311.00 269.70) scale(0.9158 1)" x="-0.30 4.14 7.54 9.90 14.31 16.21 18.47 20.38 25.45 29.06 34.03 39.17 41.73 46.13 48.31 52.71 57.11 59.37 61.63 63.37 68.47 70.91 75.88 81.08 85.48 87.67 92.06 96.53 98.79 100.71 106.73 111.93 116.33 120.72 125.11 129.58 131.84 133.58 138.39 144.24 149.44 153.83 158.22 162.62 167.02 169.24 171.90 176.29 180.70 182.88 187.04 193.88" y="0" font-size="7.95" xml:space="preserve">Total: Avg=-0.01 ; Std=0.12; N=6268; CR=2504 (39.9%)</text>
<rect x="292.50" y="274.70" width="13.3" height="5" rx="0.8" fill="none" stroke="#ff0000" stroke-opacity="0.7" stroke-width="0.9"/>
<text transform="translate(311.00 279.50) scale(0.9233 1)" x="0.54 5.69 10.06 12.22 16.65 18.89 20.77 25.80 29.37 34.29 39.44 43.81 45.97 50.32 54.69 56.93 59.17 60.88 65.94 68.34 73.27 78.42 82.79 84.94 89.29 93.73 95.97 97.84 103.82 108.97 113.32 117.67 122.02 126.45 128.69 130.40 135.16 140.95 146.11 150.46 154.81 159.16 163.53 165.73 168.35 172.70 177.07 179.23 183.33 190.12" y="0" font-size="7.95" xml:space="preserve">&lt;0.2: Avg=0.02 ; Std=0.10; N=4915; CR=2410 (49.0%)</text>
<rect x="292.50" y="284.40" width="13.3" height="5" rx="0.8" fill="none" stroke="#0000ff" stroke-opacity="0.7" stroke-width="0.9"/>
<text transform="translate(311.00 289.30) scale(0.9249 1)" x="0.23 2.63 6.99 9.14 13.51 15.66 20.03 22.18 26.79 29.27 31.51 33.38 38.40 41.97 46.89 51.98 54.50 58.86 61.01 65.36 69.72 71.96 74.20 75.90 80.96 83.36 88.28 93.42 97.79 99.94 104.28 108.71 110.95 112.82 118.79 123.93 128.28 132.62 136.97 141.40 143.64 145.34 150.10 155.88 161.03 165.37 169.74 171.94 174.55 178.92 181.07 185.16 191.95" y="0" font-size="7.95" xml:space="preserve">[0.2,0.7]: Avg=-0.15 ; Std=0.09; N=1311; CR=94 (7.2%)</text>
<rect x="292.50" y="294.10" width="13.3" height="5" rx="0.8" fill="none" stroke="#008000" stroke-opacity="0.7" stroke-width="0.9"/>
<text transform="translate(311.00 299.10) scale(0.9177 1)" x="0.54 5.68 10.05 12.20 16.63 18.86 20.74 25.76 29.32 34.24 39.33 41.85 46.21 48.36 52.71 57.07 59.31 61.54 63.25 68.30 70.70 75.62 80.76 85.13 87.28 91.63 96.05 98.29 100.16 106.13 111.27 115.62 120.05 122.28 123.98 128.74 134.52 139.67 144.03 146.23 148.85 153.21 155.36 159.46 166.24" y="0" font-size="7.95" xml:space="preserve">&gt;0.7: Avg=-0.36 ; Std=0.12; N=42; CR=0 (0.0%)</text>
</svg></body></html>
